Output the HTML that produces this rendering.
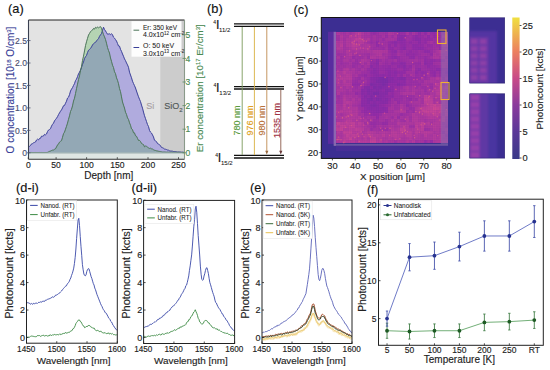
<!DOCTYPE html>
<html><head><meta charset="utf-8"><style>html,body{margin:0;padding:0;background:#fff;overflow:hidden}svg{display:block}text{font-family:"Liberation Sans",sans-serif}</style></head>
<body><svg width="550" height="370" viewBox="0 0 550 370" font-family="Liberation Sans, sans-serif"><rect x="28.50" y="20.00" width="156.00" height="139.20" fill="#e3e3e3" stroke="none" stroke-width="1" />
<rect x="160.30" y="20.00" width="24.20" height="139.20" fill="#cccccc" stroke="none" stroke-width="1" />
<rect x="28.50" y="152.80" width="156.00" height="6.40" fill="#dfe6e3" stroke="none" stroke-width="1" />
<path d="M28.50,152.80 L28.50,145.98 L29.50,146.33 L30.50,145.52 L31.50,143.90 L32.50,143.61 L33.50,142.81 L34.50,142.46 L35.50,141.98 L36.50,140.01 L37.50,139.17 L38.50,139.91 L39.50,138.45 L40.50,138.29 L41.50,136.17 L42.50,136.22 L43.50,135.96 L44.50,134.32 L45.50,134.86 L46.50,134.03 L47.50,131.55 L48.50,130.04 L49.50,129.46 L50.50,128.66 L51.50,126.15 L52.50,124.35 L53.50,123.19 L54.50,120.83 L55.50,119.52 L56.50,118.26 L57.50,116.70 L58.50,114.58 L59.50,112.92 L60.50,111.19 L61.50,109.92 L62.50,107.91 L63.50,105.72 L64.50,105.48 L65.50,103.27 L66.50,101.19 L67.50,98.07 L68.50,97.23 L69.50,94.70 L70.50,91.07 L71.50,89.16 L72.50,87.66 L73.50,85.46 L74.50,83.68 L75.50,80.58 L76.50,79.13 L77.50,76.67 L78.50,73.83 L79.50,72.16 L80.50,70.13 L81.50,67.51 L82.50,64.34 L83.50,61.93 L84.50,58.60 L85.50,56.74 L86.50,55.51 L87.50,52.59 L88.50,50.25 L89.50,49.52 L90.50,48.39 L91.50,46.93 L92.50,44.98 L93.50,43.69 L94.50,42.84 L95.50,42.35 L96.50,40.91 L97.50,39.70 L98.50,38.61 L99.50,36.33 L100.50,34.90 L101.50,33.52 L102.50,30.33 L103.50,27.20 L104.50,29.48 L105.50,30.93 L106.50,32.57 L107.50,34.23 L108.50,34.05 L109.50,33.83 L110.50,34.61 L111.50,33.68 L112.50,34.81 L113.50,37.21 L114.50,38.15 L115.50,39.59 L116.50,41.09 L117.50,43.43 L118.50,46.00 L119.50,46.12 L120.50,49.36 L121.50,51.33 L122.50,53.98 L123.50,56.25 L124.50,58.90 L125.50,60.63 L126.50,62.93 L127.50,64.90 L128.50,67.28 L129.50,72.15 L130.50,75.02 L131.50,77.76 L132.50,81.19 L133.50,83.53 L134.50,85.66 L135.50,88.01 L136.50,91.03 L137.50,93.98 L138.50,96.76 L139.50,99.28 L140.50,101.57 L141.50,105.10 L142.50,108.17 L143.50,112.07 L144.50,115.73 L145.50,118.60 L146.50,121.56 L147.50,124.55 L148.50,126.50 L149.50,130.42 L150.50,132.11 L151.50,133.05 L152.50,134.93 L153.50,136.93 L154.50,140.26 L155.50,140.86 L156.50,141.62 L157.50,143.56 L158.50,144.07 L159.50,144.64 L160.50,145.89 L161.50,147.43 L162.50,147.74 L163.50,148.26 L164.50,149.06 L165.50,149.22 L166.50,149.52 L167.50,150.01 L168.50,150.16 L169.50,150.76 L170.50,151.03 L171.50,151.07 L172.50,151.18 L173.50,151.56 L174.50,151.57 L175.50,151.61 L176.50,151.84 L177.50,152.00 L178.50,151.94 L179.50,151.99 L180.50,152.06 L181.50,152.19 L182.50,152.16 L183.50,152.28 L184.50,152.32 L184.50,152.80" stroke="none" fill="#b0abde" stroke-width="1" />
<path d="M28.50,152.80 L28.50,152.53 L29.50,152.53 L30.50,152.47 L31.50,152.47 L32.50,152.52 L33.50,152.52 L34.50,152.51 L35.50,152.49 L36.50,152.51 L37.50,152.51 L38.50,152.51 L39.50,152.48 L40.50,152.50 L41.50,152.49 L42.50,152.52 L43.50,152.53 L44.50,152.53 L45.50,152.50 L46.50,152.50 L47.50,152.39 L48.50,151.88 L49.50,151.39 L50.50,151.06 L51.50,150.54 L52.50,150.12 L53.50,150.01 L54.50,149.32 L55.50,148.81 L56.50,146.93 L57.50,145.01 L58.50,143.96 L59.50,142.13 L60.50,141.31 L61.50,140.70 L62.50,137.33 L63.50,133.66 L64.50,132.16 L65.50,129.20 L66.50,126.30 L67.50,123.14 L68.50,119.33 L69.50,115.83 L70.50,111.49 L71.50,109.25 L72.50,105.86 L73.50,101.07 L74.50,98.19 L75.50,93.58 L76.50,88.58 L77.50,84.17 L78.50,79.55 L79.50,75.80 L80.50,70.49 L81.50,66.55 L82.50,60.49 L83.50,56.17 L84.50,50.93 L85.50,45.61 L86.50,41.77 L87.50,38.38 L88.50,35.10 L89.50,33.43 L90.50,31.70 L91.50,30.63 L92.50,30.06 L93.50,28.44 L94.50,29.12 L95.50,27.31 L96.50,28.17 L97.50,26.88 L98.50,27.84 L99.50,27.18 L100.50,26.61 L101.50,28.16 L102.50,31.65 L103.50,34.56 L104.50,36.86 L105.50,39.47 L106.50,43.20 L107.50,47.51 L108.50,50.50 L109.50,53.06 L110.50,57.95 L111.50,61.33 L112.50,65.21 L113.50,67.47 L114.50,71.79 L115.50,73.64 L116.50,77.80 L117.50,80.29 L118.50,83.71 L119.50,88.57 L120.50,91.65 L121.50,96.86 L122.50,101.92 L123.50,105.14 L124.50,108.05 L125.50,112.23 L126.50,114.39 L127.50,117.89 L128.50,119.43 L129.50,122.80 L130.50,125.23 L131.50,128.91 L132.50,129.55 L133.50,132.82 L134.50,132.85 L135.50,135.81 L136.50,136.24 L137.50,138.36 L138.50,140.46 L139.50,140.37 L140.50,141.51 L141.50,143.51 L142.50,144.06 L143.50,144.59 L144.50,146.84 L145.50,146.02 L146.50,146.31 L147.50,147.14 L148.50,147.87 L149.50,148.40 L150.50,148.18 L151.50,148.82 L152.50,149.01 L153.50,149.74 L154.50,150.24 L155.50,150.47 L156.50,150.79 L157.50,150.96 L158.50,151.24 L159.50,151.43 L160.50,151.61 L161.50,151.81 L162.50,152.04 L163.50,152.00 L164.50,151.99 L165.50,152.07 L166.50,152.16 L167.50,152.07 L168.50,152.16 L169.50,152.15 L170.50,152.19 L171.50,152.16 L172.50,152.29 L173.50,152.23 L174.50,152.29 L175.50,152.29 L176.50,152.27 L177.50,152.35 L178.50,152.33 L179.50,152.35 L180.50,152.37 L181.50,152.41 L182.50,152.42 L183.50,152.49 L184.50,152.50 L184.50,152.80" stroke="none" fill="#b5d4b3" stroke-width="1" />
<path d="M28.50,152.80 L28.50,152.53 L29.50,152.53 L30.50,152.47 L31.50,152.47 L32.50,152.52 L33.50,152.52 L34.50,152.51 L35.50,152.49 L36.50,152.51 L37.50,152.51 L38.50,152.51 L39.50,152.48 L40.50,152.50 L41.50,152.49 L42.50,152.52 L43.50,152.53 L44.50,152.53 L45.50,152.50 L46.50,152.50 L47.50,152.39 L48.50,151.88 L49.50,151.39 L50.50,151.06 L51.50,150.54 L52.50,150.12 L53.50,150.01 L54.50,149.32 L55.50,148.81 L56.50,146.93 L57.50,145.01 L58.50,143.96 L59.50,142.13 L60.50,141.31 L61.50,140.70 L62.50,137.33 L63.50,133.66 L64.50,132.16 L65.50,129.20 L66.50,126.30 L67.50,123.14 L68.50,119.33 L69.50,115.83 L70.50,111.49 L71.50,109.25 L72.50,105.86 L73.50,101.07 L74.50,98.19 L75.50,93.58 L76.50,88.58 L77.50,84.17 L78.50,79.55 L79.50,75.80 L80.50,70.49 L81.50,67.51 L82.50,64.34 L83.50,61.93 L84.50,58.60 L85.50,56.74 L86.50,55.51 L87.50,52.59 L88.50,50.25 L89.50,49.52 L90.50,48.39 L91.50,46.93 L92.50,44.98 L93.50,43.69 L94.50,42.84 L95.50,42.35 L96.50,40.91 L97.50,39.70 L98.50,38.61 L99.50,36.33 L100.50,34.90 L101.50,33.52 L102.50,31.65 L103.50,34.56 L104.50,36.86 L105.50,39.47 L106.50,43.20 L107.50,47.51 L108.50,50.50 L109.50,53.06 L110.50,57.95 L111.50,61.33 L112.50,65.21 L113.50,67.47 L114.50,71.79 L115.50,73.64 L116.50,77.80 L117.50,80.29 L118.50,83.71 L119.50,88.57 L120.50,91.65 L121.50,96.86 L122.50,101.92 L123.50,105.14 L124.50,108.05 L125.50,112.23 L126.50,114.39 L127.50,117.89 L128.50,119.43 L129.50,122.80 L130.50,125.23 L131.50,128.91 L132.50,129.55 L133.50,132.82 L134.50,132.85 L135.50,135.81 L136.50,136.24 L137.50,138.36 L138.50,140.46 L139.50,140.37 L140.50,141.51 L141.50,143.51 L142.50,144.06 L143.50,144.59 L144.50,146.84 L145.50,146.02 L146.50,146.31 L147.50,147.14 L148.50,147.87 L149.50,148.40 L150.50,148.18 L151.50,148.82 L152.50,149.01 L153.50,149.74 L154.50,150.24 L155.50,150.47 L156.50,150.79 L157.50,150.96 L158.50,151.24 L159.50,151.43 L160.50,151.61 L161.50,151.81 L162.50,152.04 L163.50,152.00 L164.50,151.99 L165.50,152.07 L166.50,152.16 L167.50,152.07 L168.50,152.16 L169.50,152.15 L170.50,152.19 L171.50,152.16 L172.50,152.29 L173.50,152.23 L174.50,152.29 L175.50,152.29 L176.50,152.27 L177.50,152.35 L178.50,152.33 L179.50,152.35 L180.50,152.37 L181.50,152.41 L182.50,152.42 L183.50,152.49 L184.50,152.50 L184.50,152.80" stroke="none" fill="#93a8b5" stroke-width="1" />
<path d="M28.50,145.98 L29.50,146.33 L30.50,145.52 L31.50,143.90 L32.50,143.61 L33.50,142.81 L34.50,142.46 L35.50,141.98 L36.50,140.01 L37.50,139.17 L38.50,139.91 L39.50,138.45 L40.50,138.29 L41.50,136.17 L42.50,136.22 L43.50,135.96 L44.50,134.32 L45.50,134.86 L46.50,134.03 L47.50,131.55 L48.50,130.04 L49.50,129.46 L50.50,128.66 L51.50,126.15 L52.50,124.35 L53.50,123.19 L54.50,120.83 L55.50,119.52 L56.50,118.26 L57.50,116.70 L58.50,114.58 L59.50,112.92 L60.50,111.19 L61.50,109.92 L62.50,107.91 L63.50,105.72 L64.50,105.48 L65.50,103.27 L66.50,101.19 L67.50,98.07 L68.50,97.23 L69.50,94.70 L70.50,91.07 L71.50,89.16 L72.50,87.66 L73.50,85.46 L74.50,83.68 L75.50,80.58 L76.50,79.13 L77.50,76.67 L78.50,73.83 L79.50,72.16 L80.50,70.13 L81.50,67.51 L82.50,64.34 L83.50,61.93 L84.50,58.60 L85.50,56.74 L86.50,55.51 L87.50,52.59 L88.50,50.25 L89.50,49.52 L90.50,48.39 L91.50,46.93 L92.50,44.98 L93.50,43.69 L94.50,42.84 L95.50,42.35 L96.50,40.91 L97.50,39.70 L98.50,38.61 L99.50,36.33 L100.50,34.90 L101.50,33.52 L102.50,30.33 L103.50,27.20 L104.50,29.48 L105.50,30.93 L106.50,32.57 L107.50,34.23 L108.50,34.05 L109.50,33.83 L110.50,34.61 L111.50,33.68 L112.50,34.81 L113.50,37.21 L114.50,38.15 L115.50,39.59 L116.50,41.09 L117.50,43.43 L118.50,46.00 L119.50,46.12 L120.50,49.36 L121.50,51.33 L122.50,53.98 L123.50,56.25 L124.50,58.90 L125.50,60.63 L126.50,62.93 L127.50,64.90 L128.50,67.28 L129.50,72.15 L130.50,75.02 L131.50,77.76 L132.50,81.19 L133.50,83.53 L134.50,85.66 L135.50,88.01 L136.50,91.03 L137.50,93.98 L138.50,96.76 L139.50,99.28 L140.50,101.57 L141.50,105.10 L142.50,108.17 L143.50,112.07 L144.50,115.73 L145.50,118.60 L146.50,121.56 L147.50,124.55 L148.50,126.50 L149.50,130.42 L150.50,132.11 L151.50,133.05 L152.50,134.93 L153.50,136.93 L154.50,140.26 L155.50,140.86 L156.50,141.62 L157.50,143.56 L158.50,144.07 L159.50,144.64 L160.50,145.89 L161.50,147.43 L162.50,147.74 L163.50,148.26 L164.50,149.06 L165.50,149.22 L166.50,149.52 L167.50,150.01 L168.50,150.16 L169.50,150.76 L170.50,151.03 L171.50,151.07 L172.50,151.18 L173.50,151.56 L174.50,151.57 L175.50,151.61 L176.50,151.84 L177.50,152.00 L178.50,151.94 L179.50,151.99 L180.50,152.06 L181.50,152.19 L182.50,152.16 L183.50,152.28 L184.50,152.32" stroke="#3a3f98" fill="none" stroke-width="1" stroke-linejoin="round"/>
<path d="M28.50,152.53 L29.50,152.53 L30.50,152.47 L31.50,152.47 L32.50,152.52 L33.50,152.52 L34.50,152.51 L35.50,152.49 L36.50,152.51 L37.50,152.51 L38.50,152.51 L39.50,152.48 L40.50,152.50 L41.50,152.49 L42.50,152.52 L43.50,152.53 L44.50,152.53 L45.50,152.50 L46.50,152.50 L47.50,152.39 L48.50,151.88 L49.50,151.39 L50.50,151.06 L51.50,150.54 L52.50,150.12 L53.50,150.01 L54.50,149.32 L55.50,148.81 L56.50,146.93 L57.50,145.01 L58.50,143.96 L59.50,142.13 L60.50,141.31 L61.50,140.70 L62.50,137.33 L63.50,133.66 L64.50,132.16 L65.50,129.20 L66.50,126.30 L67.50,123.14 L68.50,119.33 L69.50,115.83 L70.50,111.49 L71.50,109.25 L72.50,105.86 L73.50,101.07 L74.50,98.19 L75.50,93.58 L76.50,88.58 L77.50,84.17 L78.50,79.55 L79.50,75.80 L80.50,70.49 L81.50,66.55 L82.50,60.49 L83.50,56.17 L84.50,50.93 L85.50,45.61 L86.50,41.77 L87.50,38.38 L88.50,35.10 L89.50,33.43 L90.50,31.70 L91.50,30.63 L92.50,30.06 L93.50,28.44 L94.50,29.12 L95.50,27.31 L96.50,28.17 L97.50,26.88 L98.50,27.84 L99.50,27.18 L100.50,26.61 L101.50,28.16 L102.50,31.65 L103.50,34.56 L104.50,36.86 L105.50,39.47 L106.50,43.20 L107.50,47.51 L108.50,50.50 L109.50,53.06 L110.50,57.95 L111.50,61.33 L112.50,65.21 L113.50,67.47 L114.50,71.79 L115.50,73.64 L116.50,77.80 L117.50,80.29 L118.50,83.71 L119.50,88.57 L120.50,91.65 L121.50,96.86 L122.50,101.92 L123.50,105.14 L124.50,108.05 L125.50,112.23 L126.50,114.39 L127.50,117.89 L128.50,119.43 L129.50,122.80 L130.50,125.23 L131.50,128.91 L132.50,129.55 L133.50,132.82 L134.50,132.85 L135.50,135.81 L136.50,136.24 L137.50,138.36 L138.50,140.46 L139.50,140.37 L140.50,141.51 L141.50,143.51 L142.50,144.06 L143.50,144.59 L144.50,146.84 L145.50,146.02 L146.50,146.31 L147.50,147.14 L148.50,147.87 L149.50,148.40 L150.50,148.18 L151.50,148.82 L152.50,149.01 L153.50,149.74 L154.50,150.24 L155.50,150.47 L156.50,150.79 L157.50,150.96 L158.50,151.24 L159.50,151.43 L160.50,151.61 L161.50,151.81 L162.50,152.04 L163.50,152.00 L164.50,151.99 L165.50,152.07 L166.50,152.16 L167.50,152.07 L168.50,152.16 L169.50,152.15 L170.50,152.19 L171.50,152.16 L172.50,152.29 L173.50,152.23 L174.50,152.29 L175.50,152.29 L176.50,152.27 L177.50,152.35 L178.50,152.33 L179.50,152.35 L180.50,152.37 L181.50,152.41 L182.50,152.42 L183.50,152.49 L184.50,152.50" stroke="#4a7358" fill="none" stroke-width="1" stroke-linejoin="round"/>
<line x1="28.50" y1="153.10" x2="184.50" y2="153.10" stroke="#a8b8b8" stroke-width="1" />
<line x1="28.50" y1="20.00" x2="184.50" y2="20.00" stroke="#222" stroke-width="1.1" />
<line x1="28.50" y1="159.20" x2="184.50" y2="159.20" stroke="#333" stroke-width="1.1" />
<line x1="28.50" y1="20.00" x2="28.50" y2="159.20" stroke="#3a4050" stroke-width="1.1" />
<line x1="184.50" y1="20.00" x2="184.50" y2="159.20" stroke="#8a9a8a" stroke-width="1.1" />
<rect x="131.50" y="21.20" width="50.00" height="35.50" fill="#fff" stroke="none" stroke-width="1" fill-opacity="0.93"/>
<line x1="133.50" y1="30.20" x2="139.20" y2="30.20" stroke="#4a7358" stroke-width="1" />
<line x1="133.50" y1="47.50" x2="139.20" y2="47.50" stroke="#3a3f98" stroke-width="1" />
<text x="143.0" y="29.8" font-size="7" fill="#222" stroke="#222" stroke-width="0.06" text-anchor="start" textLength="34" lengthAdjust="spacingAndGlyphs">Er: 350 keV</text>
<text x="143.0" y="37.2" font-size="7" fill="#222" stroke="#222" stroke-width="0.06" text-anchor="start" >4.0x10<tspan font-size="4.5" dy="-2.5">12</tspan><tspan dy="2.5"> cm</tspan><tspan font-size="4.5" dy="-2.5">-2</tspan></text>
<text x="143.0" y="48.3" font-size="7" fill="#222" stroke="#222" stroke-width="0.06" text-anchor="start" >O: 50 keV</text>
<text x="143.0" y="55.6" font-size="7" fill="#222" stroke="#222" stroke-width="0.06" text-anchor="start" >3.0x10<tspan font-size="4.5" dy="-2.5">13</tspan><tspan dy="2.5"> cm</tspan><tspan font-size="4.5" dy="-2.5">-2</tspan></text>
<text x="146.3" y="109.3" font-size="9" fill="#a8a0a4" stroke="#a8a0a4" stroke-width="0.14" text-anchor="start" >Si</text>
<text x="164.3" y="109.3" font-size="9" fill="#505858" stroke="#505858" stroke-width="0.14" text-anchor="start" >SiO<tspan font-size="6" dy="2.5">2</tspan></text>
<line x1="27.00" y1="152.80" x2="30.50" y2="152.80" stroke="#4a5070" stroke-width="0.8" />
<text x="27.0" y="155.9" font-size="8.6" fill="#4a5070" stroke="#4a5070" stroke-width="0.14" text-anchor="end" >0</text>
<line x1="27.00" y1="130.35" x2="30.50" y2="130.35" stroke="#4a5070" stroke-width="0.8" />
<text x="27.0" y="133.5" font-size="8.6" fill="#4a5070" stroke="#4a5070" stroke-width="0.14" text-anchor="end" >0.5</text>
<line x1="27.00" y1="107.90" x2="30.50" y2="107.90" stroke="#4a5070" stroke-width="0.8" />
<text x="27.0" y="111.0" font-size="8.6" fill="#4a5070" stroke="#4a5070" stroke-width="0.14" text-anchor="end" >1.0</text>
<line x1="27.00" y1="85.45" x2="30.50" y2="85.45" stroke="#4a5070" stroke-width="0.8" />
<text x="27.0" y="88.6" font-size="8.6" fill="#4a5070" stroke="#4a5070" stroke-width="0.14" text-anchor="end" >1.5</text>
<line x1="27.00" y1="63.00" x2="30.50" y2="63.00" stroke="#4a5070" stroke-width="0.8" />
<text x="27.0" y="66.1" font-size="8.6" fill="#4a5070" stroke="#4a5070" stroke-width="0.14" text-anchor="end" >2.0</text>
<line x1="27.00" y1="40.55" x2="30.50" y2="40.55" stroke="#4a5070" stroke-width="0.8" />
<text x="27.0" y="43.7" font-size="8.6" fill="#4a5070" stroke="#4a5070" stroke-width="0.14" text-anchor="end" >2.5</text>
<line x1="182.50" y1="152.80" x2="186.00" y2="152.80" stroke="#5a8a60" stroke-width="0.8" />
<text x="185.6" y="155.9" font-size="8.6" fill="#4a8a55" stroke="#4a8a55" stroke-width="0.14" text-anchor="start" >0</text>
<line x1="182.50" y1="129.20" x2="186.00" y2="129.20" stroke="#5a8a60" stroke-width="0.8" />
<text x="185.6" y="132.3" font-size="8.6" fill="#4a8a55" stroke="#4a8a55" stroke-width="0.14" text-anchor="start" >1</text>
<line x1="182.50" y1="105.60" x2="186.00" y2="105.60" stroke="#5a8a60" stroke-width="0.8" />
<text x="185.6" y="108.7" font-size="8.6" fill="#4a8a55" stroke="#4a8a55" stroke-width="0.14" text-anchor="start" >2</text>
<line x1="182.50" y1="82.00" x2="186.00" y2="82.00" stroke="#5a8a60" stroke-width="0.8" />
<text x="185.6" y="85.1" font-size="8.6" fill="#4a8a55" stroke="#4a8a55" stroke-width="0.14" text-anchor="start" >3</text>
<line x1="182.50" y1="58.40" x2="186.00" y2="58.40" stroke="#5a8a60" stroke-width="0.8" />
<text x="185.6" y="61.5" font-size="8.6" fill="#4a8a55" stroke="#4a8a55" stroke-width="0.14" text-anchor="start" >4</text>
<line x1="182.50" y1="34.80" x2="186.00" y2="34.80" stroke="#5a8a60" stroke-width="0.8" />
<text x="185.6" y="37.9" font-size="8.6" fill="#4a8a55" stroke="#4a8a55" stroke-width="0.14" text-anchor="start" >5</text>
<line x1="28.30" y1="159.20" x2="28.30" y2="157.20" stroke="#333" stroke-width="0.8" />
<text x="28.3" y="167.5" font-size="8.6" fill="#222" stroke="#222" stroke-width="0.14" text-anchor="middle" >0</text>
<line x1="56.10" y1="159.20" x2="56.10" y2="157.20" stroke="#333" stroke-width="0.8" />
<text x="56.1" y="167.5" font-size="8.6" fill="#222" stroke="#222" stroke-width="0.14" text-anchor="middle" >50</text>
<line x1="86.60" y1="159.20" x2="86.60" y2="157.20" stroke="#333" stroke-width="0.8" />
<text x="86.6" y="167.5" font-size="8.6" fill="#222" stroke="#222" stroke-width="0.14" text-anchor="middle" >100</text>
<line x1="117.30" y1="159.20" x2="117.30" y2="157.20" stroke="#333" stroke-width="0.8" />
<text x="117.3" y="167.5" font-size="8.6" fill="#222" stroke="#222" stroke-width="0.14" text-anchor="middle" >150</text>
<line x1="148.00" y1="159.20" x2="148.00" y2="157.20" stroke="#333" stroke-width="0.8" />
<text x="148.0" y="167.5" font-size="8.6" fill="#222" stroke="#222" stroke-width="0.14" text-anchor="middle" >200</text>
<line x1="178.50" y1="159.20" x2="178.50" y2="157.20" stroke="#333" stroke-width="0.8" />
<text x="178.5" y="167.5" font-size="8.6" fill="#222" stroke="#222" stroke-width="0.14" text-anchor="middle" >250</text>
<text x="108.8" y="178.5" font-size="10" fill="#222" stroke="#222" stroke-width="0.14" text-anchor="middle" >Depth [nm]</text>
<text x="13.5" y="90.0" font-size="10" fill="#3a3f98" stroke="#3a3f98" stroke-width="0.14" text-anchor="middle" transform="rotate(-90 13.5 90)" >O concentration [10<tspan font-size="6" dy="-3">18</tspan><tspan dy="3"> O/cm</tspan><tspan font-size="6" dy="-3">3</tspan><tspan dy="3">]</tspan></text>
<text x="203.0" y="88.3" font-size="9.75" fill="#4a8a52" stroke="#4a8a52" stroke-width="0.14" text-anchor="middle" transform="rotate(-90 203 88.3)" >Er concentration [10<tspan font-size="5.9" dy="-3">17</tspan><tspan dy="3"> Er/cm</tspan><tspan font-size="5.9" dy="-3">3</tspan><tspan dy="3">]</tspan></text>
<text x="8.0" y="13.3" font-size="12.8" fill="#111" stroke="#111" stroke-width="0.14" text-anchor="start" >(a)</text>
<text x="207.0" y="13.3" font-size="12.8" fill="#111" stroke="#111" stroke-width="0.14" text-anchor="start" >(b)</text>
<line x1="234.00" y1="23.80" x2="284.00" y2="23.80" stroke="#111" stroke-width="1.3" />
<line x1="234.00" y1="26.30" x2="284.00" y2="26.30" stroke="#111" stroke-width="1.3" />
<line x1="234.00" y1="86.60" x2="284.00" y2="86.60" stroke="#111" stroke-width="1.3" />
<line x1="234.00" y1="89.00" x2="284.00" y2="89.00" stroke="#111" stroke-width="1.3" />
<line x1="234.00" y1="155.30" x2="284.00" y2="155.30" stroke="#111" stroke-width="1.3" />
<line x1="234.00" y1="158.00" x2="284.00" y2="158.00" stroke="#111" stroke-width="1.3" />
<line x1="242.20" y1="27.00" x2="242.20" y2="155.00" stroke="#7a9a5a" stroke-width="0.9" />
<line x1="254.40" y1="27.00" x2="254.40" y2="155.00" stroke="#d8b040" stroke-width="0.9" />
<line x1="266.80" y1="27.00" x2="266.80" y2="151.00" stroke="#c08a50" stroke-width="0.9" />
<path d="M265.2,150.8 L268.4,150.8 L266.8,154.6 Z" fill="#9a6a40"/>
<line x1="280.80" y1="89.50" x2="280.80" y2="151.00" stroke="#8a5a4a" stroke-width="0.9" />
<path d="M279.2,150.8 L282.4,150.8 L280.8,154.6 Z" fill="#6a3a3a"/>
<text x="213.3" y="23.5" font-size="5" fill="#111" stroke="#111" stroke-width="0.06" text-anchor="start" >4</text>
<text x="215.9" y="28.8" font-size="12.5" fill="#111" stroke="#111" stroke-width="0.14" text-anchor="start" >I</text>
<text x="219.1" y="31.5" font-size="6" fill="#111" stroke="#111" stroke-width="0.06" text-anchor="start" >11/2</text>
<text x="213.5" y="86.5" font-size="5" fill="#111" stroke="#111" stroke-width="0.06" text-anchor="start" >4</text>
<text x="216.1" y="91.8" font-size="12.5" fill="#111" stroke="#111" stroke-width="0.14" text-anchor="start" >I</text>
<text x="219.3" y="94.5" font-size="6" fill="#111" stroke="#111" stroke-width="0.06" text-anchor="start" >13/2</text>
<text x="215.2" y="156.7" font-size="5" fill="#111" stroke="#111" stroke-width="0.06" text-anchor="start" >4</text>
<text x="217.8" y="162.0" font-size="12.5" fill="#111" stroke="#111" stroke-width="0.14" text-anchor="start" >I</text>
<text x="221.0" y="164.7" font-size="6" fill="#111" stroke="#111" stroke-width="0.06" text-anchor="start" >15/2</text>
<text x="240.3" y="120.5" font-size="9" fill="#5a9a40" stroke="#5a9a40" stroke-width="0.14" text-anchor="middle" transform="rotate(-90 240.3 120.5)" >780 nm</text>
<text x="252.5" y="120.5" font-size="9" fill="#e0a020" stroke="#e0a020" stroke-width="0.14" text-anchor="middle" transform="rotate(-90 252.5 120.5)" >976 nm</text>
<text x="264.7" y="120.5" font-size="9" fill="#b87038" stroke="#b87038" stroke-width="0.14" text-anchor="middle" transform="rotate(-90 264.7 120.5)" >980 nm</text>
<text x="279.5" y="120.5" font-size="9" fill="#a03040" stroke="#a03040" stroke-width="0.14" text-anchor="middle" transform="rotate(-90 279.5 120.5)" >1535 nm</text>
<text x="293.5" y="13.5" font-size="12.8" fill="#111" stroke="#111" stroke-width="0.14" text-anchor="start" >(c)</text>
<rect x="321.30" y="17.50" width="138.30" height="140.90" fill="#3c2e92" stroke="none" stroke-width="1" />
<g shape-rendering="crispEdges">
<rect x="334.0" y="31.8" width="3" height="3" fill="#a935a2"/>
<rect x="337.0" y="31.8" width="3" height="3" fill="#b2399f"/>
<rect x="340.0" y="31.8" width="3" height="3" fill="#ab36a1"/>
<rect x="343.0" y="31.8" width="3" height="3" fill="#a633a3"/>
<rect x="346.0" y="31.8" width="3" height="3" fill="#af37a0"/>
<rect x="349.0" y="31.8" width="3" height="3" fill="#a633a2"/>
<rect x="352.0" y="31.8" width="3" height="3" fill="#ae37a0"/>
<rect x="355.0" y="31.8" width="3" height="3" fill="#b83c9d"/>
<rect x="358.0" y="31.8" width="3" height="3" fill="#bd3e9c"/>
<rect x="361.0" y="31.8" width="3" height="3" fill="#b1389f"/>
<rect x="364.0" y="31.8" width="3" height="3" fill="#a734a2"/>
<rect x="367.0" y="31.8" width="3" height="3" fill="#ac36a1"/>
<rect x="370.0" y="31.8" width="3" height="3" fill="#9d2fa5"/>
<rect x="373.0" y="31.8" width="3" height="3" fill="#992da6"/>
<rect x="376.0" y="31.8" width="3" height="3" fill="#9f30a5"/>
<rect x="379.0" y="31.8" width="3" height="3" fill="#a734a2"/>
<rect x="382.0" y="31.8" width="3" height="3" fill="#a533a3"/>
<rect x="385.0" y="31.8" width="3" height="3" fill="#a231a4"/>
<rect x="388.0" y="31.8" width="3" height="3" fill="#b2399f"/>
<rect x="391.0" y="31.8" width="3" height="3" fill="#af37a0"/>
<rect x="394.0" y="31.8" width="3" height="3" fill="#a633a3"/>
<rect x="397.0" y="31.8" width="3" height="3" fill="#932ca8"/>
<rect x="400.0" y="31.8" width="3" height="3" fill="#9b2ea6"/>
<rect x="403.0" y="31.8" width="3" height="3" fill="#9c2fa5"/>
<rect x="406.0" y="31.8" width="3" height="3" fill="#af37a0"/>
<rect x="409.0" y="31.8" width="3" height="3" fill="#9c2fa6"/>
<rect x="412.0" y="31.8" width="3" height="3" fill="#ab36a1"/>
<rect x="415.0" y="31.8" width="3" height="3" fill="#a231a4"/>
<rect x="418.0" y="31.8" width="3" height="3" fill="#932ca8"/>
<rect x="421.0" y="31.8" width="3" height="3" fill="#a131a4"/>
<rect x="424.0" y="31.8" width="3" height="3" fill="#952ca8"/>
<rect x="427.0" y="31.8" width="3" height="3" fill="#a734a2"/>
<rect x="430.0" y="31.8" width="3" height="3" fill="#9a2ea6"/>
<rect x="433.0" y="31.8" width="3" height="3" fill="#952ca8"/>
<rect x="436.0" y="31.8" width="3" height="3" fill="#a332a4"/>
<rect x="439.0" y="31.8" width="3" height="3" fill="#9f30a5"/>
<rect x="442.0" y="31.8" width="3" height="3" fill="#a834a2"/>
<rect x="445.0" y="31.8" width="3" height="3" fill="#a734a2"/>
<rect x="334.0" y="34.8" width="3" height="3" fill="#a332a3"/>
<rect x="337.0" y="34.8" width="3" height="3" fill="#a633a3"/>
<rect x="340.0" y="34.8" width="3" height="3" fill="#b53a9e"/>
<rect x="343.0" y="34.8" width="3" height="3" fill="#a935a2"/>
<rect x="346.0" y="34.8" width="3" height="3" fill="#aa35a1"/>
<rect x="349.0" y="34.8" width="3" height="3" fill="#b73b9d"/>
<rect x="352.0" y="34.8" width="3" height="3" fill="#b2399f"/>
<rect x="355.0" y="34.8" width="3" height="3" fill="#b3399f"/>
<rect x="358.0" y="34.8" width="3" height="3" fill="#bc3d9c"/>
<rect x="361.0" y="34.8" width="3" height="3" fill="#ad36a0"/>
<rect x="364.0" y="34.8" width="3" height="3" fill="#a734a2"/>
<rect x="367.0" y="34.8" width="3" height="3" fill="#a834a2"/>
<rect x="370.0" y="34.8" width="3" height="3" fill="#a131a4"/>
<rect x="373.0" y="34.8" width="3" height="3" fill="#aa35a1"/>
<rect x="376.0" y="34.8" width="3" height="3" fill="#a131a4"/>
<rect x="379.0" y="34.8" width="3" height="3" fill="#a131a4"/>
<rect x="382.0" y="34.8" width="3" height="3" fill="#ab36a1"/>
<rect x="385.0" y="34.8" width="3" height="3" fill="#9d2fa5"/>
<rect x="388.0" y="34.8" width="3" height="3" fill="#ac36a1"/>
<rect x="391.0" y="34.8" width="3" height="3" fill="#a131a4"/>
<rect x="394.0" y="34.8" width="3" height="3" fill="#ae37a0"/>
<rect x="397.0" y="34.8" width="3" height="3" fill="#932ca8"/>
<rect x="400.0" y="34.8" width="3" height="3" fill="#8e2ca8"/>
<rect x="403.0" y="34.8" width="3" height="3" fill="#902ca8"/>
<rect x="406.0" y="34.8" width="3" height="3" fill="#9e30a5"/>
<rect x="409.0" y="34.8" width="3" height="3" fill="#a232a4"/>
<rect x="412.0" y="34.8" width="3" height="3" fill="#992da6"/>
<rect x="415.0" y="34.8" width="3" height="3" fill="#8f2ca8"/>
<rect x="418.0" y="34.8" width="3" height="3" fill="#972ca7"/>
<rect x="421.0" y="34.8" width="3" height="3" fill="#9a2ea6"/>
<rect x="424.0" y="34.8" width="3" height="3" fill="#a131a4"/>
<rect x="427.0" y="34.8" width="3" height="3" fill="#942ca8"/>
<rect x="430.0" y="34.8" width="3" height="3" fill="#9f30a5"/>
<rect x="433.0" y="34.8" width="3" height="3" fill="#962ca7"/>
<rect x="436.0" y="34.8" width="3" height="3" fill="#9e30a5"/>
<rect x="439.0" y="34.8" width="3" height="3" fill="#9b2ea6"/>
<rect x="442.0" y="34.8" width="3" height="3" fill="#b63b9e"/>
<rect x="445.0" y="34.8" width="3" height="3" fill="#b1389f"/>
<rect x="334.0" y="37.8" width="3" height="3" fill="#a432a3"/>
<rect x="337.0" y="37.8" width="3" height="3" fill="#a332a4"/>
<rect x="340.0" y="37.8" width="3" height="3" fill="#b1389f"/>
<rect x="343.0" y="37.8" width="3" height="3" fill="#a633a2"/>
<rect x="346.0" y="37.8" width="3" height="3" fill="#b2399f"/>
<rect x="349.0" y="37.8" width="3" height="3" fill="#b1389f"/>
<rect x="352.0" y="37.8" width="3" height="3" fill="#b53a9e"/>
<rect x="355.0" y="37.8" width="3" height="3" fill="#c1409b"/>
<rect x="358.0" y="37.8" width="3" height="3" fill="#bf3f9b"/>
<rect x="361.0" y="37.8" width="3" height="3" fill="#b83c9d"/>
<rect x="364.0" y="37.8" width="3" height="3" fill="#ad37a0"/>
<rect x="367.0" y="37.8" width="3" height="3" fill="#b53a9e"/>
<rect x="370.0" y="37.8" width="3" height="3" fill="#a231a4"/>
<rect x="373.0" y="37.8" width="3" height="3" fill="#a834a2"/>
<rect x="376.0" y="37.8" width="3" height="3" fill="#a231a4"/>
<rect x="379.0" y="37.8" width="3" height="3" fill="#a834a2"/>
<rect x="382.0" y="37.8" width="3" height="3" fill="#9c2fa6"/>
<rect x="385.0" y="37.8" width="3" height="3" fill="#aa35a1"/>
<rect x="388.0" y="37.8" width="3" height="3" fill="#ab36a1"/>
<rect x="391.0" y="37.8" width="3" height="3" fill="#ab36a1"/>
<rect x="394.0" y="37.8" width="3" height="3" fill="#a633a3"/>
<rect x="397.0" y="37.8" width="3" height="3" fill="#8e2ca8"/>
<rect x="400.0" y="37.8" width="3" height="3" fill="#8d2ca8"/>
<rect x="403.0" y="37.8" width="3" height="3" fill="#922ca8"/>
<rect x="406.0" y="37.8" width="3" height="3" fill="#a332a3"/>
<rect x="409.0" y="37.8" width="3" height="3" fill="#9f30a5"/>
<rect x="412.0" y="37.8" width="3" height="3" fill="#962ca7"/>
<rect x="415.0" y="37.8" width="3" height="3" fill="#8e2ca8"/>
<rect x="418.0" y="37.8" width="3" height="3" fill="#8e2ca8"/>
<rect x="421.0" y="37.8" width="3" height="3" fill="#9b2ea6"/>
<rect x="424.0" y="37.8" width="3" height="3" fill="#962ca7"/>
<rect x="427.0" y="37.8" width="3" height="3" fill="#982ca7"/>
<rect x="430.0" y="37.8" width="3" height="3" fill="#992da7"/>
<rect x="433.0" y="37.8" width="3" height="3" fill="#a030a4"/>
<rect x="436.0" y="37.8" width="3" height="3" fill="#a332a3"/>
<rect x="439.0" y="37.8" width="3" height="3" fill="#9f30a5"/>
<rect x="442.0" y="37.8" width="3" height="3" fill="#a733a2"/>
<rect x="445.0" y="37.8" width="3" height="3" fill="#b3399f"/>
<rect x="334.0" y="40.8" width="3" height="3" fill="#b73b9d"/>
<rect x="337.0" y="40.8" width="3" height="3" fill="#b1389f"/>
<rect x="340.0" y="40.8" width="3" height="3" fill="#b63b9e"/>
<rect x="343.0" y="40.8" width="3" height="3" fill="#a935a2"/>
<rect x="346.0" y="40.8" width="3" height="3" fill="#b43a9e"/>
<rect x="349.0" y="40.8" width="3" height="3" fill="#b2399f"/>
<rect x="352.0" y="40.8" width="3" height="3" fill="#c1409b"/>
<rect x="355.0" y="40.8" width="3" height="3" fill="#b038a0"/>
<rect x="358.0" y="40.8" width="3" height="3" fill="#bc3d9c"/>
<rect x="361.0" y="40.8" width="3" height="3" fill="#b83c9d"/>
<rect x="364.0" y="40.8" width="3" height="3" fill="#ad36a0"/>
<rect x="367.0" y="40.8" width="3" height="3" fill="#a533a3"/>
<rect x="370.0" y="40.8" width="3" height="3" fill="#9e2fa5"/>
<rect x="373.0" y="40.8" width="3" height="3" fill="#a332a3"/>
<rect x="376.0" y="40.8" width="3" height="3" fill="#952ca8"/>
<rect x="379.0" y="40.8" width="3" height="3" fill="#a533a3"/>
<rect x="382.0" y="40.8" width="3" height="3" fill="#a332a4"/>
<rect x="385.0" y="40.8" width="3" height="3" fill="#a432a3"/>
<rect x="388.0" y="40.8" width="3" height="3" fill="#9a2ea6"/>
<rect x="391.0" y="40.8" width="3" height="3" fill="#962ca7"/>
<rect x="394.0" y="40.8" width="3" height="3" fill="#8f2ca8"/>
<rect x="397.0" y="40.8" width="3" height="3" fill="#992da6"/>
<rect x="400.0" y="40.8" width="3" height="3" fill="#922ca8"/>
<rect x="403.0" y="40.8" width="3" height="3" fill="#952ca8"/>
<rect x="406.0" y="40.8" width="3" height="3" fill="#9d2fa5"/>
<rect x="409.0" y="40.8" width="3" height="3" fill="#962ca7"/>
<rect x="412.0" y="40.8" width="3" height="3" fill="#9c2fa6"/>
<rect x="415.0" y="40.8" width="3" height="3" fill="#9b2ea6"/>
<rect x="418.0" y="40.8" width="3" height="3" fill="#902ca8"/>
<rect x="421.0" y="40.8" width="3" height="3" fill="#9b2ea6"/>
<rect x="424.0" y="40.8" width="3" height="3" fill="#972ca7"/>
<rect x="427.0" y="40.8" width="3" height="3" fill="#a533a3"/>
<rect x="430.0" y="40.8" width="3" height="3" fill="#ab35a1"/>
<rect x="433.0" y="40.8" width="3" height="3" fill="#a030a4"/>
<rect x="436.0" y="40.8" width="3" height="3" fill="#a332a3"/>
<rect x="439.0" y="40.8" width="3" height="3" fill="#a332a3"/>
<rect x="442.0" y="40.8" width="3" height="3" fill="#ac36a1"/>
<rect x="445.0" y="40.8" width="3" height="3" fill="#ba3c9d"/>
<rect x="334.0" y="43.8" width="3" height="3" fill="#b43a9e"/>
<rect x="337.0" y="43.8" width="3" height="3" fill="#b2399f"/>
<rect x="340.0" y="43.8" width="3" height="3" fill="#be3e9b"/>
<rect x="343.0" y="43.8" width="3" height="3" fill="#a734a2"/>
<rect x="346.0" y="43.8" width="3" height="3" fill="#b43a9e"/>
<rect x="349.0" y="43.8" width="3" height="3" fill="#b63b9e"/>
<rect x="352.0" y="43.8" width="3" height="3" fill="#bf3f9b"/>
<rect x="355.0" y="43.8" width="3" height="3" fill="#be3e9b"/>
<rect x="358.0" y="43.8" width="3" height="3" fill="#b3399f"/>
<rect x="361.0" y="43.8" width="3" height="3" fill="#ae37a0"/>
<rect x="364.0" y="43.8" width="3" height="3" fill="#b1389f"/>
<rect x="367.0" y="43.8" width="3" height="3" fill="#b43a9e"/>
<rect x="370.0" y="43.8" width="3" height="3" fill="#a734a2"/>
<rect x="373.0" y="43.8" width="3" height="3" fill="#a533a3"/>
<rect x="376.0" y="43.8" width="3" height="3" fill="#972ca7"/>
<rect x="379.0" y="43.8" width="3" height="3" fill="#a030a4"/>
<rect x="382.0" y="43.8" width="3" height="3" fill="#a432a3"/>
<rect x="385.0" y="43.8" width="3" height="3" fill="#a633a2"/>
<rect x="388.0" y="43.8" width="3" height="3" fill="#962ca7"/>
<rect x="391.0" y="43.8" width="3" height="3" fill="#9f30a5"/>
<rect x="394.0" y="43.8" width="3" height="3" fill="#932ca8"/>
<rect x="397.0" y="43.8" width="3" height="3" fill="#9f30a5"/>
<rect x="400.0" y="43.8" width="3" height="3" fill="#962ca7"/>
<rect x="403.0" y="43.8" width="3" height="3" fill="#932ca8"/>
<rect x="406.0" y="43.8" width="3" height="3" fill="#9d2fa5"/>
<rect x="409.0" y="43.8" width="3" height="3" fill="#9f30a5"/>
<rect x="412.0" y="43.8" width="3" height="3" fill="#932ca8"/>
<rect x="415.0" y="43.8" width="3" height="3" fill="#942ca8"/>
<rect x="418.0" y="43.8" width="3" height="3" fill="#972ca7"/>
<rect x="421.0" y="43.8" width="3" height="3" fill="#982da7"/>
<rect x="424.0" y="43.8" width="3" height="3" fill="#a131a4"/>
<rect x="427.0" y="43.8" width="3" height="3" fill="#9a2da6"/>
<rect x="430.0" y="43.8" width="3" height="3" fill="#9b2ea6"/>
<rect x="433.0" y="43.8" width="3" height="3" fill="#a332a4"/>
<rect x="436.0" y="43.8" width="3" height="3" fill="#9f30a5"/>
<rect x="439.0" y="43.8" width="3" height="3" fill="#9b2ea6"/>
<rect x="442.0" y="43.8" width="3" height="3" fill="#b83c9d"/>
<rect x="445.0" y="43.8" width="3" height="3" fill="#b63b9e"/>
<rect x="334.0" y="46.8" width="3" height="3" fill="#ae37a0"/>
<rect x="337.0" y="46.8" width="3" height="3" fill="#b83c9d"/>
<rect x="340.0" y="46.8" width="3" height="3" fill="#b43a9e"/>
<rect x="343.0" y="46.8" width="3" height="3" fill="#a734a2"/>
<rect x="346.0" y="46.8" width="3" height="3" fill="#ab35a1"/>
<rect x="349.0" y="46.8" width="3" height="3" fill="#b0389f"/>
<rect x="352.0" y="46.8" width="3" height="3" fill="#b83c9d"/>
<rect x="355.0" y="46.8" width="3" height="3" fill="#b53a9e"/>
<rect x="358.0" y="46.8" width="3" height="3" fill="#b53a9e"/>
<rect x="361.0" y="46.8" width="3" height="3" fill="#ae37a0"/>
<rect x="364.0" y="46.8" width="3" height="3" fill="#b3399f"/>
<rect x="367.0" y="46.8" width="3" height="3" fill="#b3399f"/>
<rect x="370.0" y="46.8" width="3" height="3" fill="#a533a3"/>
<rect x="373.0" y="46.8" width="3" height="3" fill="#a131a4"/>
<rect x="376.0" y="46.8" width="3" height="3" fill="#a332a3"/>
<rect x="379.0" y="46.8" width="3" height="3" fill="#a131a4"/>
<rect x="382.0" y="46.8" width="3" height="3" fill="#9e2fa5"/>
<rect x="385.0" y="46.8" width="3" height="3" fill="#a935a2"/>
<rect x="388.0" y="46.8" width="3" height="3" fill="#972ca7"/>
<rect x="391.0" y="46.8" width="3" height="3" fill="#962ca7"/>
<rect x="394.0" y="46.8" width="3" height="3" fill="#a030a4"/>
<rect x="397.0" y="46.8" width="3" height="3" fill="#9d2fa5"/>
<rect x="400.0" y="46.8" width="3" height="3" fill="#942ca8"/>
<rect x="403.0" y="46.8" width="3" height="3" fill="#8d2ca8"/>
<rect x="406.0" y="46.8" width="3" height="3" fill="#9f30a5"/>
<rect x="409.0" y="46.8" width="3" height="3" fill="#a030a4"/>
<rect x="412.0" y="46.8" width="3" height="3" fill="#952ca8"/>
<rect x="415.0" y="46.8" width="3" height="3" fill="#942ca8"/>
<rect x="418.0" y="46.8" width="3" height="3" fill="#912ca8"/>
<rect x="421.0" y="46.8" width="3" height="3" fill="#932ca8"/>
<rect x="424.0" y="46.8" width="3" height="3" fill="#9b2ea6"/>
<rect x="427.0" y="46.8" width="3" height="3" fill="#a030a4"/>
<rect x="430.0" y="46.8" width="3" height="3" fill="#9d2fa5"/>
<rect x="433.0" y="46.8" width="3" height="3" fill="#a332a3"/>
<rect x="436.0" y="46.8" width="3" height="3" fill="#a734a2"/>
<rect x="439.0" y="46.8" width="3" height="3" fill="#992da7"/>
<rect x="442.0" y="46.8" width="3" height="3" fill="#b038a0"/>
<rect x="445.0" y="46.8" width="3" height="3" fill="#ae37a0"/>
<rect x="334.0" y="49.8" width="3" height="3" fill="#a834a2"/>
<rect x="337.0" y="49.8" width="3" height="3" fill="#aa35a1"/>
<rect x="340.0" y="49.8" width="3" height="3" fill="#ae37a0"/>
<rect x="343.0" y="49.8" width="3" height="3" fill="#a834a2"/>
<rect x="346.0" y="49.8" width="3" height="3" fill="#b53a9e"/>
<rect x="349.0" y="49.8" width="3" height="3" fill="#ad37a0"/>
<rect x="352.0" y="49.8" width="3" height="3" fill="#ab35a1"/>
<rect x="355.0" y="49.8" width="3" height="3" fill="#b1389f"/>
<rect x="358.0" y="49.8" width="3" height="3" fill="#ac36a1"/>
<rect x="361.0" y="49.8" width="3" height="3" fill="#b038a0"/>
<rect x="364.0" y="49.8" width="3" height="3" fill="#ad36a1"/>
<rect x="367.0" y="49.8" width="3" height="3" fill="#b1389f"/>
<rect x="370.0" y="49.8" width="3" height="3" fill="#ad37a0"/>
<rect x="373.0" y="49.8" width="3" height="3" fill="#b53a9e"/>
<rect x="376.0" y="49.8" width="3" height="3" fill="#b53a9e"/>
<rect x="379.0" y="49.8" width="3" height="3" fill="#b53a9e"/>
<rect x="382.0" y="49.8" width="3" height="3" fill="#b1389f"/>
<rect x="385.0" y="49.8" width="3" height="3" fill="#b1389f"/>
<rect x="388.0" y="49.8" width="3" height="3" fill="#9e2fa5"/>
<rect x="391.0" y="49.8" width="3" height="3" fill="#962ca7"/>
<rect x="394.0" y="49.8" width="3" height="3" fill="#912ca8"/>
<rect x="397.0" y="49.8" width="3" height="3" fill="#a533a3"/>
<rect x="400.0" y="49.8" width="3" height="3" fill="#9c2ea6"/>
<rect x="403.0" y="49.8" width="3" height="3" fill="#a131a4"/>
<rect x="406.0" y="49.8" width="3" height="3" fill="#9c2fa6"/>
<rect x="409.0" y="49.8" width="3" height="3" fill="#972ca7"/>
<rect x="412.0" y="49.8" width="3" height="3" fill="#9d2fa5"/>
<rect x="415.0" y="49.8" width="3" height="3" fill="#9b2ea6"/>
<rect x="418.0" y="49.8" width="3" height="3" fill="#a231a4"/>
<rect x="421.0" y="49.8" width="3" height="3" fill="#9e30a5"/>
<rect x="424.0" y="49.8" width="3" height="3" fill="#942ca8"/>
<rect x="427.0" y="49.8" width="3" height="3" fill="#942ca8"/>
<rect x="430.0" y="49.8" width="3" height="3" fill="#9d2fa5"/>
<rect x="433.0" y="49.8" width="3" height="3" fill="#a834a2"/>
<rect x="436.0" y="49.8" width="3" height="3" fill="#b038a0"/>
<rect x="439.0" y="49.8" width="3" height="3" fill="#b93c9d"/>
<rect x="442.0" y="49.8" width="3" height="3" fill="#b43a9e"/>
<rect x="445.0" y="49.8" width="3" height="3" fill="#b1389f"/>
<rect x="334.0" y="52.8" width="3" height="3" fill="#a935a2"/>
<rect x="337.0" y="52.8" width="3" height="3" fill="#a030a4"/>
<rect x="340.0" y="52.8" width="3" height="3" fill="#a332a3"/>
<rect x="343.0" y="52.8" width="3" height="3" fill="#a533a3"/>
<rect x="346.0" y="52.8" width="3" height="3" fill="#af38a0"/>
<rect x="349.0" y="52.8" width="3" height="3" fill="#b73b9d"/>
<rect x="352.0" y="52.8" width="3" height="3" fill="#a734a2"/>
<rect x="355.0" y="52.8" width="3" height="3" fill="#a332a3"/>
<rect x="358.0" y="52.8" width="3" height="3" fill="#a734a2"/>
<rect x="361.0" y="52.8" width="3" height="3" fill="#a734a2"/>
<rect x="364.0" y="52.8" width="3" height="3" fill="#a533a3"/>
<rect x="367.0" y="52.8" width="3" height="3" fill="#a231a4"/>
<rect x="370.0" y="52.8" width="3" height="3" fill="#ab35a1"/>
<rect x="373.0" y="52.8" width="3" height="3" fill="#ae37a0"/>
<rect x="376.0" y="52.8" width="3" height="3" fill="#b3399f"/>
<rect x="379.0" y="52.8" width="3" height="3" fill="#b63b9e"/>
<rect x="382.0" y="52.8" width="3" height="3" fill="#a533a3"/>
<rect x="385.0" y="52.8" width="3" height="3" fill="#ab35a1"/>
<rect x="388.0" y="52.8" width="3" height="3" fill="#a231a4"/>
<rect x="391.0" y="52.8" width="3" height="3" fill="#992da7"/>
<rect x="394.0" y="52.8" width="3" height="3" fill="#9b2ea6"/>
<rect x="397.0" y="52.8" width="3" height="3" fill="#ab35a1"/>
<rect x="400.0" y="52.8" width="3" height="3" fill="#a231a4"/>
<rect x="403.0" y="52.8" width="3" height="3" fill="#a031a4"/>
<rect x="406.0" y="52.8" width="3" height="3" fill="#952ca8"/>
<rect x="409.0" y="52.8" width="3" height="3" fill="#992da6"/>
<rect x="412.0" y="52.8" width="3" height="3" fill="#972ca7"/>
<rect x="415.0" y="52.8" width="3" height="3" fill="#9b2ea6"/>
<rect x="418.0" y="52.8" width="3" height="3" fill="#9f30a5"/>
<rect x="421.0" y="52.8" width="3" height="3" fill="#a432a3"/>
<rect x="424.0" y="52.8" width="3" height="3" fill="#a332a4"/>
<rect x="427.0" y="52.8" width="3" height="3" fill="#a031a4"/>
<rect x="430.0" y="52.8" width="3" height="3" fill="#982ca7"/>
<rect x="433.0" y="52.8" width="3" height="3" fill="#b1399f"/>
<rect x="436.0" y="52.8" width="3" height="3" fill="#ac36a1"/>
<rect x="439.0" y="52.8" width="3" height="3" fill="#b3399f"/>
<rect x="442.0" y="52.8" width="3" height="3" fill="#ac36a1"/>
<rect x="445.0" y="52.8" width="3" height="3" fill="#b038a0"/>
<rect x="334.0" y="55.8" width="3" height="3" fill="#a332a4"/>
<rect x="337.0" y="55.8" width="3" height="3" fill="#af37a0"/>
<rect x="340.0" y="55.8" width="3" height="3" fill="#a030a4"/>
<rect x="343.0" y="55.8" width="3" height="3" fill="#a633a3"/>
<rect x="346.0" y="55.8" width="3" height="3" fill="#ad37a0"/>
<rect x="349.0" y="55.8" width="3" height="3" fill="#ad36a1"/>
<rect x="352.0" y="55.8" width="3" height="3" fill="#9b2ea6"/>
<rect x="355.0" y="55.8" width="3" height="3" fill="#a332a3"/>
<rect x="358.0" y="55.8" width="3" height="3" fill="#9f30a5"/>
<rect x="361.0" y="55.8" width="3" height="3" fill="#a332a3"/>
<rect x="364.0" y="55.8" width="3" height="3" fill="#ab36a1"/>
<rect x="367.0" y="55.8" width="3" height="3" fill="#9e2fa5"/>
<rect x="370.0" y="55.8" width="3" height="3" fill="#b53a9e"/>
<rect x="373.0" y="55.8" width="3" height="3" fill="#b3399f"/>
<rect x="376.0" y="55.8" width="3" height="3" fill="#ac36a1"/>
<rect x="379.0" y="55.8" width="3" height="3" fill="#b1399f"/>
<rect x="382.0" y="55.8" width="3" height="3" fill="#ae37a0"/>
<rect x="385.0" y="55.8" width="3" height="3" fill="#a734a2"/>
<rect x="388.0" y="55.8" width="3" height="3" fill="#9c2ea6"/>
<rect x="391.0" y="55.8" width="3" height="3" fill="#952ca8"/>
<rect x="394.0" y="55.8" width="3" height="3" fill="#902ca8"/>
<rect x="397.0" y="55.8" width="3" height="3" fill="#982da7"/>
<rect x="400.0" y="55.8" width="3" height="3" fill="#9f30a5"/>
<rect x="403.0" y="55.8" width="3" height="3" fill="#a131a4"/>
<rect x="406.0" y="55.8" width="3" height="3" fill="#a031a4"/>
<rect x="409.0" y="55.8" width="3" height="3" fill="#962ca7"/>
<rect x="412.0" y="55.8" width="3" height="3" fill="#942ca8"/>
<rect x="415.0" y="55.8" width="3" height="3" fill="#a432a3"/>
<rect x="418.0" y="55.8" width="3" height="3" fill="#9d2fa5"/>
<rect x="421.0" y="55.8" width="3" height="3" fill="#9f30a5"/>
<rect x="424.0" y="55.8" width="3" height="3" fill="#982da7"/>
<rect x="427.0" y="55.8" width="3" height="3" fill="#9f30a5"/>
<rect x="430.0" y="55.8" width="3" height="3" fill="#a533a3"/>
<rect x="433.0" y="55.8" width="3" height="3" fill="#b2399f"/>
<rect x="436.0" y="55.8" width="3" height="3" fill="#b3399f"/>
<rect x="439.0" y="55.8" width="3" height="3" fill="#ac36a1"/>
<rect x="442.0" y="55.8" width="3" height="3" fill="#b2399f"/>
<rect x="445.0" y="55.8" width="3" height="3" fill="#a633a2"/>
<rect x="334.0" y="58.8" width="3" height="3" fill="#a332a3"/>
<rect x="337.0" y="58.8" width="3" height="3" fill="#a432a3"/>
<rect x="340.0" y="58.8" width="3" height="3" fill="#a131a4"/>
<rect x="343.0" y="58.8" width="3" height="3" fill="#b038a0"/>
<rect x="346.0" y="58.8" width="3" height="3" fill="#b1389f"/>
<rect x="349.0" y="58.8" width="3" height="3" fill="#a633a3"/>
<rect x="352.0" y="58.8" width="3" height="3" fill="#ad36a1"/>
<rect x="355.0" y="58.8" width="3" height="3" fill="#9d2fa5"/>
<rect x="358.0" y="58.8" width="3" height="3" fill="#a533a3"/>
<rect x="361.0" y="58.8" width="3" height="3" fill="#b43a9e"/>
<rect x="364.0" y="58.8" width="3" height="3" fill="#b038a0"/>
<rect x="367.0" y="58.8" width="3" height="3" fill="#aa35a1"/>
<rect x="370.0" y="58.8" width="3" height="3" fill="#942ca8"/>
<rect x="373.0" y="58.8" width="3" height="3" fill="#9e2fa5"/>
<rect x="376.0" y="58.8" width="3" height="3" fill="#922ca8"/>
<rect x="379.0" y="58.8" width="3" height="3" fill="#a030a4"/>
<rect x="382.0" y="58.8" width="3" height="3" fill="#a834a2"/>
<rect x="385.0" y="58.8" width="3" height="3" fill="#9f30a5"/>
<rect x="388.0" y="58.8" width="3" height="3" fill="#a432a3"/>
<rect x="391.0" y="58.8" width="3" height="3" fill="#a031a4"/>
<rect x="394.0" y="58.8" width="3" height="3" fill="#a935a2"/>
<rect x="397.0" y="58.8" width="3" height="3" fill="#9a2da6"/>
<rect x="400.0" y="58.8" width="3" height="3" fill="#9d2fa5"/>
<rect x="403.0" y="58.8" width="3" height="3" fill="#a030a4"/>
<rect x="406.0" y="58.8" width="3" height="3" fill="#a332a4"/>
<rect x="409.0" y="58.8" width="3" height="3" fill="#a533a3"/>
<rect x="412.0" y="58.8" width="3" height="3" fill="#a633a3"/>
<rect x="415.0" y="58.8" width="3" height="3" fill="#a935a2"/>
<rect x="418.0" y="58.8" width="3" height="3" fill="#a231a4"/>
<rect x="421.0" y="58.8" width="3" height="3" fill="#a733a2"/>
<rect x="424.0" y="58.8" width="3" height="3" fill="#942ca8"/>
<rect x="427.0" y="58.8" width="3" height="3" fill="#992da6"/>
<rect x="430.0" y="58.8" width="3" height="3" fill="#942ca8"/>
<rect x="433.0" y="58.8" width="3" height="3" fill="#982da7"/>
<rect x="436.0" y="58.8" width="3" height="3" fill="#9d2fa5"/>
<rect x="439.0" y="58.8" width="3" height="3" fill="#9b2ea6"/>
<rect x="442.0" y="58.8" width="3" height="3" fill="#a332a3"/>
<rect x="445.0" y="58.8" width="3" height="3" fill="#b038a0"/>
<rect x="334.0" y="61.8" width="3" height="3" fill="#9f30a5"/>
<rect x="337.0" y="61.8" width="3" height="3" fill="#a834a2"/>
<rect x="340.0" y="61.8" width="3" height="3" fill="#9f30a5"/>
<rect x="343.0" y="61.8" width="3" height="3" fill="#a533a3"/>
<rect x="346.0" y="61.8" width="3" height="3" fill="#a633a3"/>
<rect x="349.0" y="61.8" width="3" height="3" fill="#ac36a1"/>
<rect x="352.0" y="61.8" width="3" height="3" fill="#9e30a5"/>
<rect x="355.0" y="61.8" width="3" height="3" fill="#9e2fa5"/>
<rect x="358.0" y="61.8" width="3" height="3" fill="#9f30a5"/>
<rect x="361.0" y="61.8" width="3" height="3" fill="#b038a0"/>
<rect x="364.0" y="61.8" width="3" height="3" fill="#a432a3"/>
<rect x="367.0" y="61.8" width="3" height="3" fill="#af37a0"/>
<rect x="370.0" y="61.8" width="3" height="3" fill="#992da6"/>
<rect x="373.0" y="61.8" width="3" height="3" fill="#972ca7"/>
<rect x="376.0" y="61.8" width="3" height="3" fill="#8f2ca8"/>
<rect x="379.0" y="61.8" width="3" height="3" fill="#a834a2"/>
<rect x="382.0" y="61.8" width="3" height="3" fill="#a231a4"/>
<rect x="385.0" y="61.8" width="3" height="3" fill="#9c2fa5"/>
<rect x="388.0" y="61.8" width="3" height="3" fill="#a231a4"/>
<rect x="391.0" y="61.8" width="3" height="3" fill="#952ca8"/>
<rect x="394.0" y="61.8" width="3" height="3" fill="#992da6"/>
<rect x="397.0" y="61.8" width="3" height="3" fill="#992da7"/>
<rect x="400.0" y="61.8" width="3" height="3" fill="#902ca8"/>
<rect x="403.0" y="61.8" width="3" height="3" fill="#932ca8"/>
<rect x="406.0" y="61.8" width="3" height="3" fill="#a131a4"/>
<rect x="409.0" y="61.8" width="3" height="3" fill="#a031a4"/>
<rect x="412.0" y="61.8" width="3" height="3" fill="#9d2fa5"/>
<rect x="415.0" y="61.8" width="3" height="3" fill="#9c2fa5"/>
<rect x="418.0" y="61.8" width="3" height="3" fill="#9a2ea6"/>
<rect x="421.0" y="61.8" width="3" height="3" fill="#a934a2"/>
<rect x="424.0" y="61.8" width="3" height="3" fill="#902ca8"/>
<rect x="427.0" y="61.8" width="3" height="3" fill="#972ca7"/>
<rect x="430.0" y="61.8" width="3" height="3" fill="#942ca8"/>
<rect x="433.0" y="61.8" width="3" height="3" fill="#a432a3"/>
<rect x="436.0" y="61.8" width="3" height="3" fill="#a633a3"/>
<rect x="439.0" y="61.8" width="3" height="3" fill="#a834a2"/>
<rect x="442.0" y="61.8" width="3" height="3" fill="#b1389f"/>
<rect x="445.0" y="61.8" width="3" height="3" fill="#b1389f"/>
<rect x="334.0" y="64.8" width="3" height="3" fill="#a934a2"/>
<rect x="337.0" y="64.8" width="3" height="3" fill="#a232a4"/>
<rect x="340.0" y="64.8" width="3" height="3" fill="#a533a3"/>
<rect x="343.0" y="64.8" width="3" height="3" fill="#a432a3"/>
<rect x="346.0" y="64.8" width="3" height="3" fill="#aa35a1"/>
<rect x="349.0" y="64.8" width="3" height="3" fill="#a734a2"/>
<rect x="352.0" y="64.8" width="3" height="3" fill="#9c2fa5"/>
<rect x="355.0" y="64.8" width="3" height="3" fill="#a231a4"/>
<rect x="358.0" y="64.8" width="3" height="3" fill="#a834a2"/>
<rect x="361.0" y="64.8" width="3" height="3" fill="#a030a4"/>
<rect x="364.0" y="64.8" width="3" height="3" fill="#ab35a1"/>
<rect x="367.0" y="64.8" width="3" height="3" fill="#a633a2"/>
<rect x="370.0" y="64.8" width="3" height="3" fill="#8f2ca8"/>
<rect x="373.0" y="64.8" width="3" height="3" fill="#992da6"/>
<rect x="376.0" y="64.8" width="3" height="3" fill="#942ca8"/>
<rect x="379.0" y="64.8" width="3" height="3" fill="#9d2fa5"/>
<rect x="382.0" y="64.8" width="3" height="3" fill="#9a2da6"/>
<rect x="385.0" y="64.8" width="3" height="3" fill="#9a2ea6"/>
<rect x="388.0" y="64.8" width="3" height="3" fill="#962ca7"/>
<rect x="391.0" y="64.8" width="3" height="3" fill="#9d2fa5"/>
<rect x="394.0" y="64.8" width="3" height="3" fill="#9f30a5"/>
<rect x="397.0" y="64.8" width="3" height="3" fill="#942ca8"/>
<rect x="400.0" y="64.8" width="3" height="3" fill="#962ca7"/>
<rect x="403.0" y="64.8" width="3" height="3" fill="#8e2ca8"/>
<rect x="406.0" y="64.8" width="3" height="3" fill="#9c2fa6"/>
<rect x="409.0" y="64.8" width="3" height="3" fill="#982ca7"/>
<rect x="412.0" y="64.8" width="3" height="3" fill="#a834a2"/>
<rect x="415.0" y="64.8" width="3" height="3" fill="#9c2fa5"/>
<rect x="418.0" y="64.8" width="3" height="3" fill="#9e30a5"/>
<rect x="421.0" y="64.8" width="3" height="3" fill="#a231a4"/>
<rect x="424.0" y="64.8" width="3" height="3" fill="#9e2fa5"/>
<rect x="427.0" y="64.8" width="3" height="3" fill="#952ca8"/>
<rect x="430.0" y="64.8" width="3" height="3" fill="#992da7"/>
<rect x="433.0" y="64.8" width="3" height="3" fill="#9a2ea6"/>
<rect x="436.0" y="64.8" width="3" height="3" fill="#9e2fa5"/>
<rect x="439.0" y="64.8" width="3" height="3" fill="#a131a4"/>
<rect x="442.0" y="64.8" width="3" height="3" fill="#b3399f"/>
<rect x="445.0" y="64.8" width="3" height="3" fill="#ae37a0"/>
<rect x="334.0" y="67.8" width="3" height="3" fill="#a131a4"/>
<rect x="337.0" y="67.8" width="3" height="3" fill="#a834a2"/>
<rect x="340.0" y="67.8" width="3" height="3" fill="#a432a3"/>
<rect x="343.0" y="67.8" width="3" height="3" fill="#b43a9e"/>
<rect x="346.0" y="67.8" width="3" height="3" fill="#b83b9d"/>
<rect x="349.0" y="67.8" width="3" height="3" fill="#aa35a1"/>
<rect x="352.0" y="67.8" width="3" height="3" fill="#b0389f"/>
<rect x="355.0" y="67.8" width="3" height="3" fill="#a533a3"/>
<rect x="358.0" y="67.8" width="3" height="3" fill="#a031a4"/>
<rect x="361.0" y="67.8" width="3" height="3" fill="#ad37a0"/>
<rect x="364.0" y="67.8" width="3" height="3" fill="#a633a2"/>
<rect x="367.0" y="67.8" width="3" height="3" fill="#9a2ea6"/>
<rect x="370.0" y="67.8" width="3" height="3" fill="#982da7"/>
<rect x="373.0" y="67.8" width="3" height="3" fill="#8e2ca8"/>
<rect x="376.0" y="67.8" width="3" height="3" fill="#932ca8"/>
<rect x="379.0" y="67.8" width="3" height="3" fill="#9b2ea6"/>
<rect x="382.0" y="67.8" width="3" height="3" fill="#9a2ea6"/>
<rect x="385.0" y="67.8" width="3" height="3" fill="#952ca8"/>
<rect x="388.0" y="67.8" width="3" height="3" fill="#932ca8"/>
<rect x="391.0" y="67.8" width="3" height="3" fill="#982da7"/>
<rect x="394.0" y="67.8" width="3" height="3" fill="#972ca7"/>
<rect x="397.0" y="67.8" width="3" height="3" fill="#9f30a5"/>
<rect x="400.0" y="67.8" width="3" height="3" fill="#9e2fa5"/>
<rect x="403.0" y="67.8" width="3" height="3" fill="#942ca8"/>
<rect x="406.0" y="67.8" width="3" height="3" fill="#992da6"/>
<rect x="409.0" y="67.8" width="3" height="3" fill="#9e2fa5"/>
<rect x="412.0" y="67.8" width="3" height="3" fill="#ad37a0"/>
<rect x="415.0" y="67.8" width="3" height="3" fill="#992da6"/>
<rect x="418.0" y="67.8" width="3" height="3" fill="#922ca8"/>
<rect x="421.0" y="67.8" width="3" height="3" fill="#a131a4"/>
<rect x="424.0" y="67.8" width="3" height="3" fill="#9f30a5"/>
<rect x="427.0" y="67.8" width="3" height="3" fill="#9d2fa5"/>
<rect x="430.0" y="67.8" width="3" height="3" fill="#982da7"/>
<rect x="433.0" y="67.8" width="3" height="3" fill="#9b2ea6"/>
<rect x="436.0" y="67.8" width="3" height="3" fill="#932ca8"/>
<rect x="439.0" y="67.8" width="3" height="3" fill="#942ca8"/>
<rect x="442.0" y="67.8" width="3" height="3" fill="#a131a4"/>
<rect x="445.0" y="67.8" width="3" height="3" fill="#a131a4"/>
<rect x="334.0" y="70.8" width="3" height="3" fill="#ae37a0"/>
<rect x="337.0" y="70.8" width="3" height="3" fill="#b1389f"/>
<rect x="340.0" y="70.8" width="3" height="3" fill="#b1389f"/>
<rect x="343.0" y="70.8" width="3" height="3" fill="#be3f9b"/>
<rect x="346.0" y="70.8" width="3" height="3" fill="#b3399f"/>
<rect x="349.0" y="70.8" width="3" height="3" fill="#b3399f"/>
<rect x="352.0" y="70.8" width="3" height="3" fill="#ae37a0"/>
<rect x="355.0" y="70.8" width="3" height="3" fill="#a734a2"/>
<rect x="358.0" y="70.8" width="3" height="3" fill="#ac36a1"/>
<rect x="361.0" y="70.8" width="3" height="3" fill="#a231a4"/>
<rect x="364.0" y="70.8" width="3" height="3" fill="#a231a4"/>
<rect x="367.0" y="70.8" width="3" height="3" fill="#9e30a5"/>
<rect x="370.0" y="70.8" width="3" height="3" fill="#932ca8"/>
<rect x="373.0" y="70.8" width="3" height="3" fill="#8f2ca8"/>
<rect x="376.0" y="70.8" width="3" height="3" fill="#922ca8"/>
<rect x="379.0" y="70.8" width="3" height="3" fill="#9e30a5"/>
<rect x="382.0" y="70.8" width="3" height="3" fill="#9d2fa5"/>
<rect x="385.0" y="70.8" width="3" height="3" fill="#982da7"/>
<rect x="388.0" y="70.8" width="3" height="3" fill="#902ca8"/>
<rect x="391.0" y="70.8" width="3" height="3" fill="#952ca8"/>
<rect x="394.0" y="70.8" width="3" height="3" fill="#8e2ca8"/>
<rect x="397.0" y="70.8" width="3" height="3" fill="#972ca7"/>
<rect x="400.0" y="70.8" width="3" height="3" fill="#952ca8"/>
<rect x="403.0" y="70.8" width="3" height="3" fill="#972ca7"/>
<rect x="406.0" y="70.8" width="3" height="3" fill="#a633a3"/>
<rect x="409.0" y="70.8" width="3" height="3" fill="#a633a2"/>
<rect x="412.0" y="70.8" width="3" height="3" fill="#a734a2"/>
<rect x="415.0" y="70.8" width="3" height="3" fill="#942ca8"/>
<rect x="418.0" y="70.8" width="3" height="3" fill="#9c2ea6"/>
<rect x="421.0" y="70.8" width="3" height="3" fill="#942ca8"/>
<rect x="424.0" y="70.8" width="3" height="3" fill="#982da7"/>
<rect x="427.0" y="70.8" width="3" height="3" fill="#a633a3"/>
<rect x="430.0" y="70.8" width="3" height="3" fill="#992da6"/>
<rect x="433.0" y="70.8" width="3" height="3" fill="#952ca8"/>
<rect x="436.0" y="70.8" width="3" height="3" fill="#a131a4"/>
<rect x="439.0" y="70.8" width="3" height="3" fill="#9a2ea6"/>
<rect x="442.0" y="70.8" width="3" height="3" fill="#a231a4"/>
<rect x="445.0" y="70.8" width="3" height="3" fill="#992da7"/>
<rect x="334.0" y="73.8" width="3" height="3" fill="#ab35a1"/>
<rect x="337.0" y="73.8" width="3" height="3" fill="#b83c9d"/>
<rect x="340.0" y="73.8" width="3" height="3" fill="#af38a0"/>
<rect x="343.0" y="73.8" width="3" height="3" fill="#b43a9e"/>
<rect x="346.0" y="73.8" width="3" height="3" fill="#bb3d9c"/>
<rect x="349.0" y="73.8" width="3" height="3" fill="#b73b9d"/>
<rect x="352.0" y="73.8" width="3" height="3" fill="#a934a2"/>
<rect x="355.0" y="73.8" width="3" height="3" fill="#ae37a0"/>
<rect x="358.0" y="73.8" width="3" height="3" fill="#a030a4"/>
<rect x="361.0" y="73.8" width="3" height="3" fill="#9d2fa5"/>
<rect x="364.0" y="73.8" width="3" height="3" fill="#972ca7"/>
<rect x="367.0" y="73.8" width="3" height="3" fill="#a030a4"/>
<rect x="370.0" y="73.8" width="3" height="3" fill="#982da7"/>
<rect x="373.0" y="73.8" width="3" height="3" fill="#922ca8"/>
<rect x="376.0" y="73.8" width="3" height="3" fill="#8f2ca8"/>
<rect x="379.0" y="73.8" width="3" height="3" fill="#952ca8"/>
<rect x="382.0" y="73.8" width="3" height="3" fill="#912ca8"/>
<rect x="385.0" y="73.8" width="3" height="3" fill="#972ca7"/>
<rect x="388.0" y="73.8" width="3" height="3" fill="#8f2ca8"/>
<rect x="391.0" y="73.8" width="3" height="3" fill="#962ca7"/>
<rect x="394.0" y="73.8" width="3" height="3" fill="#922ca8"/>
<rect x="397.0" y="73.8" width="3" height="3" fill="#9e30a5"/>
<rect x="400.0" y="73.8" width="3" height="3" fill="#952ca8"/>
<rect x="403.0" y="73.8" width="3" height="3" fill="#a633a3"/>
<rect x="406.0" y="73.8" width="3" height="3" fill="#9c2fa5"/>
<rect x="409.0" y="73.8" width="3" height="3" fill="#9e2fa5"/>
<rect x="412.0" y="73.8" width="3" height="3" fill="#a934a2"/>
<rect x="415.0" y="73.8" width="3" height="3" fill="#9b2ea6"/>
<rect x="418.0" y="73.8" width="3" height="3" fill="#9e2fa5"/>
<rect x="421.0" y="73.8" width="3" height="3" fill="#982da7"/>
<rect x="424.0" y="73.8" width="3" height="3" fill="#9a2ea6"/>
<rect x="427.0" y="73.8" width="3" height="3" fill="#a633a3"/>
<rect x="430.0" y="73.8" width="3" height="3" fill="#9d2fa5"/>
<rect x="433.0" y="73.8" width="3" height="3" fill="#962ca7"/>
<rect x="436.0" y="73.8" width="3" height="3" fill="#a633a3"/>
<rect x="439.0" y="73.8" width="3" height="3" fill="#9e2fa5"/>
<rect x="442.0" y="73.8" width="3" height="3" fill="#a031a4"/>
<rect x="445.0" y="73.8" width="3" height="3" fill="#a231a4"/>
<rect x="334.0" y="76.8" width="3" height="3" fill="#b63b9e"/>
<rect x="337.0" y="76.8" width="3" height="3" fill="#b43a9e"/>
<rect x="340.0" y="76.8" width="3" height="3" fill="#bb3d9c"/>
<rect x="343.0" y="76.8" width="3" height="3" fill="#b83c9d"/>
<rect x="346.0" y="76.8" width="3" height="3" fill="#b83c9d"/>
<rect x="349.0" y="76.8" width="3" height="3" fill="#ba3d9d"/>
<rect x="352.0" y="76.8" width="3" height="3" fill="#a533a3"/>
<rect x="355.0" y="76.8" width="3" height="3" fill="#a030a4"/>
<rect x="358.0" y="76.8" width="3" height="3" fill="#9b2ea6"/>
<rect x="361.0" y="76.8" width="3" height="3" fill="#ac36a1"/>
<rect x="364.0" y="76.8" width="3" height="3" fill="#9f30a5"/>
<rect x="367.0" y="76.8" width="3" height="3" fill="#9b2ea6"/>
<rect x="370.0" y="76.8" width="3" height="3" fill="#8d2ca8"/>
<rect x="373.0" y="76.8" width="3" height="3" fill="#8b2ca8"/>
<rect x="376.0" y="76.8" width="3" height="3" fill="#882ca8"/>
<rect x="379.0" y="76.8" width="3" height="3" fill="#822ca8"/>
<rect x="382.0" y="76.8" width="3" height="3" fill="#7f2ca8"/>
<rect x="385.0" y="76.8" width="3" height="3" fill="#842ca8"/>
<rect x="388.0" y="76.8" width="3" height="3" fill="#8d2ca8"/>
<rect x="391.0" y="76.8" width="3" height="3" fill="#8b2ca8"/>
<rect x="394.0" y="76.8" width="3" height="3" fill="#942ca8"/>
<rect x="397.0" y="76.8" width="3" height="3" fill="#8f2ca8"/>
<rect x="400.0" y="76.8" width="3" height="3" fill="#892ca8"/>
<rect x="403.0" y="76.8" width="3" height="3" fill="#8b2ca8"/>
<rect x="406.0" y="76.8" width="3" height="3" fill="#9d2fa5"/>
<rect x="409.0" y="76.8" width="3" height="3" fill="#9b2ea6"/>
<rect x="412.0" y="76.8" width="3" height="3" fill="#9b2ea6"/>
<rect x="415.0" y="76.8" width="3" height="3" fill="#992da6"/>
<rect x="418.0" y="76.8" width="3" height="3" fill="#9b2ea6"/>
<rect x="421.0" y="76.8" width="3" height="3" fill="#a734a2"/>
<rect x="424.0" y="76.8" width="3" height="3" fill="#9d2fa5"/>
<rect x="427.0" y="76.8" width="3" height="3" fill="#a332a3"/>
<rect x="430.0" y="76.8" width="3" height="3" fill="#af37a0"/>
<rect x="433.0" y="76.8" width="3" height="3" fill="#af37a0"/>
<rect x="436.0" y="76.8" width="3" height="3" fill="#ba3c9d"/>
<rect x="439.0" y="76.8" width="3" height="3" fill="#b1389f"/>
<rect x="442.0" y="76.8" width="3" height="3" fill="#9e30a5"/>
<rect x="445.0" y="76.8" width="3" height="3" fill="#ad36a0"/>
<rect x="334.0" y="79.8" width="3" height="3" fill="#b1389f"/>
<rect x="337.0" y="79.8" width="3" height="3" fill="#b3399f"/>
<rect x="340.0" y="79.8" width="3" height="3" fill="#ab36a1"/>
<rect x="343.0" y="79.8" width="3" height="3" fill="#bb3d9c"/>
<rect x="346.0" y="79.8" width="3" height="3" fill="#af37a0"/>
<rect x="349.0" y="79.8" width="3" height="3" fill="#b2399f"/>
<rect x="352.0" y="79.8" width="3" height="3" fill="#9f30a5"/>
<rect x="355.0" y="79.8" width="3" height="3" fill="#9b2ea6"/>
<rect x="358.0" y="79.8" width="3" height="3" fill="#a432a3"/>
<rect x="361.0" y="79.8" width="3" height="3" fill="#9e2fa5"/>
<rect x="364.0" y="79.8" width="3" height="3" fill="#a533a3"/>
<rect x="367.0" y="79.8" width="3" height="3" fill="#9b2ea6"/>
<rect x="370.0" y="79.8" width="3" height="3" fill="#902ca8"/>
<rect x="373.0" y="79.8" width="3" height="3" fill="#8d2ca8"/>
<rect x="376.0" y="79.8" width="3" height="3" fill="#842ca8"/>
<rect x="379.0" y="79.8" width="3" height="3" fill="#832ca8"/>
<rect x="382.0" y="79.8" width="3" height="3" fill="#802ca8"/>
<rect x="385.0" y="79.8" width="3" height="3" fill="#802ca8"/>
<rect x="388.0" y="79.8" width="3" height="3" fill="#8b2ca8"/>
<rect x="391.0" y="79.8" width="3" height="3" fill="#8e2ca8"/>
<rect x="394.0" y="79.8" width="3" height="3" fill="#912ca8"/>
<rect x="397.0" y="79.8" width="3" height="3" fill="#942ca8"/>
<rect x="400.0" y="79.8" width="3" height="3" fill="#952ca8"/>
<rect x="403.0" y="79.8" width="3" height="3" fill="#922ca8"/>
<rect x="406.0" y="79.8" width="3" height="3" fill="#a131a4"/>
<rect x="409.0" y="79.8" width="3" height="3" fill="#9d2fa5"/>
<rect x="412.0" y="79.8" width="3" height="3" fill="#9e30a5"/>
<rect x="415.0" y="79.8" width="3" height="3" fill="#9e30a5"/>
<rect x="418.0" y="79.8" width="3" height="3" fill="#a533a3"/>
<rect x="421.0" y="79.8" width="3" height="3" fill="#a030a4"/>
<rect x="424.0" y="79.8" width="3" height="3" fill="#ae37a0"/>
<rect x="427.0" y="79.8" width="3" height="3" fill="#ac36a1"/>
<rect x="430.0" y="79.8" width="3" height="3" fill="#b038a0"/>
<rect x="433.0" y="79.8" width="3" height="3" fill="#af37a0"/>
<rect x="436.0" y="79.8" width="3" height="3" fill="#ad36a1"/>
<rect x="439.0" y="79.8" width="3" height="3" fill="#b3399f"/>
<rect x="442.0" y="79.8" width="3" height="3" fill="#aa35a1"/>
<rect x="445.0" y="79.8" width="3" height="3" fill="#a734a2"/>
<rect x="334.0" y="82.8" width="3" height="3" fill="#a734a2"/>
<rect x="337.0" y="82.8" width="3" height="3" fill="#b2399f"/>
<rect x="340.0" y="82.8" width="3" height="3" fill="#ad36a0"/>
<rect x="343.0" y="82.8" width="3" height="3" fill="#b43a9e"/>
<rect x="346.0" y="82.8" width="3" height="3" fill="#b63a9e"/>
<rect x="349.0" y="82.8" width="3" height="3" fill="#b43a9e"/>
<rect x="352.0" y="82.8" width="3" height="3" fill="#982da7"/>
<rect x="355.0" y="82.8" width="3" height="3" fill="#992da7"/>
<rect x="358.0" y="82.8" width="3" height="3" fill="#982da7"/>
<rect x="361.0" y="82.8" width="3" height="3" fill="#ab36a1"/>
<rect x="364.0" y="82.8" width="3" height="3" fill="#9d2fa5"/>
<rect x="367.0" y="82.8" width="3" height="3" fill="#972ca7"/>
<rect x="370.0" y="82.8" width="3" height="3" fill="#842ca8"/>
<rect x="373.0" y="82.8" width="3" height="3" fill="#882ca8"/>
<rect x="376.0" y="82.8" width="3" height="3" fill="#8b2ca8"/>
<rect x="379.0" y="82.8" width="3" height="3" fill="#872ca8"/>
<rect x="382.0" y="82.8" width="3" height="3" fill="#802ca8"/>
<rect x="385.0" y="82.8" width="3" height="3" fill="#862ca8"/>
<rect x="388.0" y="82.8" width="3" height="3" fill="#952ca8"/>
<rect x="391.0" y="82.8" width="3" height="3" fill="#942ca8"/>
<rect x="394.0" y="82.8" width="3" height="3" fill="#942ca8"/>
<rect x="397.0" y="82.8" width="3" height="3" fill="#892ca8"/>
<rect x="400.0" y="82.8" width="3" height="3" fill="#902ca8"/>
<rect x="403.0" y="82.8" width="3" height="3" fill="#932ca8"/>
<rect x="406.0" y="82.8" width="3" height="3" fill="#9e2fa5"/>
<rect x="409.0" y="82.8" width="3" height="3" fill="#9d2fa5"/>
<rect x="412.0" y="82.8" width="3" height="3" fill="#a131a4"/>
<rect x="415.0" y="82.8" width="3" height="3" fill="#9e30a5"/>
<rect x="418.0" y="82.8" width="3" height="3" fill="#9c2fa6"/>
<rect x="421.0" y="82.8" width="3" height="3" fill="#a734a2"/>
<rect x="424.0" y="82.8" width="3" height="3" fill="#ab35a1"/>
<rect x="427.0" y="82.8" width="3" height="3" fill="#a633a2"/>
<rect x="430.0" y="82.8" width="3" height="3" fill="#a231a4"/>
<rect x="433.0" y="82.8" width="3" height="3" fill="#ac36a1"/>
<rect x="436.0" y="82.8" width="3" height="3" fill="#b93c9d"/>
<rect x="439.0" y="82.8" width="3" height="3" fill="#b63b9e"/>
<rect x="442.0" y="82.8" width="3" height="3" fill="#a533a3"/>
<rect x="445.0" y="82.8" width="3" height="3" fill="#b3399f"/>
<rect x="334.0" y="85.8" width="3" height="3" fill="#aa35a1"/>
<rect x="337.0" y="85.8" width="3" height="3" fill="#a935a2"/>
<rect x="340.0" y="85.8" width="3" height="3" fill="#b0389f"/>
<rect x="343.0" y="85.8" width="3" height="3" fill="#a935a2"/>
<rect x="346.0" y="85.8" width="3" height="3" fill="#b2399f"/>
<rect x="349.0" y="85.8" width="3" height="3" fill="#ab36a1"/>
<rect x="352.0" y="85.8" width="3" height="3" fill="#a231a4"/>
<rect x="355.0" y="85.8" width="3" height="3" fill="#9d2fa5"/>
<rect x="358.0" y="85.8" width="3" height="3" fill="#a533a3"/>
<rect x="361.0" y="85.8" width="3" height="3" fill="#992da6"/>
<rect x="364.0" y="85.8" width="3" height="3" fill="#8b2ca8"/>
<rect x="367.0" y="85.8" width="3" height="3" fill="#892ca8"/>
<rect x="370.0" y="85.8" width="3" height="3" fill="#912ca8"/>
<rect x="373.0" y="85.8" width="3" height="3" fill="#832ca8"/>
<rect x="376.0" y="85.8" width="3" height="3" fill="#882ca8"/>
<rect x="379.0" y="85.8" width="3" height="3" fill="#842ca8"/>
<rect x="382.0" y="85.8" width="3" height="3" fill="#892ca8"/>
<rect x="385.0" y="85.8" width="3" height="3" fill="#8c2ca8"/>
<rect x="388.0" y="85.8" width="3" height="3" fill="#902ca8"/>
<rect x="391.0" y="85.8" width="3" height="3" fill="#922ca8"/>
<rect x="394.0" y="85.8" width="3" height="3" fill="#9c2fa5"/>
<rect x="397.0" y="85.8" width="3" height="3" fill="#9b2ea6"/>
<rect x="400.0" y="85.8" width="3" height="3" fill="#9f30a5"/>
<rect x="403.0" y="85.8" width="3" height="3" fill="#aa35a1"/>
<rect x="406.0" y="85.8" width="3" height="3" fill="#b1389f"/>
<rect x="409.0" y="85.8" width="3" height="3" fill="#a533a3"/>
<rect x="412.0" y="85.8" width="3" height="3" fill="#ad36a0"/>
<rect x="415.0" y="85.8" width="3" height="3" fill="#a031a4"/>
<rect x="418.0" y="85.8" width="3" height="3" fill="#a834a2"/>
<rect x="421.0" y="85.8" width="3" height="3" fill="#a030a4"/>
<rect x="424.0" y="85.8" width="3" height="3" fill="#a030a4"/>
<rect x="427.0" y="85.8" width="3" height="3" fill="#a533a3"/>
<rect x="430.0" y="85.8" width="3" height="3" fill="#9e30a5"/>
<rect x="433.0" y="85.8" width="3" height="3" fill="#ae37a0"/>
<rect x="436.0" y="85.8" width="3" height="3" fill="#b1389f"/>
<rect x="439.0" y="85.8" width="3" height="3" fill="#bf3f9b"/>
<rect x="442.0" y="85.8" width="3" height="3" fill="#b73b9d"/>
<rect x="445.0" y="85.8" width="3" height="3" fill="#c2409a"/>
<rect x="334.0" y="88.8" width="3" height="3" fill="#a934a2"/>
<rect x="337.0" y="88.8" width="3" height="3" fill="#b2399f"/>
<rect x="340.0" y="88.8" width="3" height="3" fill="#b1389f"/>
<rect x="343.0" y="88.8" width="3" height="3" fill="#ae37a0"/>
<rect x="346.0" y="88.8" width="3" height="3" fill="#a734a2"/>
<rect x="349.0" y="88.8" width="3" height="3" fill="#af37a0"/>
<rect x="352.0" y="88.8" width="3" height="3" fill="#a432a3"/>
<rect x="355.0" y="88.8" width="3" height="3" fill="#a432a3"/>
<rect x="358.0" y="88.8" width="3" height="3" fill="#a332a3"/>
<rect x="361.0" y="88.8" width="3" height="3" fill="#8c2ca8"/>
<rect x="364.0" y="88.8" width="3" height="3" fill="#902ca8"/>
<rect x="367.0" y="88.8" width="3" height="3" fill="#862ca8"/>
<rect x="370.0" y="88.8" width="3" height="3" fill="#8a2ca8"/>
<rect x="373.0" y="88.8" width="3" height="3" fill="#8d2ca8"/>
<rect x="376.0" y="88.8" width="3" height="3" fill="#882ca8"/>
<rect x="379.0" y="88.8" width="3" height="3" fill="#8d2ca8"/>
<rect x="382.0" y="88.8" width="3" height="3" fill="#922ca8"/>
<rect x="385.0" y="88.8" width="3" height="3" fill="#882ca8"/>
<rect x="388.0" y="88.8" width="3" height="3" fill="#8c2ca8"/>
<rect x="391.0" y="88.8" width="3" height="3" fill="#912ca8"/>
<rect x="394.0" y="88.8" width="3" height="3" fill="#a030a4"/>
<rect x="397.0" y="88.8" width="3" height="3" fill="#9e2fa5"/>
<rect x="400.0" y="88.8" width="3" height="3" fill="#a533a3"/>
<rect x="403.0" y="88.8" width="3" height="3" fill="#a633a3"/>
<rect x="406.0" y="88.8" width="3" height="3" fill="#af37a0"/>
<rect x="409.0" y="88.8" width="3" height="3" fill="#a834a2"/>
<rect x="412.0" y="88.8" width="3" height="3" fill="#b0389f"/>
<rect x="415.0" y="88.8" width="3" height="3" fill="#ac36a1"/>
<rect x="418.0" y="88.8" width="3" height="3" fill="#a934a2"/>
<rect x="421.0" y="88.8" width="3" height="3" fill="#ac36a1"/>
<rect x="424.0" y="88.8" width="3" height="3" fill="#9f30a5"/>
<rect x="427.0" y="88.8" width="3" height="3" fill="#ae37a0"/>
<rect x="430.0" y="88.8" width="3" height="3" fill="#a734a2"/>
<rect x="433.0" y="88.8" width="3" height="3" fill="#b3399f"/>
<rect x="436.0" y="88.8" width="3" height="3" fill="#ba3c9d"/>
<rect x="439.0" y="88.8" width="3" height="3" fill="#bc3e9c"/>
<rect x="442.0" y="88.8" width="3" height="3" fill="#b83c9d"/>
<rect x="445.0" y="88.8" width="3" height="3" fill="#b83c9d"/>
<rect x="334.0" y="91.8" width="3" height="3" fill="#a432a3"/>
<rect x="337.0" y="91.8" width="3" height="3" fill="#b43a9e"/>
<rect x="340.0" y="91.8" width="3" height="3" fill="#a533a3"/>
<rect x="343.0" y="91.8" width="3" height="3" fill="#aa35a1"/>
<rect x="346.0" y="91.8" width="3" height="3" fill="#a432a3"/>
<rect x="349.0" y="91.8" width="3" height="3" fill="#a834a2"/>
<rect x="352.0" y="91.8" width="3" height="3" fill="#a834a2"/>
<rect x="355.0" y="91.8" width="3" height="3" fill="#982da7"/>
<rect x="358.0" y="91.8" width="3" height="3" fill="#9f30a5"/>
<rect x="361.0" y="91.8" width="3" height="3" fill="#8d2ca8"/>
<rect x="364.0" y="91.8" width="3" height="3" fill="#912ca8"/>
<rect x="367.0" y="91.8" width="3" height="3" fill="#882ca8"/>
<rect x="370.0" y="91.8" width="3" height="3" fill="#8a2ca8"/>
<rect x="373.0" y="91.8" width="3" height="3" fill="#7f2ca8"/>
<rect x="376.0" y="91.8" width="3" height="3" fill="#802ca8"/>
<rect x="379.0" y="91.8" width="3" height="3" fill="#8b2ca8"/>
<rect x="382.0" y="91.8" width="3" height="3" fill="#8b2ca8"/>
<rect x="385.0" y="91.8" width="3" height="3" fill="#892ca8"/>
<rect x="388.0" y="91.8" width="3" height="3" fill="#9c2ea6"/>
<rect x="391.0" y="91.8" width="3" height="3" fill="#972ca7"/>
<rect x="394.0" y="91.8" width="3" height="3" fill="#a030a4"/>
<rect x="397.0" y="91.8" width="3" height="3" fill="#a231a4"/>
<rect x="400.0" y="91.8" width="3" height="3" fill="#ad36a0"/>
<rect x="403.0" y="91.8" width="3" height="3" fill="#b3399f"/>
<rect x="406.0" y="91.8" width="3" height="3" fill="#b3399f"/>
<rect x="409.0" y="91.8" width="3" height="3" fill="#b1389f"/>
<rect x="412.0" y="91.8" width="3" height="3" fill="#b73b9d"/>
<rect x="415.0" y="91.8" width="3" height="3" fill="#a733a2"/>
<rect x="418.0" y="91.8" width="3" height="3" fill="#a533a3"/>
<rect x="421.0" y="91.8" width="3" height="3" fill="#ab36a1"/>
<rect x="424.0" y="91.8" width="3" height="3" fill="#a533a3"/>
<rect x="427.0" y="91.8" width="3" height="3" fill="#a633a3"/>
<rect x="430.0" y="91.8" width="3" height="3" fill="#b1389f"/>
<rect x="433.0" y="91.8" width="3" height="3" fill="#af38a0"/>
<rect x="436.0" y="91.8" width="3" height="3" fill="#bd3e9c"/>
<rect x="439.0" y="91.8" width="3" height="3" fill="#bd3e9c"/>
<rect x="442.0" y="91.8" width="3" height="3" fill="#bf3f9b"/>
<rect x="445.0" y="91.8" width="3" height="3" fill="#b2399f"/>
<rect x="334.0" y="94.8" width="3" height="3" fill="#a533a3"/>
<rect x="337.0" y="94.8" width="3" height="3" fill="#9f30a5"/>
<rect x="340.0" y="94.8" width="3" height="3" fill="#a633a3"/>
<rect x="343.0" y="94.8" width="3" height="3" fill="#b43a9e"/>
<rect x="346.0" y="94.8" width="3" height="3" fill="#ad36a0"/>
<rect x="349.0" y="94.8" width="3" height="3" fill="#ae37a0"/>
<rect x="352.0" y="94.8" width="3" height="3" fill="#a934a2"/>
<rect x="355.0" y="94.8" width="3" height="3" fill="#ab36a1"/>
<rect x="358.0" y="94.8" width="3" height="3" fill="#a332a4"/>
<rect x="361.0" y="94.8" width="3" height="3" fill="#942ca8"/>
<rect x="364.0" y="94.8" width="3" height="3" fill="#8a2ca8"/>
<rect x="367.0" y="94.8" width="3" height="3" fill="#902ca8"/>
<rect x="370.0" y="94.8" width="3" height="3" fill="#862ca8"/>
<rect x="373.0" y="94.8" width="3" height="3" fill="#8f2ca8"/>
<rect x="376.0" y="94.8" width="3" height="3" fill="#8b2ca8"/>
<rect x="379.0" y="94.8" width="3" height="3" fill="#8a2ca8"/>
<rect x="382.0" y="94.8" width="3" height="3" fill="#8c2ca8"/>
<rect x="385.0" y="94.8" width="3" height="3" fill="#922ca8"/>
<rect x="388.0" y="94.8" width="3" height="3" fill="#962ca7"/>
<rect x="391.0" y="94.8" width="3" height="3" fill="#932ca8"/>
<rect x="394.0" y="94.8" width="3" height="3" fill="#a030a4"/>
<rect x="397.0" y="94.8" width="3" height="3" fill="#9f30a5"/>
<rect x="400.0" y="94.8" width="3" height="3" fill="#9d2fa5"/>
<rect x="403.0" y="94.8" width="3" height="3" fill="#a332a3"/>
<rect x="406.0" y="94.8" width="3" height="3" fill="#9b2ea6"/>
<rect x="409.0" y="94.8" width="3" height="3" fill="#9f30a5"/>
<rect x="412.0" y="94.8" width="3" height="3" fill="#a131a4"/>
<rect x="415.0" y="94.8" width="3" height="3" fill="#ac36a1"/>
<rect x="418.0" y="94.8" width="3" height="3" fill="#a533a3"/>
<rect x="421.0" y="94.8" width="3" height="3" fill="#ac36a1"/>
<rect x="424.0" y="94.8" width="3" height="3" fill="#c1409b"/>
<rect x="427.0" y="94.8" width="3" height="3" fill="#bc3d9c"/>
<rect x="430.0" y="94.8" width="3" height="3" fill="#b83b9d"/>
<rect x="433.0" y="94.8" width="3" height="3" fill="#ae37a0"/>
<rect x="436.0" y="94.8" width="3" height="3" fill="#b43a9e"/>
<rect x="439.0" y="94.8" width="3" height="3" fill="#b53a9e"/>
<rect x="442.0" y="94.8" width="3" height="3" fill="#b73b9d"/>
<rect x="445.0" y="94.8" width="3" height="3" fill="#b93c9d"/>
<rect x="334.0" y="97.8" width="3" height="3" fill="#af37a0"/>
<rect x="337.0" y="97.8" width="3" height="3" fill="#a432a3"/>
<rect x="340.0" y="97.8" width="3" height="3" fill="#a734a2"/>
<rect x="343.0" y="97.8" width="3" height="3" fill="#ba3d9c"/>
<rect x="346.0" y="97.8" width="3" height="3" fill="#af38a0"/>
<rect x="349.0" y="97.8" width="3" height="3" fill="#aa35a1"/>
<rect x="352.0" y="97.8" width="3" height="3" fill="#b53a9e"/>
<rect x="355.0" y="97.8" width="3" height="3" fill="#a834a2"/>
<rect x="358.0" y="97.8" width="3" height="3" fill="#ae37a0"/>
<rect x="361.0" y="97.8" width="3" height="3" fill="#922ca8"/>
<rect x="364.0" y="97.8" width="3" height="3" fill="#912ca8"/>
<rect x="367.0" y="97.8" width="3" height="3" fill="#882ca8"/>
<rect x="370.0" y="97.8" width="3" height="3" fill="#842ca8"/>
<rect x="373.0" y="97.8" width="3" height="3" fill="#8f2ca8"/>
<rect x="376.0" y="97.8" width="3" height="3" fill="#852ca8"/>
<rect x="379.0" y="97.8" width="3" height="3" fill="#892ca8"/>
<rect x="382.0" y="97.8" width="3" height="3" fill="#8f2ca8"/>
<rect x="385.0" y="97.8" width="3" height="3" fill="#8a2ca8"/>
<rect x="388.0" y="97.8" width="3" height="3" fill="#952ca8"/>
<rect x="391.0" y="97.8" width="3" height="3" fill="#a432a3"/>
<rect x="394.0" y="97.8" width="3" height="3" fill="#9a2ea6"/>
<rect x="397.0" y="97.8" width="3" height="3" fill="#9e2fa5"/>
<rect x="400.0" y="97.8" width="3" height="3" fill="#9e30a5"/>
<rect x="403.0" y="97.8" width="3" height="3" fill="#a633a3"/>
<rect x="406.0" y="97.8" width="3" height="3" fill="#9e30a5"/>
<rect x="409.0" y="97.8" width="3" height="3" fill="#992da6"/>
<rect x="412.0" y="97.8" width="3" height="3" fill="#a432a3"/>
<rect x="415.0" y="97.8" width="3" height="3" fill="#9f30a5"/>
<rect x="418.0" y="97.8" width="3" height="3" fill="#b1389f"/>
<rect x="421.0" y="97.8" width="3" height="3" fill="#a834a2"/>
<rect x="424.0" y="97.8" width="3" height="3" fill="#c94398"/>
<rect x="427.0" y="97.8" width="3" height="3" fill="#c64299"/>
<rect x="430.0" y="97.8" width="3" height="3" fill="#bf3f9b"/>
<rect x="433.0" y="97.8" width="3" height="3" fill="#aa35a1"/>
<rect x="436.0" y="97.8" width="3" height="3" fill="#ae37a0"/>
<rect x="439.0" y="97.8" width="3" height="3" fill="#ac36a1"/>
<rect x="442.0" y="97.8" width="3" height="3" fill="#b2399f"/>
<rect x="445.0" y="97.8" width="3" height="3" fill="#ad36a1"/>
<rect x="334.0" y="100.8" width="3" height="3" fill="#a432a3"/>
<rect x="337.0" y="100.8" width="3" height="3" fill="#a533a3"/>
<rect x="340.0" y="100.8" width="3" height="3" fill="#a633a3"/>
<rect x="343.0" y="100.8" width="3" height="3" fill="#b83c9d"/>
<rect x="346.0" y="100.8" width="3" height="3" fill="#bd3e9c"/>
<rect x="349.0" y="100.8" width="3" height="3" fill="#b83b9d"/>
<rect x="352.0" y="100.8" width="3" height="3" fill="#b1389f"/>
<rect x="355.0" y="100.8" width="3" height="3" fill="#ad36a1"/>
<rect x="358.0" y="100.8" width="3" height="3" fill="#a834a2"/>
<rect x="361.0" y="100.8" width="3" height="3" fill="#902ca8"/>
<rect x="364.0" y="100.8" width="3" height="3" fill="#912ca8"/>
<rect x="367.0" y="100.8" width="3" height="3" fill="#8a2ca8"/>
<rect x="370.0" y="100.8" width="3" height="3" fill="#912ca8"/>
<rect x="373.0" y="100.8" width="3" height="3" fill="#8b2ca8"/>
<rect x="376.0" y="100.8" width="3" height="3" fill="#912ca8"/>
<rect x="379.0" y="100.8" width="3" height="3" fill="#8e2ca8"/>
<rect x="382.0" y="100.8" width="3" height="3" fill="#8b2ca8"/>
<rect x="385.0" y="100.8" width="3" height="3" fill="#8d2ca8"/>
<rect x="388.0" y="100.8" width="3" height="3" fill="#9b2ea6"/>
<rect x="391.0" y="100.8" width="3" height="3" fill="#a332a3"/>
<rect x="394.0" y="100.8" width="3" height="3" fill="#aa35a1"/>
<rect x="397.0" y="100.8" width="3" height="3" fill="#992da7"/>
<rect x="400.0" y="100.8" width="3" height="3" fill="#a232a4"/>
<rect x="403.0" y="100.8" width="3" height="3" fill="#a432a3"/>
<rect x="406.0" y="100.8" width="3" height="3" fill="#a131a4"/>
<rect x="409.0" y="100.8" width="3" height="3" fill="#a934a2"/>
<rect x="412.0" y="100.8" width="3" height="3" fill="#ab36a1"/>
<rect x="415.0" y="100.8" width="3" height="3" fill="#ae37a0"/>
<rect x="418.0" y="100.8" width="3" height="3" fill="#af37a0"/>
<rect x="421.0" y="100.8" width="3" height="3" fill="#a734a2"/>
<rect x="424.0" y="100.8" width="3" height="3" fill="#c2409a"/>
<rect x="427.0" y="100.8" width="3" height="3" fill="#c1409b"/>
<rect x="430.0" y="100.8" width="3" height="3" fill="#c1409a"/>
<rect x="433.0" y="100.8" width="3" height="3" fill="#ae37a0"/>
<rect x="436.0" y="100.8" width="3" height="3" fill="#b73b9d"/>
<rect x="439.0" y="100.8" width="3" height="3" fill="#aa35a1"/>
<rect x="442.0" y="100.8" width="3" height="3" fill="#b53a9e"/>
<rect x="445.0" y="100.8" width="3" height="3" fill="#ac36a1"/>
<rect x="334.0" y="103.8" width="3" height="3" fill="#b63b9e"/>
<rect x="337.0" y="103.8" width="3" height="3" fill="#ac36a1"/>
<rect x="340.0" y="103.8" width="3" height="3" fill="#aa35a1"/>
<rect x="343.0" y="103.8" width="3" height="3" fill="#be3e9b"/>
<rect x="346.0" y="103.8" width="3" height="3" fill="#ad37a0"/>
<rect x="349.0" y="103.8" width="3" height="3" fill="#b53a9e"/>
<rect x="352.0" y="103.8" width="3" height="3" fill="#a935a2"/>
<rect x="355.0" y="103.8" width="3" height="3" fill="#a934a2"/>
<rect x="358.0" y="103.8" width="3" height="3" fill="#a131a4"/>
<rect x="361.0" y="103.8" width="3" height="3" fill="#8f2ca8"/>
<rect x="364.0" y="103.8" width="3" height="3" fill="#902ca8"/>
<rect x="367.0" y="103.8" width="3" height="3" fill="#902ca8"/>
<rect x="370.0" y="103.8" width="3" height="3" fill="#892ca8"/>
<rect x="373.0" y="103.8" width="3" height="3" fill="#862ca8"/>
<rect x="376.0" y="103.8" width="3" height="3" fill="#8c2ca8"/>
<rect x="379.0" y="103.8" width="3" height="3" fill="#932ca8"/>
<rect x="382.0" y="103.8" width="3" height="3" fill="#962ca7"/>
<rect x="385.0" y="103.8" width="3" height="3" fill="#9c2ea6"/>
<rect x="388.0" y="103.8" width="3" height="3" fill="#a030a4"/>
<rect x="391.0" y="103.8" width="3" height="3" fill="#aa35a1"/>
<rect x="394.0" y="103.8" width="3" height="3" fill="#a432a3"/>
<rect x="397.0" y="103.8" width="3" height="3" fill="#a633a3"/>
<rect x="400.0" y="103.8" width="3" height="3" fill="#b2399f"/>
<rect x="403.0" y="103.8" width="3" height="3" fill="#a935a2"/>
<rect x="406.0" y="103.8" width="3" height="3" fill="#982da7"/>
<rect x="409.0" y="103.8" width="3" height="3" fill="#a030a4"/>
<rect x="412.0" y="103.8" width="3" height="3" fill="#a834a2"/>
<rect x="415.0" y="103.8" width="3" height="3" fill="#a834a2"/>
<rect x="418.0" y="103.8" width="3" height="3" fill="#ac36a1"/>
<rect x="421.0" y="103.8" width="3" height="3" fill="#b1389f"/>
<rect x="424.0" y="103.8" width="3" height="3" fill="#b93c9d"/>
<rect x="427.0" y="103.8" width="3" height="3" fill="#c1409a"/>
<rect x="430.0" y="103.8" width="3" height="3" fill="#c74399"/>
<rect x="433.0" y="103.8" width="3" height="3" fill="#c74399"/>
<rect x="436.0" y="103.8" width="3" height="3" fill="#c3419a"/>
<rect x="439.0" y="103.8" width="3" height="3" fill="#c64299"/>
<rect x="442.0" y="103.8" width="3" height="3" fill="#b1389f"/>
<rect x="445.0" y="103.8" width="3" height="3" fill="#af37a0"/>
<rect x="334.0" y="106.8" width="3" height="3" fill="#b2399f"/>
<rect x="337.0" y="106.8" width="3" height="3" fill="#ad36a1"/>
<rect x="340.0" y="106.8" width="3" height="3" fill="#ae37a0"/>
<rect x="343.0" y="106.8" width="3" height="3" fill="#ba3c9d"/>
<rect x="346.0" y="106.8" width="3" height="3" fill="#b43a9e"/>
<rect x="349.0" y="106.8" width="3" height="3" fill="#b53a9e"/>
<rect x="352.0" y="106.8" width="3" height="3" fill="#b3399f"/>
<rect x="355.0" y="106.8" width="3" height="3" fill="#b43a9e"/>
<rect x="358.0" y="106.8" width="3" height="3" fill="#a332a3"/>
<rect x="361.0" y="106.8" width="3" height="3" fill="#a030a4"/>
<rect x="364.0" y="106.8" width="3" height="3" fill="#952ca8"/>
<rect x="367.0" y="106.8" width="3" height="3" fill="#8f2ca8"/>
<rect x="370.0" y="106.8" width="3" height="3" fill="#8d2ca8"/>
<rect x="373.0" y="106.8" width="3" height="3" fill="#902ca8"/>
<rect x="376.0" y="106.8" width="3" height="3" fill="#8d2ca8"/>
<rect x="379.0" y="106.8" width="3" height="3" fill="#922ca8"/>
<rect x="382.0" y="106.8" width="3" height="3" fill="#8e2ca8"/>
<rect x="385.0" y="106.8" width="3" height="3" fill="#932ca8"/>
<rect x="388.0" y="106.8" width="3" height="3" fill="#aa35a1"/>
<rect x="391.0" y="106.8" width="3" height="3" fill="#ad36a1"/>
<rect x="394.0" y="106.8" width="3" height="3" fill="#a432a3"/>
<rect x="397.0" y="106.8" width="3" height="3" fill="#a633a3"/>
<rect x="400.0" y="106.8" width="3" height="3" fill="#b53a9e"/>
<rect x="403.0" y="106.8" width="3" height="3" fill="#ad36a1"/>
<rect x="406.0" y="106.8" width="3" height="3" fill="#a734a2"/>
<rect x="409.0" y="106.8" width="3" height="3" fill="#9c2fa6"/>
<rect x="412.0" y="106.8" width="3" height="3" fill="#9f30a5"/>
<rect x="415.0" y="106.8" width="3" height="3" fill="#b3399f"/>
<rect x="418.0" y="106.8" width="3" height="3" fill="#b83c9d"/>
<rect x="421.0" y="106.8" width="3" height="3" fill="#c2409a"/>
<rect x="424.0" y="106.8" width="3" height="3" fill="#c03f9b"/>
<rect x="427.0" y="106.8" width="3" height="3" fill="#c54299"/>
<rect x="430.0" y="106.8" width="3" height="3" fill="#c54299"/>
<rect x="433.0" y="106.8" width="3" height="3" fill="#d14796"/>
<rect x="436.0" y="106.8" width="3" height="3" fill="#cc4597"/>
<rect x="439.0" y="106.8" width="3" height="3" fill="#c84398"/>
<rect x="442.0" y="106.8" width="3" height="3" fill="#b43a9e"/>
<rect x="445.0" y="106.8" width="3" height="3" fill="#aa35a1"/>
<rect x="334.0" y="109.8" width="3" height="3" fill="#ba3d9d"/>
<rect x="337.0" y="109.8" width="3" height="3" fill="#b1389f"/>
<rect x="340.0" y="109.8" width="3" height="3" fill="#bc3d9c"/>
<rect x="343.0" y="109.8" width="3" height="3" fill="#b63b9e"/>
<rect x="346.0" y="109.8" width="3" height="3" fill="#b93c9d"/>
<rect x="349.0" y="109.8" width="3" height="3" fill="#bd3e9c"/>
<rect x="352.0" y="109.8" width="3" height="3" fill="#b2399f"/>
<rect x="355.0" y="109.8" width="3" height="3" fill="#b53a9e"/>
<rect x="358.0" y="109.8" width="3" height="3" fill="#a935a2"/>
<rect x="361.0" y="109.8" width="3" height="3" fill="#9c2ea6"/>
<rect x="364.0" y="109.8" width="3" height="3" fill="#972ca7"/>
<rect x="367.0" y="109.8" width="3" height="3" fill="#982da7"/>
<rect x="370.0" y="109.8" width="3" height="3" fill="#932ca8"/>
<rect x="373.0" y="109.8" width="3" height="3" fill="#912ca8"/>
<rect x="376.0" y="109.8" width="3" height="3" fill="#8e2ca8"/>
<rect x="379.0" y="109.8" width="3" height="3" fill="#912ca8"/>
<rect x="382.0" y="109.8" width="3" height="3" fill="#932ca8"/>
<rect x="385.0" y="109.8" width="3" height="3" fill="#942ca8"/>
<rect x="388.0" y="109.8" width="3" height="3" fill="#a834a2"/>
<rect x="391.0" y="109.8" width="3" height="3" fill="#a633a3"/>
<rect x="394.0" y="109.8" width="3" height="3" fill="#af38a0"/>
<rect x="397.0" y="109.8" width="3" height="3" fill="#b038a0"/>
<rect x="400.0" y="109.8" width="3" height="3" fill="#b83c9d"/>
<rect x="403.0" y="109.8" width="3" height="3" fill="#b43a9e"/>
<rect x="406.0" y="109.8" width="3" height="3" fill="#9e30a5"/>
<rect x="409.0" y="109.8" width="3" height="3" fill="#a633a3"/>
<rect x="412.0" y="109.8" width="3" height="3" fill="#a030a4"/>
<rect x="415.0" y="109.8" width="3" height="3" fill="#b038a0"/>
<rect x="418.0" y="109.8" width="3" height="3" fill="#b53a9e"/>
<rect x="421.0" y="109.8" width="3" height="3" fill="#bc3d9c"/>
<rect x="424.0" y="109.8" width="3" height="3" fill="#c74399"/>
<rect x="427.0" y="109.8" width="3" height="3" fill="#c2409a"/>
<rect x="430.0" y="109.8" width="3" height="3" fill="#c74399"/>
<rect x="433.0" y="109.8" width="3" height="3" fill="#c74399"/>
<rect x="436.0" y="109.8" width="3" height="3" fill="#c03f9b"/>
<rect x="439.0" y="109.8" width="3" height="3" fill="#c54299"/>
<rect x="442.0" y="109.8" width="3" height="3" fill="#b2399f"/>
<rect x="445.0" y="109.8" width="3" height="3" fill="#b93c9d"/>
<rect x="334.0" y="112.8" width="3" height="3" fill="#ae37a0"/>
<rect x="337.0" y="112.8" width="3" height="3" fill="#b0389f"/>
<rect x="340.0" y="112.8" width="3" height="3" fill="#a834a2"/>
<rect x="343.0" y="112.8" width="3" height="3" fill="#b1389f"/>
<rect x="346.0" y="112.8" width="3" height="3" fill="#b43a9e"/>
<rect x="349.0" y="112.8" width="3" height="3" fill="#b63b9e"/>
<rect x="352.0" y="112.8" width="3" height="3" fill="#b63a9e"/>
<rect x="355.0" y="112.8" width="3" height="3" fill="#b73b9d"/>
<rect x="358.0" y="112.8" width="3" height="3" fill="#a834a2"/>
<rect x="361.0" y="112.8" width="3" height="3" fill="#a935a2"/>
<rect x="364.0" y="112.8" width="3" height="3" fill="#9d2fa5"/>
<rect x="367.0" y="112.8" width="3" height="3" fill="#9f30a5"/>
<rect x="370.0" y="112.8" width="3" height="3" fill="#982da7"/>
<rect x="373.0" y="112.8" width="3" height="3" fill="#952ca8"/>
<rect x="376.0" y="112.8" width="3" height="3" fill="#972ca7"/>
<rect x="379.0" y="112.8" width="3" height="3" fill="#9e30a5"/>
<rect x="382.0" y="112.8" width="3" height="3" fill="#aa35a1"/>
<rect x="385.0" y="112.8" width="3" height="3" fill="#ab36a1"/>
<rect x="388.0" y="112.8" width="3" height="3" fill="#a935a2"/>
<rect x="391.0" y="112.8" width="3" height="3" fill="#ac36a1"/>
<rect x="394.0" y="112.8" width="3" height="3" fill="#ac36a1"/>
<rect x="397.0" y="112.8" width="3" height="3" fill="#a834a2"/>
<rect x="400.0" y="112.8" width="3" height="3" fill="#9c2fa6"/>
<rect x="403.0" y="112.8" width="3" height="3" fill="#a332a4"/>
<rect x="406.0" y="112.8" width="3" height="3" fill="#a633a3"/>
<rect x="409.0" y="112.8" width="3" height="3" fill="#aa35a1"/>
<rect x="412.0" y="112.8" width="3" height="3" fill="#b73b9d"/>
<rect x="415.0" y="112.8" width="3" height="3" fill="#b2399f"/>
<rect x="418.0" y="112.8" width="3" height="3" fill="#b038a0"/>
<rect x="421.0" y="112.8" width="3" height="3" fill="#b2399f"/>
<rect x="424.0" y="112.8" width="3" height="3" fill="#b93c9d"/>
<rect x="427.0" y="112.8" width="3" height="3" fill="#c03f9b"/>
<rect x="430.0" y="112.8" width="3" height="3" fill="#ba3d9d"/>
<rect x="433.0" y="112.8" width="3" height="3" fill="#c64299"/>
<rect x="436.0" y="112.8" width="3" height="3" fill="#c1409b"/>
<rect x="439.0" y="112.8" width="3" height="3" fill="#b93c9d"/>
<rect x="442.0" y="112.8" width="3" height="3" fill="#af38a0"/>
<rect x="445.0" y="112.8" width="3" height="3" fill="#bd3e9c"/>
<rect x="334.0" y="115.8" width="3" height="3" fill="#b2399f"/>
<rect x="337.0" y="115.8" width="3" height="3" fill="#af37a0"/>
<rect x="340.0" y="115.8" width="3" height="3" fill="#b2399f"/>
<rect x="343.0" y="115.8" width="3" height="3" fill="#b43a9e"/>
<rect x="346.0" y="115.8" width="3" height="3" fill="#b43a9e"/>
<rect x="349.0" y="115.8" width="3" height="3" fill="#b73b9e"/>
<rect x="352.0" y="115.8" width="3" height="3" fill="#b63b9e"/>
<rect x="355.0" y="115.8" width="3" height="3" fill="#b3399f"/>
<rect x="358.0" y="115.8" width="3" height="3" fill="#b83c9d"/>
<rect x="361.0" y="115.8" width="3" height="3" fill="#a332a4"/>
<rect x="364.0" y="115.8" width="3" height="3" fill="#a332a4"/>
<rect x="367.0" y="115.8" width="3" height="3" fill="#ab35a1"/>
<rect x="370.0" y="115.8" width="3" height="3" fill="#a834a2"/>
<rect x="373.0" y="115.8" width="3" height="3" fill="#a633a3"/>
<rect x="376.0" y="115.8" width="3" height="3" fill="#962ca7"/>
<rect x="379.0" y="115.8" width="3" height="3" fill="#a734a2"/>
<rect x="382.0" y="115.8" width="3" height="3" fill="#a834a2"/>
<rect x="385.0" y="115.8" width="3" height="3" fill="#af37a0"/>
<rect x="388.0" y="115.8" width="3" height="3" fill="#a935a2"/>
<rect x="391.0" y="115.8" width="3" height="3" fill="#a131a4"/>
<rect x="394.0" y="115.8" width="3" height="3" fill="#b1389f"/>
<rect x="397.0" y="115.8" width="3" height="3" fill="#9c2fa5"/>
<rect x="400.0" y="115.8" width="3" height="3" fill="#ab36a1"/>
<rect x="403.0" y="115.8" width="3" height="3" fill="#a734a2"/>
<rect x="406.0" y="115.8" width="3" height="3" fill="#b0389f"/>
<rect x="409.0" y="115.8" width="3" height="3" fill="#a432a3"/>
<rect x="412.0" y="115.8" width="3" height="3" fill="#b53a9e"/>
<rect x="415.0" y="115.8" width="3" height="3" fill="#b63b9e"/>
<rect x="418.0" y="115.8" width="3" height="3" fill="#b0389f"/>
<rect x="421.0" y="115.8" width="3" height="3" fill="#ae37a0"/>
<rect x="424.0" y="115.8" width="3" height="3" fill="#b038a0"/>
<rect x="427.0" y="115.8" width="3" height="3" fill="#b63b9e"/>
<rect x="430.0" y="115.8" width="3" height="3" fill="#b93c9d"/>
<rect x="433.0" y="115.8" width="3" height="3" fill="#b63b9e"/>
<rect x="436.0" y="115.8" width="3" height="3" fill="#b2399f"/>
<rect x="439.0" y="115.8" width="3" height="3" fill="#b038a0"/>
<rect x="442.0" y="115.8" width="3" height="3" fill="#bc3d9c"/>
<rect x="445.0" y="115.8" width="3" height="3" fill="#ae37a0"/>
<rect x="334.0" y="118.8" width="3" height="3" fill="#a935a2"/>
<rect x="337.0" y="118.8" width="3" height="3" fill="#ad36a1"/>
<rect x="340.0" y="118.8" width="3" height="3" fill="#ae37a0"/>
<rect x="343.0" y="118.8" width="3" height="3" fill="#b3399f"/>
<rect x="346.0" y="118.8" width="3" height="3" fill="#bc3d9c"/>
<rect x="349.0" y="118.8" width="3" height="3" fill="#bc3d9c"/>
<rect x="352.0" y="118.8" width="3" height="3" fill="#b2399f"/>
<rect x="355.0" y="118.8" width="3" height="3" fill="#b2399f"/>
<rect x="358.0" y="118.8" width="3" height="3" fill="#b1389f"/>
<rect x="361.0" y="118.8" width="3" height="3" fill="#aa35a1"/>
<rect x="364.0" y="118.8" width="3" height="3" fill="#b0389f"/>
<rect x="367.0" y="118.8" width="3" height="3" fill="#a432a3"/>
<rect x="370.0" y="118.8" width="3" height="3" fill="#a935a2"/>
<rect x="373.0" y="118.8" width="3" height="3" fill="#9f30a5"/>
<rect x="376.0" y="118.8" width="3" height="3" fill="#a030a4"/>
<rect x="379.0" y="118.8" width="3" height="3" fill="#a935a2"/>
<rect x="382.0" y="118.8" width="3" height="3" fill="#a734a2"/>
<rect x="385.0" y="118.8" width="3" height="3" fill="#9f30a5"/>
<rect x="388.0" y="118.8" width="3" height="3" fill="#a834a2"/>
<rect x="391.0" y="118.8" width="3" height="3" fill="#b2399f"/>
<rect x="394.0" y="118.8" width="3" height="3" fill="#a734a2"/>
<rect x="397.0" y="118.8" width="3" height="3" fill="#af38a0"/>
<rect x="400.0" y="118.8" width="3" height="3" fill="#a533a3"/>
<rect x="403.0" y="118.8" width="3" height="3" fill="#a231a4"/>
<rect x="406.0" y="118.8" width="3" height="3" fill="#b53a9e"/>
<rect x="409.0" y="118.8" width="3" height="3" fill="#a734a2"/>
<rect x="412.0" y="118.8" width="3" height="3" fill="#b63b9e"/>
<rect x="415.0" y="118.8" width="3" height="3" fill="#b73b9e"/>
<rect x="418.0" y="118.8" width="3" height="3" fill="#af37a0"/>
<rect x="421.0" y="118.8" width="3" height="3" fill="#b038a0"/>
<rect x="424.0" y="118.8" width="3" height="3" fill="#a934a2"/>
<rect x="427.0" y="118.8" width="3" height="3" fill="#af38a0"/>
<rect x="430.0" y="118.8" width="3" height="3" fill="#af37a0"/>
<rect x="433.0" y="118.8" width="3" height="3" fill="#b038a0"/>
<rect x="436.0" y="118.8" width="3" height="3" fill="#b53a9e"/>
<rect x="439.0" y="118.8" width="3" height="3" fill="#b73b9e"/>
<rect x="442.0" y="118.8" width="3" height="3" fill="#bd3e9c"/>
<rect x="445.0" y="118.8" width="3" height="3" fill="#ad36a1"/>
<rect x="334.0" y="121.8" width="3" height="3" fill="#ba3d9c"/>
<rect x="337.0" y="121.8" width="3" height="3" fill="#c94498"/>
<rect x="340.0" y="121.8" width="3" height="3" fill="#bf3f9b"/>
<rect x="343.0" y="121.8" width="3" height="3" fill="#be3e9b"/>
<rect x="346.0" y="121.8" width="3" height="3" fill="#c3419a"/>
<rect x="349.0" y="121.8" width="3" height="3" fill="#bc3e9c"/>
<rect x="352.0" y="121.8" width="3" height="3" fill="#c54299"/>
<rect x="355.0" y="121.8" width="3" height="3" fill="#b63a9e"/>
<rect x="358.0" y="121.8" width="3" height="3" fill="#c03f9b"/>
<rect x="361.0" y="121.8" width="3" height="3" fill="#b73b9e"/>
<rect x="364.0" y="121.8" width="3" height="3" fill="#a633a2"/>
<rect x="367.0" y="121.8" width="3" height="3" fill="#a633a3"/>
<rect x="370.0" y="121.8" width="3" height="3" fill="#9c2ea6"/>
<rect x="373.0" y="121.8" width="3" height="3" fill="#9b2ea6"/>
<rect x="376.0" y="121.8" width="3" height="3" fill="#9f30a5"/>
<rect x="379.0" y="121.8" width="3" height="3" fill="#a131a4"/>
<rect x="382.0" y="121.8" width="3" height="3" fill="#992da6"/>
<rect x="385.0" y="121.8" width="3" height="3" fill="#9a2ea6"/>
<rect x="388.0" y="121.8" width="3" height="3" fill="#aa35a1"/>
<rect x="391.0" y="121.8" width="3" height="3" fill="#a934a2"/>
<rect x="394.0" y="121.8" width="3" height="3" fill="#a834a2"/>
<rect x="397.0" y="121.8" width="3" height="3" fill="#b93c9d"/>
<rect x="400.0" y="121.8" width="3" height="3" fill="#b1399f"/>
<rect x="403.0" y="121.8" width="3" height="3" fill="#b2399f"/>
<rect x="406.0" y="121.8" width="3" height="3" fill="#b2399f"/>
<rect x="409.0" y="121.8" width="3" height="3" fill="#b2399f"/>
<rect x="412.0" y="121.8" width="3" height="3" fill="#b1389f"/>
<rect x="415.0" y="121.8" width="3" height="3" fill="#bc3d9c"/>
<rect x="418.0" y="121.8" width="3" height="3" fill="#ba3c9d"/>
<rect x="421.0" y="121.8" width="3" height="3" fill="#c3419a"/>
<rect x="424.0" y="121.8" width="3" height="3" fill="#b038a0"/>
<rect x="427.0" y="121.8" width="3" height="3" fill="#b83c9d"/>
<rect x="430.0" y="121.8" width="3" height="3" fill="#a934a2"/>
<rect x="433.0" y="121.8" width="3" height="3" fill="#b63a9e"/>
<rect x="436.0" y="121.8" width="3" height="3" fill="#b73b9e"/>
<rect x="439.0" y="121.8" width="3" height="3" fill="#b53a9e"/>
<rect x="442.0" y="121.8" width="3" height="3" fill="#a834a2"/>
<rect x="445.0" y="121.8" width="3" height="3" fill="#aa35a1"/>
<rect x="334.0" y="124.8" width="3" height="3" fill="#c1409b"/>
<rect x="337.0" y="124.8" width="3" height="3" fill="#bb3d9c"/>
<rect x="340.0" y="124.8" width="3" height="3" fill="#c54299"/>
<rect x="343.0" y="124.8" width="3" height="3" fill="#c64299"/>
<rect x="346.0" y="124.8" width="3" height="3" fill="#be3e9b"/>
<rect x="349.0" y="124.8" width="3" height="3" fill="#c3419a"/>
<rect x="352.0" y="124.8" width="3" height="3" fill="#c54299"/>
<rect x="355.0" y="124.8" width="3" height="3" fill="#b83b9d"/>
<rect x="358.0" y="124.8" width="3" height="3" fill="#b83c9d"/>
<rect x="361.0" y="124.8" width="3" height="3" fill="#b43a9e"/>
<rect x="364.0" y="124.8" width="3" height="3" fill="#b038a0"/>
<rect x="367.0" y="124.8" width="3" height="3" fill="#aa35a1"/>
<rect x="370.0" y="124.8" width="3" height="3" fill="#a432a3"/>
<rect x="373.0" y="124.8" width="3" height="3" fill="#9d2fa5"/>
<rect x="376.0" y="124.8" width="3" height="3" fill="#a734a2"/>
<rect x="379.0" y="124.8" width="3" height="3" fill="#ac36a1"/>
<rect x="382.0" y="124.8" width="3" height="3" fill="#a633a2"/>
<rect x="385.0" y="124.8" width="3" height="3" fill="#a734a2"/>
<rect x="388.0" y="124.8" width="3" height="3" fill="#ae37a0"/>
<rect x="391.0" y="124.8" width="3" height="3" fill="#b1389f"/>
<rect x="394.0" y="124.8" width="3" height="3" fill="#aa35a1"/>
<rect x="397.0" y="124.8" width="3" height="3" fill="#ad37a0"/>
<rect x="400.0" y="124.8" width="3" height="3" fill="#b53a9e"/>
<rect x="403.0" y="124.8" width="3" height="3" fill="#b93c9d"/>
<rect x="406.0" y="124.8" width="3" height="3" fill="#b63b9e"/>
<rect x="409.0" y="124.8" width="3" height="3" fill="#a432a3"/>
<rect x="412.0" y="124.8" width="3" height="3" fill="#a432a3"/>
<rect x="415.0" y="124.8" width="3" height="3" fill="#c2409a"/>
<rect x="418.0" y="124.8" width="3" height="3" fill="#b63a9e"/>
<rect x="421.0" y="124.8" width="3" height="3" fill="#c1409a"/>
<rect x="424.0" y="124.8" width="3" height="3" fill="#ad36a0"/>
<rect x="427.0" y="124.8" width="3" height="3" fill="#b038a0"/>
<rect x="430.0" y="124.8" width="3" height="3" fill="#b2399f"/>
<rect x="433.0" y="124.8" width="3" height="3" fill="#b93c9d"/>
<rect x="436.0" y="124.8" width="3" height="3" fill="#b43a9e"/>
<rect x="439.0" y="124.8" width="3" height="3" fill="#b43a9e"/>
<rect x="442.0" y="124.8" width="3" height="3" fill="#ac36a1"/>
<rect x="445.0" y="124.8" width="3" height="3" fill="#a432a3"/>
<rect x="334.0" y="127.8" width="3" height="3" fill="#c3419a"/>
<rect x="337.0" y="127.8" width="3" height="3" fill="#c44199"/>
<rect x="340.0" y="127.8" width="3" height="3" fill="#c84398"/>
<rect x="343.0" y="127.8" width="3" height="3" fill="#b93c9d"/>
<rect x="346.0" y="127.8" width="3" height="3" fill="#b83c9d"/>
<rect x="349.0" y="127.8" width="3" height="3" fill="#c03f9b"/>
<rect x="352.0" y="127.8" width="3" height="3" fill="#bc3d9c"/>
<rect x="355.0" y="127.8" width="3" height="3" fill="#c3419a"/>
<rect x="358.0" y="127.8" width="3" height="3" fill="#c03f9b"/>
<rect x="361.0" y="127.8" width="3" height="3" fill="#bc3d9c"/>
<rect x="364.0" y="127.8" width="3" height="3" fill="#ae37a0"/>
<rect x="367.0" y="127.8" width="3" height="3" fill="#b1389f"/>
<rect x="370.0" y="127.8" width="3" height="3" fill="#9f30a5"/>
<rect x="373.0" y="127.8" width="3" height="3" fill="#a734a2"/>
<rect x="376.0" y="127.8" width="3" height="3" fill="#a934a2"/>
<rect x="379.0" y="127.8" width="3" height="3" fill="#a131a4"/>
<rect x="382.0" y="127.8" width="3" height="3" fill="#a030a4"/>
<rect x="385.0" y="127.8" width="3" height="3" fill="#9d2fa5"/>
<rect x="388.0" y="127.8" width="3" height="3" fill="#a834a2"/>
<rect x="391.0" y="127.8" width="3" height="3" fill="#b63b9e"/>
<rect x="394.0" y="127.8" width="3" height="3" fill="#b038a0"/>
<rect x="397.0" y="127.8" width="3" height="3" fill="#b53a9e"/>
<rect x="400.0" y="127.8" width="3" height="3" fill="#c4419a"/>
<rect x="403.0" y="127.8" width="3" height="3" fill="#ba3d9c"/>
<rect x="406.0" y="127.8" width="3" height="3" fill="#b63b9e"/>
<rect x="409.0" y="127.8" width="3" height="3" fill="#b1389f"/>
<rect x="412.0" y="127.8" width="3" height="3" fill="#b3399f"/>
<rect x="415.0" y="127.8" width="3" height="3" fill="#bb3d9c"/>
<rect x="418.0" y="127.8" width="3" height="3" fill="#ba3d9d"/>
<rect x="421.0" y="127.8" width="3" height="3" fill="#be3f9b"/>
<rect x="424.0" y="127.8" width="3" height="3" fill="#a131a4"/>
<rect x="427.0" y="127.8" width="3" height="3" fill="#a432a3"/>
<rect x="430.0" y="127.8" width="3" height="3" fill="#ac36a1"/>
<rect x="433.0" y="127.8" width="3" height="3" fill="#b63a9e"/>
<rect x="436.0" y="127.8" width="3" height="3" fill="#b43a9e"/>
<rect x="439.0" y="127.8" width="3" height="3" fill="#ae37a0"/>
<rect x="442.0" y="127.8" width="3" height="3" fill="#ac36a1"/>
<rect x="445.0" y="127.8" width="3" height="3" fill="#b2399f"/>
<rect x="334.0" y="130.8" width="3" height="3" fill="#aa35a1"/>
<rect x="337.0" y="130.8" width="3" height="3" fill="#b83c9d"/>
<rect x="340.0" y="130.8" width="3" height="3" fill="#b1389f"/>
<rect x="343.0" y="130.8" width="3" height="3" fill="#c64299"/>
<rect x="346.0" y="130.8" width="3" height="3" fill="#c4419a"/>
<rect x="349.0" y="130.8" width="3" height="3" fill="#c84398"/>
<rect x="352.0" y="130.8" width="3" height="3" fill="#ba3c9d"/>
<rect x="355.0" y="130.8" width="3" height="3" fill="#b93c9d"/>
<rect x="358.0" y="130.8" width="3" height="3" fill="#bc3d9c"/>
<rect x="361.0" y="130.8" width="3" height="3" fill="#ab36a1"/>
<rect x="364.0" y="130.8" width="3" height="3" fill="#b2399f"/>
<rect x="367.0" y="130.8" width="3" height="3" fill="#bb3d9c"/>
<rect x="370.0" y="130.8" width="3" height="3" fill="#b83b9d"/>
<rect x="373.0" y="130.8" width="3" height="3" fill="#b43a9e"/>
<rect x="376.0" y="130.8" width="3" height="3" fill="#ae37a0"/>
<rect x="379.0" y="130.8" width="3" height="3" fill="#b3399f"/>
<rect x="382.0" y="130.8" width="3" height="3" fill="#b63b9e"/>
<rect x="385.0" y="130.8" width="3" height="3" fill="#b3399f"/>
<rect x="388.0" y="130.8" width="3" height="3" fill="#b1389f"/>
<rect x="391.0" y="130.8" width="3" height="3" fill="#bc3e9c"/>
<rect x="394.0" y="130.8" width="3" height="3" fill="#bb3d9c"/>
<rect x="397.0" y="130.8" width="3" height="3" fill="#b63a9e"/>
<rect x="400.0" y="130.8" width="3" height="3" fill="#bb3d9c"/>
<rect x="403.0" y="130.8" width="3" height="3" fill="#b53a9e"/>
<rect x="406.0" y="130.8" width="3" height="3" fill="#b83c9d"/>
<rect x="409.0" y="130.8" width="3" height="3" fill="#bc3d9c"/>
<rect x="412.0" y="130.8" width="3" height="3" fill="#af37a0"/>
<rect x="415.0" y="130.8" width="3" height="3" fill="#be3e9b"/>
<rect x="418.0" y="130.8" width="3" height="3" fill="#b2399f"/>
<rect x="421.0" y="130.8" width="3" height="3" fill="#b73b9d"/>
<rect x="424.0" y="130.8" width="3" height="3" fill="#bb3d9c"/>
<rect x="427.0" y="130.8" width="3" height="3" fill="#ba3c9d"/>
<rect x="430.0" y="130.8" width="3" height="3" fill="#b63b9e"/>
<rect x="433.0" y="130.8" width="3" height="3" fill="#ae37a0"/>
<rect x="436.0" y="130.8" width="3" height="3" fill="#b3399f"/>
<rect x="439.0" y="130.8" width="3" height="3" fill="#af37a0"/>
<rect x="442.0" y="130.8" width="3" height="3" fill="#a030a4"/>
<rect x="445.0" y="130.8" width="3" height="3" fill="#ad36a0"/>
<rect x="334.0" y="133.8" width="3" height="3" fill="#b1389f"/>
<rect x="337.0" y="133.8" width="3" height="3" fill="#b0389f"/>
<rect x="340.0" y="133.8" width="3" height="3" fill="#af37a0"/>
<rect x="343.0" y="133.8" width="3" height="3" fill="#b93c9d"/>
<rect x="346.0" y="133.8" width="3" height="3" fill="#c74399"/>
<rect x="349.0" y="133.8" width="3" height="3" fill="#bf3f9b"/>
<rect x="352.0" y="133.8" width="3" height="3" fill="#c3419a"/>
<rect x="355.0" y="133.8" width="3" height="3" fill="#c1409a"/>
<rect x="358.0" y="133.8" width="3" height="3" fill="#b63b9e"/>
<rect x="361.0" y="133.8" width="3" height="3" fill="#b3399f"/>
<rect x="364.0" y="133.8" width="3" height="3" fill="#bb3d9c"/>
<rect x="367.0" y="133.8" width="3" height="3" fill="#b93c9d"/>
<rect x="370.0" y="133.8" width="3" height="3" fill="#be3f9b"/>
<rect x="373.0" y="133.8" width="3" height="3" fill="#b63b9e"/>
<rect x="376.0" y="133.8" width="3" height="3" fill="#b83c9d"/>
<rect x="379.0" y="133.8" width="3" height="3" fill="#b43a9e"/>
<rect x="382.0" y="133.8" width="3" height="3" fill="#be3e9b"/>
<rect x="385.0" y="133.8" width="3" height="3" fill="#b2399f"/>
<rect x="388.0" y="133.8" width="3" height="3" fill="#b43a9e"/>
<rect x="391.0" y="133.8" width="3" height="3" fill="#bb3d9c"/>
<rect x="394.0" y="133.8" width="3" height="3" fill="#be3e9b"/>
<rect x="397.0" y="133.8" width="3" height="3" fill="#b83c9d"/>
<rect x="400.0" y="133.8" width="3" height="3" fill="#b63b9e"/>
<rect x="403.0" y="133.8" width="3" height="3" fill="#b1389f"/>
<rect x="406.0" y="133.8" width="3" height="3" fill="#bc3e9c"/>
<rect x="409.0" y="133.8" width="3" height="3" fill="#bb3d9c"/>
<rect x="412.0" y="133.8" width="3" height="3" fill="#ac36a1"/>
<rect x="415.0" y="133.8" width="3" height="3" fill="#b53a9e"/>
<rect x="418.0" y="133.8" width="3" height="3" fill="#b0389f"/>
<rect x="421.0" y="133.8" width="3" height="3" fill="#ab36a1"/>
<rect x="424.0" y="133.8" width="3" height="3" fill="#bc3d9c"/>
<rect x="427.0" y="133.8" width="3" height="3" fill="#b1389f"/>
<rect x="430.0" y="133.8" width="3" height="3" fill="#ae37a0"/>
<rect x="433.0" y="133.8" width="3" height="3" fill="#b63b9e"/>
<rect x="436.0" y="133.8" width="3" height="3" fill="#ac36a1"/>
<rect x="439.0" y="133.8" width="3" height="3" fill="#b43a9e"/>
<rect x="442.0" y="133.8" width="3" height="3" fill="#ae37a0"/>
<rect x="445.0" y="133.8" width="3" height="3" fill="#a231a4"/>
<rect x="334.0" y="136.8" width="3" height="3" fill="#b0389f"/>
<rect x="337.0" y="136.8" width="3" height="3" fill="#b63b9e"/>
<rect x="340.0" y="136.8" width="3" height="3" fill="#b1389f"/>
<rect x="343.0" y="136.8" width="3" height="3" fill="#bc3d9c"/>
<rect x="346.0" y="136.8" width="3" height="3" fill="#bf3f9b"/>
<rect x="349.0" y="136.8" width="3" height="3" fill="#c64299"/>
<rect x="352.0" y="136.8" width="3" height="3" fill="#b63b9e"/>
<rect x="355.0" y="136.8" width="3" height="3" fill="#b3399f"/>
<rect x="358.0" y="136.8" width="3" height="3" fill="#b53a9e"/>
<rect x="361.0" y="136.8" width="3" height="3" fill="#af37a0"/>
<rect x="364.0" y="136.8" width="3" height="3" fill="#b93c9d"/>
<rect x="367.0" y="136.8" width="3" height="3" fill="#ae37a0"/>
<rect x="370.0" y="136.8" width="3" height="3" fill="#be3e9b"/>
<rect x="373.0" y="136.8" width="3" height="3" fill="#c1409a"/>
<rect x="376.0" y="136.8" width="3" height="3" fill="#b3399f"/>
<rect x="379.0" y="136.8" width="3" height="3" fill="#b53a9e"/>
<rect x="382.0" y="136.8" width="3" height="3" fill="#af37a0"/>
<rect x="385.0" y="136.8" width="3" height="3" fill="#ad37a0"/>
<rect x="388.0" y="136.8" width="3" height="3" fill="#b53a9e"/>
<rect x="391.0" y="136.8" width="3" height="3" fill="#b0389f"/>
<rect x="394.0" y="136.8" width="3" height="3" fill="#b93c9d"/>
<rect x="397.0" y="136.8" width="3" height="3" fill="#b63b9e"/>
<rect x="400.0" y="136.8" width="3" height="3" fill="#ae37a0"/>
<rect x="403.0" y="136.8" width="3" height="3" fill="#ad36a0"/>
<rect x="406.0" y="136.8" width="3" height="3" fill="#b1389f"/>
<rect x="409.0" y="136.8" width="3" height="3" fill="#b63b9e"/>
<rect x="412.0" y="136.8" width="3" height="3" fill="#ac36a1"/>
<rect x="415.0" y="136.8" width="3" height="3" fill="#af38a0"/>
<rect x="418.0" y="136.8" width="3" height="3" fill="#af37a0"/>
<rect x="421.0" y="136.8" width="3" height="3" fill="#ac36a1"/>
<rect x="424.0" y="136.8" width="3" height="3" fill="#b038a0"/>
<rect x="427.0" y="136.8" width="3" height="3" fill="#b0389f"/>
<rect x="430.0" y="136.8" width="3" height="3" fill="#b038a0"/>
<rect x="433.0" y="136.8" width="3" height="3" fill="#b63b9e"/>
<rect x="436.0" y="136.8" width="3" height="3" fill="#b038a0"/>
<rect x="439.0" y="136.8" width="3" height="3" fill="#b63b9e"/>
<rect x="442.0" y="136.8" width="3" height="3" fill="#a935a2"/>
<rect x="445.0" y="136.8" width="3" height="3" fill="#aa35a1"/>
<rect x="334.0" y="139.8" width="3" height="3" fill="#ab36a1"/>
<rect x="337.0" y="139.8" width="3" height="3" fill="#af37a0"/>
<rect x="340.0" y="139.8" width="3" height="3" fill="#b1389f"/>
<rect x="343.0" y="139.8" width="3" height="3" fill="#c2409a"/>
<rect x="346.0" y="139.8" width="3" height="3" fill="#b83c9d"/>
<rect x="349.0" y="139.8" width="3" height="3" fill="#b93c9d"/>
<rect x="352.0" y="139.8" width="3" height="3" fill="#bb3d9c"/>
<rect x="355.0" y="139.8" width="3" height="3" fill="#b0389f"/>
<rect x="358.0" y="139.8" width="3" height="3" fill="#ba3c9d"/>
<rect x="361.0" y="139.8" width="3" height="3" fill="#b83c9d"/>
<rect x="364.0" y="139.8" width="3" height="3" fill="#ba3d9d"/>
<rect x="367.0" y="139.8" width="3" height="3" fill="#b63b9e"/>
<rect x="370.0" y="139.8" width="3" height="3" fill="#c74399"/>
<rect x="373.0" y="139.8" width="3" height="3" fill="#c84398"/>
<rect x="376.0" y="139.8" width="3" height="3" fill="#b73b9e"/>
<rect x="379.0" y="139.8" width="3" height="3" fill="#ba3c9d"/>
<rect x="382.0" y="139.8" width="3" height="3" fill="#af37a0"/>
<rect x="385.0" y="139.8" width="3" height="3" fill="#b43a9e"/>
<rect x="388.0" y="139.8" width="3" height="3" fill="#ac36a1"/>
<rect x="391.0" y="139.8" width="3" height="3" fill="#ae37a0"/>
<rect x="394.0" y="139.8" width="3" height="3" fill="#a231a4"/>
<rect x="397.0" y="139.8" width="3" height="3" fill="#ae37a0"/>
<rect x="400.0" y="139.8" width="3" height="3" fill="#ae37a0"/>
<rect x="403.0" y="139.8" width="3" height="3" fill="#ab36a1"/>
<rect x="406.0" y="139.8" width="3" height="3" fill="#b73b9d"/>
<rect x="409.0" y="139.8" width="3" height="3" fill="#ad36a1"/>
<rect x="412.0" y="139.8" width="3" height="3" fill="#b73b9e"/>
<rect x="415.0" y="139.8" width="3" height="3" fill="#a533a3"/>
<rect x="418.0" y="139.8" width="3" height="3" fill="#aa35a1"/>
<rect x="421.0" y="139.8" width="3" height="3" fill="#aa35a1"/>
<rect x="424.0" y="139.8" width="3" height="3" fill="#9a2ea6"/>
<rect x="427.0" y="139.8" width="3" height="3" fill="#a633a3"/>
<rect x="430.0" y="139.8" width="3" height="3" fill="#9b2ea6"/>
<rect x="433.0" y="139.8" width="3" height="3" fill="#b0389f"/>
<rect x="436.0" y="139.8" width="3" height="3" fill="#b43a9e"/>
<rect x="439.0" y="139.8" width="3" height="3" fill="#b63a9e"/>
<rect x="442.0" y="139.8" width="3" height="3" fill="#b3399f"/>
<rect x="445.0" y="139.8" width="3" height="3" fill="#b2399f"/>
</g>
<rect x="406.7" y="131.0" width="1.3" height="1.3" fill="#d7528c"/>
<rect x="436.6" y="116.1" width="1.3" height="1.3" fill="#db5a86"/>
<rect x="334.2" y="127.7" width="1.3" height="1.3" fill="#d44c91"/>
<rect x="340.4" y="139.2" width="1.3" height="1.3" fill="#da5987"/>
<rect x="375.0" y="95.5" width="1.3" height="1.3" fill="#d24995"/>
<rect x="354.3" y="137.0" width="1.3" height="1.3" fill="#db5986"/>
<rect x="353.9" y="40.4" width="1.3" height="1.3" fill="#da5788"/>
<rect x="445.6" y="49.6" width="1.3" height="1.3" fill="#dd5e82"/>
<rect x="404.6" y="118.6" width="1.3" height="1.3" fill="#d7528d"/>
<rect x="350.7" y="124.8" width="1.3" height="1.3" fill="#d7528c"/>
<rect x="420.2" y="107.9" width="1.3" height="1.3" fill="#dd5d83"/>
<rect x="406.8" y="95.7" width="1.3" height="1.3" fill="#d8548b"/>
<rect x="410.8" y="101.3" width="1.3" height="1.3" fill="#d7528c"/>
<rect x="359.3" y="37.8" width="1.3" height="1.3" fill="#d54f8f"/>
<rect x="354.3" y="53.1" width="1.3" height="1.3" fill="#d7528c"/>
<rect x="360.6" y="131.2" width="1.3" height="1.3" fill="#d6518d"/>
<rect x="427.1" y="73.0" width="1.3" height="1.3" fill="#d95689"/>
<rect x="367.2" y="123.2" width="1.3" height="1.3" fill="#dc5b85"/>
<rect x="445.8" y="109.0" width="1.3" height="1.3" fill="#dc5b85"/>
<rect x="417.1" y="128.5" width="1.3" height="1.3" fill="#d7528d"/>
<rect x="370.2" y="119.5" width="1.3" height="1.3" fill="#da5887"/>
<rect x="378.3" y="42.5" width="1.3" height="1.3" fill="#d44c91"/>
<rect x="360.3" y="84.9" width="1.3" height="1.3" fill="#dd5d83"/>
<rect x="421.3" y="77.0" width="1.3" height="1.3" fill="#d8548b"/>
<rect x="389.0" y="134.8" width="1.3" height="1.3" fill="#d44d91"/>
<rect x="339.7" y="75.5" width="1.3" height="1.3" fill="#d54d90"/>
<rect x="338.2" y="138.8" width="1.3" height="1.3" fill="#d8538b"/>
<rect x="369.0" y="46.1" width="1.3" height="1.3" fill="#d44d91"/>
<rect x="439.1" y="119.3" width="1.3" height="1.3" fill="#d54f8f"/>
<rect x="345.6" y="121.4" width="1.3" height="1.3" fill="#d24994"/>
<rect x="427.1" y="85.8" width="1.3" height="1.3" fill="#d44b92"/>
<rect x="356.3" y="119.6" width="1.3" height="1.3" fill="#da5788"/>
<rect x="365.8" y="40.4" width="1.3" height="1.3" fill="#d6508e"/>
<rect x="368.4" y="134.1" width="1.3" height="1.3" fill="#da5887"/>
<rect x="403.7" y="130.6" width="1.3" height="1.3" fill="#d95689"/>
<rect x="355.0" y="35.2" width="1.3" height="1.3" fill="#d8558a"/>
<rect x="351.5" y="42.0" width="1.3" height="1.3" fill="#d95689"/>
<rect x="419.1" y="111.2" width="1.3" height="1.3" fill="#d34a93"/>
<rect x="429.0" y="89.0" width="1.3" height="1.3" fill="#d7518d"/>
<rect x="437.1" y="135.0" width="1.3" height="1.3" fill="#d44c92"/>
<rect x="399.2" y="138.1" width="1.3" height="1.3" fill="#d8558a"/>
<rect x="340.3" y="86.9" width="1.3" height="1.3" fill="#d6508e"/>
<rect x="350.1" y="138.3" width="1.3" height="1.3" fill="#d54e90"/>
<rect x="421.8" y="113.4" width="1.3" height="1.3" fill="#db5b85"/>
<rect x="396.9" y="32.9" width="1.3" height="1.3" fill="#db5b85"/>
<rect x="389.4" y="127.7" width="1.3" height="1.3" fill="#d9558a"/>
<rect x="347.5" y="114.9" width="1.3" height="1.3" fill="#d54e90"/>
<rect x="435.0" y="83.1" width="1.3" height="1.3" fill="#d44d91"/>
<rect x="363.5" y="136.0" width="1.3" height="1.3" fill="#d34a94"/>
<rect x="428.6" y="95.9" width="1.3" height="1.3" fill="#dd5e82"/>
<rect x="380.0" y="127.6" width="1.3" height="1.3" fill="#d54e8f"/>
<rect x="434.4" y="87.6" width="1.3" height="1.3" fill="#d6518d"/>
<rect x="345.5" y="116.4" width="1.3" height="1.3" fill="#d8548b"/>
<rect x="405.0" y="133.0" width="1.3" height="1.3" fill="#db5a85"/>
<rect x="348.9" y="50.3" width="1.3" height="1.3" fill="#d7528d"/>
<rect x="403.4" y="126.2" width="1.3" height="1.3" fill="#da5888"/>
<rect x="347.7" y="115.9" width="1.3" height="1.3" fill="#d9558a"/>
<rect x="380.4" y="139.3" width="1.3" height="1.3" fill="#d95788"/>
<rect x="418.8" y="112.0" width="1.3" height="1.3" fill="#dd5d83"/>
<rect x="351.8" y="86.2" width="1.3" height="1.3" fill="#db5a86"/>
<rect x="420.4" y="124.0" width="1.3" height="1.3" fill="#d8548b"/>
<rect x="426.9" y="103.5" width="1.3" height="1.3" fill="#d95689"/>
<rect x="359.6" y="61.9" width="1.3" height="1.3" fill="#d95788"/>
<rect x="363.2" y="124.4" width="1.3" height="1.3" fill="#d24994"/>
<rect x="335.6" y="116.1" width="1.3" height="1.3" fill="#d7528c"/>
<rect x="344.0" y="56.0" width="1.3" height="1.3" fill="#d7518d"/>
<rect x="384.5" y="76.8" width="1.3" height="1.3" fill="#d7528c"/>
<rect x="381.6" y="43.4" width="1.3" height="1.3" fill="#d8548b"/>
<rect x="367.0" y="121.7" width="1.3" height="1.3" fill="#d8548b"/>
<rect x="436.6" y="101.9" width="1.3" height="1.3" fill="#d8538b"/>
<rect x="345.0" y="126.7" width="1.3" height="1.3" fill="#da5788"/>
<rect x="384.7" y="127.8" width="1.3" height="1.3" fill="#d44d91"/>
<rect x="383.9" y="112.6" width="1.3" height="1.3" fill="#d34a93"/>
<rect x="418.6" y="131.5" width="1.3" height="1.3" fill="#d24994"/>
<rect x="337.8" y="82.1" width="1.3" height="1.3" fill="#d54f8f"/>
<rect x="361.7" y="39.0" width="1.3" height="1.3" fill="#dd5f82"/>
<rect x="414.6" y="85.9" width="1.3" height="1.3" fill="#d54f8f"/>
<rect x="367.1" y="48.3" width="1.3" height="1.3" fill="#d9558a"/>
<rect x="357.1" y="133.2" width="1.3" height="1.3" fill="#d9558a"/>
<rect x="441.1" y="99.3" width="1.3" height="1.3" fill="#d8538b"/>
<rect x="414.0" y="137.1" width="1.3" height="1.3" fill="#db5a86"/>
<rect x="423.9" y="123.0" width="1.3" height="1.3" fill="#d7518d"/>
<rect x="369.5" y="136.0" width="1.3" height="1.3" fill="#dc5c84"/>
<rect x="350.5" y="35.0" width="1.3" height="1.3" fill="#d6518d"/>
<rect x="427.7" y="97.1" width="1.3" height="1.3" fill="#d44d91"/>
<rect x="438.7" y="111.8" width="1.3" height="1.3" fill="#d54e90"/>
<rect x="358.6" y="44.2" width="1.3" height="1.3" fill="#dd5e82"/>
<rect x="422.4" y="110.2" width="1.3" height="1.3" fill="#d7518d"/>
<rect x="370.8" y="59.9" width="1.3" height="1.3" fill="#d24895"/>
<rect x="358.6" y="140.7" width="1.3" height="1.3" fill="#d8558a"/>
<rect x="363.4" y="40.2" width="1.3" height="1.3" fill="#d8558a"/>
<rect x="419.1" y="95.1" width="1.3" height="1.3" fill="#dd5e82"/>
<rect x="412.0" y="61.9" width="1.3" height="1.3" fill="#d9558a"/>
<rect x="410.4" y="74.4" width="1.3" height="1.3" fill="#d44b92"/>
<rect x="381.7" y="129.7" width="1.3" height="1.3" fill="#d8548b"/>
<rect x="348.0" y="107.1" width="1.3" height="1.3" fill="#dc5b85"/>
<rect x="435.4" y="97.1" width="1.3" height="1.3" fill="#d95689"/>
<rect x="441.1" y="96.8" width="1.3" height="1.3" fill="#d44c91"/>
<rect x="404.6" y="37.1" width="1.3" height="1.3" fill="#d6508e"/>
<rect x="431.0" y="123.6" width="1.3" height="1.3" fill="#dc5c84"/>
<rect x="362.5" y="47.5" width="1.3" height="1.3" fill="#d7528d"/>
<rect x="413.2" y="79.0" width="1.3" height="1.3" fill="#d54e90"/>
<rect x="350.1" y="113.8" width="1.3" height="1.3" fill="#d44b92"/>
<rect x="361.7" y="133.4" width="1.3" height="1.3" fill="#da5788"/>
<rect x="434.2" y="104.8" width="1.3" height="1.3" fill="#d7528d"/>
<rect x="413.5" y="134.8" width="1.3" height="1.3" fill="#d34a93"/>
<rect x="404.6" y="129.6" width="1.3" height="1.3" fill="#db5a86"/>
<rect x="353.3" y="43.3" width="1.3" height="1.3" fill="#d64f8f"/>
<rect x="350.3" y="122.4" width="1.3" height="1.3" fill="#d34b93"/>
<rect x="415.2" y="110.9" width="1.3" height="1.3" fill="#d7538c"/>
<rect x="336.5" y="139.0" width="1.3" height="1.3" fill="#dc5c84"/>
<rect x="388.3" y="86.0" width="1.3" height="1.3" fill="#d34a93"/>
<rect x="355.9" y="48.4" width="1.3" height="1.3" fill="#db5a86"/>
<rect x="400.6" y="109.2" width="1.3" height="1.3" fill="#d8558a"/>
<rect x="437.1" y="35.6" width="1.3" height="1.3" fill="#d7528c"/>
<rect x="427.4" y="111.4" width="1.3" height="1.3" fill="#d44c92"/>
<rect x="359.3" y="54.8" width="1.3" height="1.3" fill="#d7528c"/>
<rect x="432.0" y="90.6" width="1.3" height="1.3" fill="#da5887"/>
<rect x="341.8" y="117.1" width="1.3" height="1.3" fill="#dc5c84"/>
<rect x="403.7" y="128.4" width="1.3" height="1.3" fill="#d54e90"/>
<rect x="337.3" y="70.4" width="1.3" height="1.3" fill="#d34b92"/>
<rect x="357.9" y="33.3" width="1.3" height="1.3" fill="#d34a93"/>
<rect x="369.0" y="112.9" width="1.3" height="1.3" fill="#dd5d83"/>
<rect x="362.9" y="117.4" width="1.3" height="1.3" fill="#d34a94"/>
<rect x="394.9" y="138.9" width="1.3" height="1.3" fill="#d44d91"/>
<rect x="355.9" y="43.5" width="1.3" height="1.3" fill="#dd5e82"/>
<rect x="362.8" y="81.7" width="1.3" height="1.3" fill="#db5a86"/>
<rect x="337.9" y="136.5" width="1.3" height="1.3" fill="#d8558a"/>
<rect x="351.2" y="114.5" width="1.3" height="1.3" fill="#db5b85"/>
<rect x="395.2" y="88.8" width="1.3" height="1.3" fill="#d44c92"/>
<rect x="424.1" y="123.4" width="1.3" height="1.3" fill="#d95689"/>
<rect x="401.7" y="131.6" width="1.3" height="1.3" fill="#dc5b84"/>
<rect x="337.9" y="79.2" width="1.3" height="1.3" fill="#d44c91"/>
<rect x="432.4" y="113.0" width="1.3" height="1.3" fill="#d95689"/>
<rect x="358.0" y="135.6" width="1.3" height="1.3" fill="#dc5d83"/>
<rect x="355.8" y="52.4" width="1.3" height="1.3" fill="#d34a93"/>
<rect x="416.4" y="78.8" width="1.3" height="1.3" fill="#d24895"/>
<rect x="338.0" y="111.7" width="1.3" height="1.3" fill="#d7528d"/>
<rect x="359.9" y="47.2" width="1.3" height="1.3" fill="#d34a93"/>
<rect x="360.3" y="117.9" width="1.3" height="1.3" fill="#d24895"/>
<rect x="435.0" y="83.9" width="1.3" height="1.3" fill="#d44c92"/>
<rect x="423.5" y="74.6" width="1.3" height="1.3" fill="#d8548b"/>
<rect x="343.0" y="141.9" width="1.3" height="1.3" fill="#dc5c84"/>
<defs><pattern id="grid" width="1.75" height="1.75" patternUnits="userSpaceOnUse"><rect width="1.75" height="1.75" fill="none"/><path d="M0,0 H1.75 M0,0 V1.75" stroke="#40207a" stroke-width="0.5" stroke-opacity="0.22"/></pattern></defs>
<rect x="334.00" y="31.80" width="114.00" height="112.10" fill="url(#grid)" stroke="none" stroke-width="1" />
<rect x="328.00" y="31.80" width="6.00" height="112.10" fill="#5a2ca0" stroke="none" stroke-width="1" />
<rect x="333.60" y="31.80" width="2.40" height="114.00" fill="#8a6ab2" stroke="none" stroke-width="1" fill-opacity="0.9"/>
<rect x="334.00" y="143.90" width="114.00" height="1.90" fill="#8a72aa" stroke="none" stroke-width="1" fill-opacity="0.6"/>
<defs><linearGradient id="pb" x1="0" y1="0" x2="1" y2="0"><stop offset="0" stop-color="#5e2ea0"/><stop offset="0.6" stop-color="#5a2e9e"/><stop offset="1" stop-color="#3c2e92"/></linearGradient></defs>
<rect x="336.00" y="145.80" width="90.00" height="5.20" fill="url(#pb)" stroke="none" stroke-width="1" opacity="0.35"/>
<rect x="440.80" y="31.80" width="7.20" height="112.10" fill="#8a72b0" stroke="none" stroke-width="1" fill-opacity="0.5"/>
<rect x="321.30" y="17.50" width="138.30" height="140.90" fill="none" stroke="#111" stroke-width="1" />
<rect x="437.50" y="30.00" width="8.50" height="13.50" fill="none" stroke="#f0b030" stroke-width="1.1" />
<rect x="441.00" y="82.50" width="8.00" height="17.00" fill="none" stroke="#f0b030" stroke-width="1.1" />
<line x1="319.30" y1="38.20" x2="321.30" y2="38.20" stroke="#222" stroke-width="0.8" />
<text x="318.2" y="41.5" font-size="9.3" fill="#222" stroke="#222" stroke-width="0.14" text-anchor="end" >70</text>
<line x1="319.30" y1="61.08" x2="321.30" y2="61.08" stroke="#222" stroke-width="0.8" />
<text x="318.2" y="64.4" font-size="9.3" fill="#222" stroke="#222" stroke-width="0.14" text-anchor="end" >60</text>
<line x1="319.30" y1="83.96" x2="321.30" y2="83.96" stroke="#222" stroke-width="0.8" />
<text x="318.2" y="87.3" font-size="9.3" fill="#222" stroke="#222" stroke-width="0.14" text-anchor="end" >50</text>
<line x1="319.30" y1="106.84" x2="321.30" y2="106.84" stroke="#222" stroke-width="0.8" />
<text x="318.2" y="110.1" font-size="9.3" fill="#222" stroke="#222" stroke-width="0.14" text-anchor="end" >40</text>
<line x1="319.30" y1="129.72" x2="321.30" y2="129.72" stroke="#222" stroke-width="0.8" />
<text x="318.2" y="133.0" font-size="9.3" fill="#222" stroke="#222" stroke-width="0.14" text-anchor="end" >30</text>
<line x1="319.30" y1="152.60" x2="321.30" y2="152.60" stroke="#222" stroke-width="0.8" />
<text x="318.2" y="155.9" font-size="9.3" fill="#222" stroke="#222" stroke-width="0.14" text-anchor="end" >20</text>
<line x1="332.40" y1="158.40" x2="332.40" y2="160.40" stroke="#222" stroke-width="0.8" />
<text x="332.4" y="169.0" font-size="9.3" fill="#222" stroke="#222" stroke-width="0.14" text-anchor="middle" >30</text>
<line x1="355.24" y1="158.40" x2="355.24" y2="160.40" stroke="#222" stroke-width="0.8" />
<text x="355.2" y="169.0" font-size="9.3" fill="#222" stroke="#222" stroke-width="0.14" text-anchor="middle" >40</text>
<line x1="378.08" y1="158.40" x2="378.08" y2="160.40" stroke="#222" stroke-width="0.8" />
<text x="378.1" y="169.0" font-size="9.3" fill="#222" stroke="#222" stroke-width="0.14" text-anchor="middle" >50</text>
<line x1="400.92" y1="158.40" x2="400.92" y2="160.40" stroke="#222" stroke-width="0.8" />
<text x="400.9" y="169.0" font-size="9.3" fill="#222" stroke="#222" stroke-width="0.14" text-anchor="middle" >60</text>
<line x1="423.76" y1="158.40" x2="423.76" y2="160.40" stroke="#222" stroke-width="0.8" />
<text x="423.8" y="169.0" font-size="9.3" fill="#222" stroke="#222" stroke-width="0.14" text-anchor="middle" >70</text>
<line x1="446.60" y1="158.40" x2="446.60" y2="160.40" stroke="#222" stroke-width="0.8" />
<text x="446.6" y="169.0" font-size="9.3" fill="#222" stroke="#222" stroke-width="0.14" text-anchor="middle" >80</text>
<text x="392.5" y="179.5" font-size="9.8" fill="#222" stroke="#222" stroke-width="0.14" text-anchor="middle" >X position [µm]</text>
<text x="303.0" y="88.6" font-size="9.8" fill="#222" stroke="#222" stroke-width="0.14" text-anchor="middle" transform="rotate(-90 303 88.6)" >Y position [µm]</text>
<defs><filter id="bl" x="-20%" y="-20%" width="140%" height="140%"><feGaussianBlur stdDeviation="1.3"/></filter><clipPath id="sp1c"><rect x="469.7" y="17.8" width="35" height="65.3"/></clipPath><clipPath id="sp2c"><rect x="469.7" y="93.8" width="35" height="64.3"/></clipPath></defs>
<rect x="469.70" y="17.80" width="35.00" height="65.30" fill="#3c2e92" stroke="none" stroke-width="1" />
<rect x="469.70" y="93.80" width="35.00" height="64.30" fill="#3c2e92" stroke="none" stroke-width="1" />
<g clip-path="url(#sp1c)"><g filter="url(#bl)">
<rect x="469.00" y="31.00" width="28.00" height="54.00" fill="#5236a2" stroke="none" stroke-width="1" />
<rect x="469.00" y="37.00" width="19.60" height="48.00" fill="#6a38a6" stroke="none" stroke-width="1" />
<rect x="471.0" y="39.0" width="6.5" height="5" fill="#a444aa" opacity="0.6"/>
<rect x="480.0" y="39.0" width="6.5" height="5" fill="#a444aa" opacity="0.6"/>
<rect x="471.0" y="46.2" width="6.5" height="5" fill="#a444aa" opacity="0.6"/>
<rect x="480.0" y="46.2" width="6.5" height="5" fill="#a444aa" opacity="0.6"/>
<rect x="471.0" y="53.4" width="6.5" height="5" fill="#a444aa" opacity="0.6"/>
<rect x="480.0" y="53.4" width="6.5" height="5" fill="#a444aa" opacity="0.6"/>
<rect x="471.0" y="60.6" width="6.5" height="5" fill="#a444aa" opacity="0.6"/>
<rect x="480.0" y="60.6" width="6.5" height="5" fill="#a444aa" opacity="0.6"/>
<rect x="471.0" y="67.8" width="6.5" height="5" fill="#a444aa" opacity="0.6"/>
<rect x="480.0" y="67.8" width="6.5" height="5" fill="#a444aa" opacity="0.6"/>
<rect x="471.0" y="75.0" width="6.5" height="5" fill="#a444aa" opacity="0.6"/>
<rect x="480.0" y="75.0" width="6.5" height="5" fill="#a444aa" opacity="0.6"/>
</g></g><g clip-path="url(#sp2c)"><g filter="url(#bl)">
<rect x="469.00" y="92.00" width="19.60" height="68.00" fill="#5e38a4" stroke="none" stroke-width="1" />
<rect x="488.60" y="92.00" width="8.40" height="68.00" fill="#4a36a0" stroke="none" stroke-width="1" />
<rect x="469.00" y="92.00" width="11.00" height="68.00" fill="#7a3aa8" stroke="none" stroke-width="1" />
<rect x="471" y="95.0" width="8" height="5" fill="#a844ac" opacity="0.6"/>
<rect x="471" y="102.2" width="8" height="5" fill="#a844ac" opacity="0.6"/>
<rect x="471" y="109.4" width="8" height="5" fill="#a844ac" opacity="0.6"/>
<rect x="471" y="116.6" width="8" height="5" fill="#a844ac" opacity="0.6"/>
<rect x="471" y="123.8" width="8" height="5" fill="#a844ac" opacity="0.6"/>
<rect x="471" y="131.0" width="8" height="5" fill="#a844ac" opacity="0.6"/>
<rect x="471" y="138.2" width="8" height="5" fill="#a844ac" opacity="0.6"/>
<rect x="471" y="145.4" width="8" height="5" fill="#a844ac" opacity="0.6"/>
<rect x="471" y="152.6" width="8" height="5" fill="#a844ac" opacity="0.6"/>
</g></g>
<rect x="469.70" y="17.80" width="35.00" height="65.30" fill="none" stroke="#2a2070" stroke-width="0.6" />
<rect x="469.70" y="93.80" width="35.00" height="64.30" fill="none" stroke="#2a2070" stroke-width="0.6" />
<defs><linearGradient id="cb" x1="0" y1="1" x2="0" y2="0"><stop offset="0" stop-color="#3a3a88"/><stop offset="0.19" stop-color="#5a3898"/><stop offset="0.38" stop-color="#8a3a9c"/><stop offset="0.57" stop-color="#c84a88"/><stop offset="0.76" stop-color="#ec8060"/><stop offset="1" stop-color="#f0e040"/></linearGradient></defs>
<rect x="512.30" y="17.50" width="7.30" height="141.50" fill="url(#cb)" stroke="none" stroke-width="1" />
<line x1="519.60" y1="158.00" x2="521.50" y2="158.00" stroke="#222" stroke-width="0.8" />
<text x="522.5" y="161.3" font-size="9.3" fill="#222" stroke="#222" stroke-width="0.14" text-anchor="start" >0</text>
<line x1="519.60" y1="131.50" x2="521.50" y2="131.50" stroke="#222" stroke-width="0.8" />
<text x="522.5" y="134.8" font-size="9.3" fill="#222" stroke="#222" stroke-width="0.14" text-anchor="start" >5</text>
<line x1="519.60" y1="105.00" x2="521.50" y2="105.00" stroke="#222" stroke-width="0.8" />
<text x="522.5" y="108.3" font-size="9.3" fill="#222" stroke="#222" stroke-width="0.14" text-anchor="start" >10</text>
<line x1="519.60" y1="78.50" x2="521.50" y2="78.50" stroke="#222" stroke-width="0.8" />
<text x="522.5" y="81.8" font-size="9.3" fill="#222" stroke="#222" stroke-width="0.14" text-anchor="start" >15</text>
<line x1="519.60" y1="52.00" x2="521.50" y2="52.00" stroke="#222" stroke-width="0.8" />
<text x="522.5" y="55.3" font-size="9.3" fill="#222" stroke="#222" stroke-width="0.14" text-anchor="start" >20</text>
<line x1="519.60" y1="25.50" x2="521.50" y2="25.50" stroke="#222" stroke-width="0.8" />
<text x="522.5" y="28.8" font-size="9.3" fill="#222" stroke="#222" stroke-width="0.14" text-anchor="start" >25</text>
<text x="543.3" y="88.8" font-size="9.9" fill="#222" stroke="#222" stroke-width="0.14" text-anchor="middle" transform="rotate(-90 543.3 88.8)" >Photoncount [kcts]</text>
<clipPath id="cp26"><rect x="26.5" y="200" width="90.8" height="143.2"/></clipPath>
<path d="M26.50,302.78 L27.23,302.56 L27.95,302.94 L28.68,302.91 L29.41,303.13 L30.13,303.97 L30.86,304.22 L31.58,303.45 L32.31,304.13 L33.04,304.13 L33.76,303.23 L34.49,303.71 L35.22,303.19 L35.94,303.44 L36.67,303.09 L37.40,303.45 L38.12,302.72 L38.85,302.25 L39.58,302.41 L40.30,301.95 L41.03,301.80 L41.75,302.24 L42.48,301.25 L43.21,301.20 L43.93,301.28 L44.66,301.33 L45.39,300.16 L46.11,300.32 L46.84,299.77 L47.57,299.30 L48.29,299.17 L49.02,298.61 L49.74,298.84 L50.47,298.03 L51.20,298.05 L51.92,297.14 L52.65,296.82 L53.38,297.29 L54.10,296.84 L54.83,296.33 L55.56,295.08 L56.28,295.21 L57.01,294.53 L57.74,294.40 L58.46,293.66 L59.19,293.26 L59.91,292.74 L60.64,291.87 L61.37,291.16 L62.09,290.05 L62.82,289.51 L63.55,288.41 L64.27,287.65 L65.00,286.64 L65.73,286.12 L66.45,285.80 L67.18,284.16 L67.90,283.19 L68.63,282.41 L69.36,281.24 L70.08,279.24 L70.81,277.95 L71.54,275.36 L72.26,273.61 L72.99,271.09 L73.72,268.13 L74.44,263.44 L75.17,257.49 L75.90,249.03 L76.62,238.42 L77.35,228.95 L78.07,220.01 L78.80,218.31 L79.53,225.52 L80.25,236.51 L80.98,246.29 L81.71,255.31 L82.43,264.66 L83.16,269.82 L83.89,273.99 L84.61,275.43 L85.34,275.85 L86.06,274.85 L86.79,271.48 L87.52,269.54 L88.24,268.63 L88.97,268.87 L89.70,271.48 L90.42,273.99 L91.15,276.71 L91.88,278.56 L92.60,281.17 L93.33,283.58 L94.06,285.05 L94.78,288.07 L95.51,289.76 L96.23,292.06 L96.96,294.49 L97.69,296.30 L98.41,298.15 L99.14,299.93 L99.87,301.85 L100.59,303.69 L101.32,305.33 L102.05,306.56 L102.77,308.45 L103.50,309.77 L104.22,310.57 L104.95,312.14 L105.68,313.08 L106.40,313.37 L107.13,314.98 L107.86,316.18 L108.58,317.93 L109.31,318.54 L110.04,319.52 L110.76,321.37 L111.49,321.99 L112.22,323.26 L112.94,325.17 L113.67,325.79 L114.39,327.15 L115.12,328.00 L115.85,329.33 L116.57,329.76 L117.30,330.37" stroke="#3a48a8" fill="none" stroke-width="0.9" clip-path="url(#cp26)" stroke-linejoin="round"/>
<path d="M26.50,337.18 L27.23,337.33 L27.95,336.89 L28.68,337.18 L29.41,337.25 L30.13,336.73 L30.86,335.96 L31.58,336.07 L32.31,336.06 L33.04,336.76 L33.76,336.28 L34.49,336.60 L35.22,336.70 L35.94,336.74 L36.67,336.55 L37.40,335.52 L38.12,335.61 L38.85,335.59 L39.58,335.56 L40.30,336.35 L41.03,336.15 L41.75,335.67 L42.48,335.49 L43.21,335.30 L43.93,335.24 L44.66,336.31 L45.39,335.58 L46.11,335.46 L46.84,335.67 L47.57,336.09 L48.29,335.65 L49.02,336.14 L49.74,334.93 L50.47,334.96 L51.20,335.33 L51.92,335.59 L52.65,334.67 L53.38,335.04 L54.10,334.52 L54.83,334.47 L55.56,334.83 L56.28,334.85 L57.01,334.48 L57.74,334.60 L58.46,334.85 L59.19,334.53 L59.91,333.72 L60.64,334.65 L61.37,334.51 L62.09,333.57 L62.82,333.91 L63.55,333.41 L64.27,333.35 L65.00,333.37 L65.73,332.32 L66.45,333.26 L67.18,332.80 L67.90,332.92 L68.63,332.16 L69.36,332.32 L70.08,331.81 L70.81,330.85 L71.54,330.96 L72.26,330.08 L72.99,328.67 L73.72,328.51 L74.44,327.24 L75.17,325.70 L75.90,323.55 L76.62,322.45 L77.35,321.64 L78.07,320.30 L78.80,320.04 L79.53,319.97 L80.25,321.45 L80.98,321.79 L81.71,323.17 L82.43,324.64 L83.16,325.85 L83.89,326.06 L84.61,327.68 L85.34,327.46 L86.06,326.54 L86.79,326.49 L87.52,326.52 L88.24,325.36 L88.97,325.67 L89.70,325.54 L90.42,326.57 L91.15,327.14 L91.88,327.28 L92.60,328.10 L93.33,328.23 L94.06,327.94 L94.78,329.32 L95.51,330.25 L96.23,330.62 L96.96,330.73 L97.69,330.16 L98.41,331.00 L99.14,331.35 L99.87,331.86 L100.59,330.88 L101.32,331.87 L102.05,332.37 L102.77,332.78 L103.50,332.97 L104.22,332.98 L104.95,332.44 L105.68,333.32 L106.40,333.62 L107.13,333.16 L107.86,333.64 L108.58,332.75 L109.31,334.07 L110.04,333.64 L110.76,333.43 L111.49,334.06 L112.22,333.39 L112.94,334.21 L113.67,334.66 L114.39,334.54 L115.12,335.16 L115.85,334.72 L116.57,335.04 L117.30,334.22" stroke="#3c8a44" fill="none" stroke-width="0.9" clip-path="url(#cp26)" stroke-linejoin="round"/>
<rect x="26.50" y="200.00" width="90.80" height="143.20" fill="none" stroke="#222" stroke-width="1" />
<line x1="26.50" y1="337.50" x2="28.50" y2="337.50" stroke="#222" stroke-width="0.8" />
<text x="25.1" y="340.8" font-size="9" fill="#222" stroke="#222" stroke-width="0.14" text-anchor="end" >0</text>
<line x1="26.50" y1="310.04" x2="28.50" y2="310.04" stroke="#222" stroke-width="0.8" />
<text x="25.1" y="313.3" font-size="9" fill="#222" stroke="#222" stroke-width="0.14" text-anchor="end" >2</text>
<line x1="26.50" y1="282.58" x2="28.50" y2="282.58" stroke="#222" stroke-width="0.8" />
<text x="25.1" y="285.9" font-size="9" fill="#222" stroke="#222" stroke-width="0.14" text-anchor="end" >4</text>
<line x1="26.50" y1="255.12" x2="28.50" y2="255.12" stroke="#222" stroke-width="0.8" />
<text x="25.1" y="258.4" font-size="9" fill="#222" stroke="#222" stroke-width="0.14" text-anchor="end" >6</text>
<line x1="26.50" y1="227.66" x2="28.50" y2="227.66" stroke="#222" stroke-width="0.8" />
<text x="25.1" y="231.0" font-size="9" fill="#222" stroke="#222" stroke-width="0.14" text-anchor="end" >8</text>
<line x1="26.50" y1="200.20" x2="28.50" y2="200.20" stroke="#222" stroke-width="0.8" />
<text x="25.1" y="203.5" font-size="9" fill="#222" stroke="#222" stroke-width="0.14" text-anchor="end" >10</text>
<line x1="26.50" y1="343.20" x2="26.50" y2="341.20" stroke="#222" stroke-width="0.8" />
<text x="26.2" y="352.2" font-size="8.2" fill="#222" stroke="#222" stroke-width="0.14" text-anchor="middle" >1450</text>
<line x1="56.77" y1="343.20" x2="56.77" y2="341.20" stroke="#222" stroke-width="0.8" />
<text x="56.5" y="352.2" font-size="8.2" fill="#222" stroke="#222" stroke-width="0.14" text-anchor="middle" >1500</text>
<line x1="87.03" y1="343.20" x2="87.03" y2="341.20" stroke="#222" stroke-width="0.8" />
<text x="86.7" y="352.2" font-size="8.2" fill="#222" stroke="#222" stroke-width="0.14" text-anchor="middle" >1550</text>
<line x1="117.30" y1="343.20" x2="117.30" y2="341.20" stroke="#222" stroke-width="0.8" />
<text x="117.0" y="352.2" font-size="8.2" fill="#222" stroke="#222" stroke-width="0.14" text-anchor="middle" >1600</text>
<text x="73.7" y="363.6" font-size="9.9" fill="#222" stroke="#222" stroke-width="0.14" text-anchor="middle" >Wavelength [nm]</text>
<text x="13.0" y="273.5" font-size="11" fill="#222" stroke="#222" stroke-width="0.14" text-anchor="middle" transform="rotate(-90 13.0 273.5)" >Photoncount [kcts]</text>
<text x="16.0" y="191.8" font-size="12.8" fill="#111" stroke="#111" stroke-width="0.14" text-anchor="start" >(d-i)</text>
<rect x="27.70" y="200.80" width="49.00" height="19.90" fill="#fff" stroke="#e6e6e6" stroke-width="0.6" />
<line x1="30.10" y1="205.40" x2="37.70" y2="205.40" stroke="#3a48a8" stroke-width="1" />
<text x="40.5" y="207.8" font-size="6.9" fill="#222" stroke="#222" stroke-width="0.06" text-anchor="start" textLength="34" lengthAdjust="spacingAndGlyphs">Nanod. (RT)</text>
<line x1="30.10" y1="214.60" x2="37.70" y2="214.60" stroke="#3c8a44" stroke-width="1" />
<text x="40.5" y="217.0" font-size="6.9" fill="#222" stroke="#222" stroke-width="0.06" text-anchor="start" textLength="34" lengthAdjust="spacingAndGlyphs">Unfabr. (RT)</text>
<clipPath id="cp143"><rect x="143.6" y="200.4" width="91.0" height="143.1"/></clipPath>
<path d="M143.60,327.75 L144.33,327.40 L145.06,327.09 L145.78,326.64 L146.51,326.55 L147.24,326.01 L147.97,326.62 L148.70,325.75 L149.42,324.82 L150.15,324.72 L150.88,324.00 L151.61,324.41 L152.34,323.55 L153.06,323.32 L153.79,322.52 L154.52,322.00 L155.25,322.13 L155.98,321.42 L156.70,320.88 L157.43,319.67 L158.16,319.32 L158.89,319.45 L159.62,318.21 L160.34,318.38 L161.07,317.30 L161.80,317.26 L162.53,316.82 L163.26,315.28 L163.98,315.41 L164.71,314.80 L165.44,313.35 L166.17,312.85 L166.90,312.87 L167.62,311.50 L168.35,311.32 L169.08,310.53 L169.81,310.30 L170.54,308.68 L171.26,308.14 L171.99,307.01 L172.72,306.26 L173.45,306.06 L174.18,305.13 L174.90,304.47 L175.63,303.60 L176.36,302.78 L177.09,301.58 L177.82,300.29 L178.54,299.96 L179.27,298.21 L180.00,297.36 L180.73,296.14 L181.46,294.32 L182.18,293.42 L182.91,292.29 L183.64,290.75 L184.37,289.09 L185.10,288.31 L185.82,285.73 L186.55,285.11 L187.28,282.53 L188.01,279.30 L188.74,275.90 L189.46,270.39 L190.19,265.86 L190.92,260.28 L191.65,254.92 L192.38,246.06 L193.10,236.21 L193.83,226.18 L194.56,219.76 L195.29,208.95 L196.02,206.23 L196.74,212.18 L197.47,223.35 L198.20,235.42 L198.93,245.09 L199.66,254.98 L200.38,266.11 L201.11,274.20 L201.84,279.51 L202.57,280.20 L203.30,279.74 L204.02,276.04 L204.75,273.72 L205.48,270.43 L206.21,268.14 L206.94,267.66 L207.66,270.44 L208.39,273.50 L209.12,278.34 L209.85,282.59 L210.58,284.81 L211.30,287.38 L212.03,290.04 L212.76,292.58 L213.49,294.60 L214.22,296.81 L214.94,300.15 L215.67,302.50 L216.40,303.06 L217.13,304.96 L217.86,306.44 L218.58,307.89 L219.31,308.72 L220.04,309.65 L220.77,311.23 L221.50,312.43 L222.22,314.01 L222.95,314.27 L223.68,316.47 L224.41,317.09 L225.14,317.78 L225.86,319.68 L226.59,320.17 L227.32,321.11 L228.05,322.65 L228.78,323.65 L229.50,325.56 L230.23,326.32 L230.96,327.69 L231.69,327.93 L232.42,329.45 L233.14,330.09 L233.87,330.20 L234.60,330.93" stroke="#3a48a8" fill="none" stroke-width="0.9" clip-path="url(#cp143)" stroke-linejoin="round"/>
<path d="M143.60,336.41 L144.33,336.31 L145.06,336.71 L145.78,336.95 L146.51,337.24 L147.24,336.26 L147.97,336.44 L148.70,335.97 L149.42,336.41 L150.15,335.78 L150.88,336.38 L151.61,335.56 L152.34,335.56 L153.06,335.89 L153.79,335.62 L154.52,335.31 L155.25,335.88 L155.98,335.27 L156.70,334.81 L157.43,335.43 L158.16,334.57 L158.89,334.60 L159.62,334.26 L160.34,334.82 L161.07,335.02 L161.80,333.91 L162.53,333.76 L163.26,334.11 L163.98,334.45 L164.71,334.15 L165.44,333.40 L166.17,333.71 L166.90,332.65 L167.62,332.98 L168.35,333.35 L169.08,332.55 L169.81,332.72 L170.54,331.64 L171.26,331.37 L171.99,331.59 L172.72,331.07 L173.45,330.66 L174.18,330.15 L174.90,329.55 L175.63,330.48 L176.36,329.65 L177.09,328.93 L177.82,328.95 L178.54,328.17 L179.27,328.46 L180.00,326.97 L180.73,327.07 L181.46,327.23 L182.18,326.09 L182.91,326.18 L183.64,325.95 L184.37,325.17 L185.10,325.28 L185.82,324.50 L186.55,322.61 L187.28,321.83 L188.01,321.76 L188.74,319.70 L189.46,319.76 L190.19,318.37 L190.92,316.66 L191.65,316.11 L192.38,315.06 L193.10,313.40 L193.83,311.98 L194.56,311.32 L195.29,309.74 L196.02,311.75 L196.74,313.25 L197.47,315.39 L198.20,318.30 L198.93,319.23 L199.66,321.85 L200.38,322.31 L201.11,323.53 L201.84,324.36 L202.57,323.76 L203.30,323.42 L204.02,321.70 L204.75,320.67 L205.48,320.46 L206.21,320.63 L206.94,320.71 L207.66,321.72 L208.39,322.93 L209.12,322.89 L209.85,324.47 L210.58,325.09 L211.30,325.54 L212.03,327.06 L212.76,327.63 L213.49,327.87 L214.22,327.61 L214.94,328.31 L215.67,328.85 L216.40,328.97 L217.13,328.70 L217.86,330.01 L218.58,330.18 L219.31,329.91 L220.04,330.64 L220.77,331.47 L221.50,331.53 L222.22,331.86 L222.95,332.63 L223.68,332.61 L224.41,333.01 L225.14,332.63 L225.86,333.59 L226.59,333.42 L227.32,333.26 L228.05,333.59 L228.78,334.59 L229.50,334.51 L230.23,335.12 L230.96,335.21 L231.69,335.28 L232.42,335.03 L233.14,334.99 L233.87,336.02 L234.60,336.53" stroke="#3c8a44" fill="none" stroke-width="0.9" clip-path="url(#cp143)" stroke-linejoin="round"/>
<rect x="143.60" y="200.40" width="91.00" height="143.10" fill="none" stroke="#222" stroke-width="1" />
<line x1="143.60" y1="337.50" x2="145.60" y2="337.50" stroke="#222" stroke-width="0.8" />
<text x="142.2" y="340.8" font-size="9" fill="#222" stroke="#222" stroke-width="0.14" text-anchor="end" >0</text>
<line x1="143.60" y1="310.04" x2="145.60" y2="310.04" stroke="#222" stroke-width="0.8" />
<text x="142.2" y="313.3" font-size="9" fill="#222" stroke="#222" stroke-width="0.14" text-anchor="end" >2</text>
<line x1="143.60" y1="282.58" x2="145.60" y2="282.58" stroke="#222" stroke-width="0.8" />
<text x="142.2" y="285.9" font-size="9" fill="#222" stroke="#222" stroke-width="0.14" text-anchor="end" >4</text>
<line x1="143.60" y1="255.12" x2="145.60" y2="255.12" stroke="#222" stroke-width="0.8" />
<text x="142.2" y="258.4" font-size="9" fill="#222" stroke="#222" stroke-width="0.14" text-anchor="end" >6</text>
<line x1="143.60" y1="227.66" x2="145.60" y2="227.66" stroke="#222" stroke-width="0.8" />
<text x="142.2" y="231.0" font-size="9" fill="#222" stroke="#222" stroke-width="0.14" text-anchor="end" >8</text>
<line x1="143.60" y1="200.20" x2="145.60" y2="200.20" stroke="#222" stroke-width="0.8" />
<text x="142.2" y="203.5" font-size="9" fill="#222" stroke="#222" stroke-width="0.14" text-anchor="end" >10</text>
<line x1="143.60" y1="343.50" x2="143.60" y2="341.50" stroke="#222" stroke-width="0.8" />
<text x="143.3" y="352.2" font-size="8.2" fill="#222" stroke="#222" stroke-width="0.14" text-anchor="middle" >1450</text>
<line x1="173.93" y1="343.50" x2="173.93" y2="341.50" stroke="#222" stroke-width="0.8" />
<text x="173.6" y="352.2" font-size="8.2" fill="#222" stroke="#222" stroke-width="0.14" text-anchor="middle" >1500</text>
<line x1="204.27" y1="343.50" x2="204.27" y2="341.50" stroke="#222" stroke-width="0.8" />
<text x="204.0" y="352.2" font-size="8.2" fill="#222" stroke="#222" stroke-width="0.14" text-anchor="middle" >1550</text>
<line x1="234.60" y1="343.50" x2="234.60" y2="341.50" stroke="#222" stroke-width="0.8" />
<text x="234.3" y="352.2" font-size="8.2" fill="#222" stroke="#222" stroke-width="0.14" text-anchor="middle" >1600</text>
<text x="190.9" y="363.6" font-size="9.9" fill="#222" stroke="#222" stroke-width="0.14" text-anchor="middle" >Wavelength [nm]</text>
<text x="130.1" y="273.5" font-size="11" fill="#222" stroke="#222" stroke-width="0.14" text-anchor="middle" transform="rotate(-90 130.1 273.5)" >Photoncount [kcts]</text>
<text x="131.5" y="191.8" font-size="12.8" fill="#111" stroke="#111" stroke-width="0.14" text-anchor="start" >(d-ii)</text>
<rect x="144.80" y="204.60" width="49.00" height="18.90" fill="#fff" stroke="#e6e6e6" stroke-width="0.6" />
<line x1="147.20" y1="209.20" x2="154.80" y2="209.20" stroke="#3a48a8" stroke-width="1" />
<text x="157.6" y="211.6" font-size="6.9" fill="#222" stroke="#222" stroke-width="0.06" text-anchor="start" textLength="34" lengthAdjust="spacingAndGlyphs">Nanod. (RT)</text>
<line x1="147.20" y1="217.90" x2="154.80" y2="217.90" stroke="#3c8a44" stroke-width="1" />
<text x="157.6" y="220.3" font-size="6.9" fill="#222" stroke="#222" stroke-width="0.06" text-anchor="start" textLength="34" lengthAdjust="spacingAndGlyphs">Unfabr. (RT)</text>
<clipPath id="cp262"><rect x="262" y="200" width="90" height="143.5"/></clipPath>
<path d="M262.00,332.75 L262.72,332.77 L263.44,332.02 L264.16,332.45 L264.88,331.71 L265.60,331.65 L266.32,331.72 L267.04,330.95 L267.76,331.17 L268.48,330.43 L269.20,330.51 L269.92,330.16 L270.64,329.45 L271.36,328.66 L272.08,329.07 L272.80,328.58 L273.52,327.76 L274.24,327.02 L274.96,327.04 L275.68,326.83 L276.40,325.79 L277.12,326.41 L277.84,325.10 L278.56,325.31 L279.28,325.05 L280.00,324.64 L280.72,323.97 L281.44,322.95 L282.16,323.18 L282.88,322.27 L283.60,321.72 L284.32,321.53 L285.04,320.84 L285.76,320.86 L286.48,320.35 L287.20,319.66 L287.92,318.61 L288.64,318.34 L289.36,317.91 L290.08,317.04 L290.80,316.61 L291.52,316.19 L292.24,315.04 L292.96,314.53 L293.68,314.40 L294.40,313.40 L295.12,312.79 L295.84,311.60 L296.56,310.68 L297.28,310.05 L298.00,308.16 L298.72,307.95 L299.44,306.44 L300.16,304.85 L300.88,304.26 L301.60,302.61 L302.32,301.78 L303.04,299.72 L303.76,298.21 L304.48,296.96 L305.20,295.13 L305.92,293.77 L306.64,289.01 L307.36,284.47 L308.08,279.57 L308.80,274.57 L309.52,268.86 L310.24,259.29 L310.96,248.17 L311.68,237.26 L312.40,224.95 L313.12,215.18 L313.84,218.15 L314.56,226.52 L315.28,237.70 L316.00,247.54 L316.72,256.36 L317.44,265.50 L318.16,274.48 L318.88,279.38 L319.60,280.68 L320.32,278.60 L321.04,274.94 L321.76,270.33 L322.48,268.54 L323.20,268.57 L323.92,270.55 L324.64,273.39 L325.36,278.33 L326.08,282.17 L326.80,285.96 L327.52,287.57 L328.24,289.71 L328.96,291.80 L329.68,294.61 L330.40,296.63 L331.12,298.84 L331.84,300.34 L332.56,302.25 L333.28,305.00 L334.00,306.69 L334.72,308.06 L335.44,309.35 L336.16,310.27 L336.88,311.27 L337.60,312.67 L338.32,313.97 L339.04,314.51 L339.76,315.58 L340.48,316.40 L341.20,317.08 L341.92,318.50 L342.64,319.67 L343.36,320.61 L344.08,321.64 L344.80,323.46 L345.52,323.68 L346.24,324.97 L346.96,326.00 L347.68,327.19 L348.40,328.70 L349.12,329.68 L349.84,330.92 L350.56,331.15 L351.28,332.47 L352.00,333.03" stroke="#5a62b8" fill="none" stroke-width="0.9" clip-path="url(#cp262)" stroke-linejoin="round"/>
<path d="M262.00,339.75 L262.72,338.08 L263.44,339.85 L264.16,338.52 L264.88,339.81 L265.60,339.38 L266.32,337.65 L267.04,339.31 L267.76,338.28 L268.48,338.59 L269.20,338.52 L269.92,338.33 L270.64,338.90 L271.36,337.41 L272.08,338.93 L272.80,338.51 L273.52,338.88 L274.24,338.23 L274.96,337.81 L275.68,336.61 L276.40,337.65 L277.12,338.12 L277.84,337.68 L278.56,335.95 L279.28,337.87 L280.00,336.53 L280.72,336.94 L281.44,336.19 L282.16,336.78 L282.88,335.88 L283.60,336.18 L284.32,335.72 L285.04,335.04 L285.76,335.61 L286.48,336.45 L287.20,336.49 L287.92,334.43 L288.64,335.30 L289.36,335.82 L290.08,334.04 L290.80,334.72 L291.52,334.27 L292.24,333.81 L292.96,334.99 L293.68,334.71 L294.40,333.44 L295.12,334.95 L295.84,333.35 L296.56,334.42 L297.28,332.72 L298.00,332.29 L298.72,331.34 L299.44,331.16 L300.16,331.49 L300.88,331.73 L301.60,331.40 L302.32,330.13 L303.04,329.72 L303.76,330.22 L304.48,327.91 L305.20,328.29 L305.92,327.26 L306.64,327.16 L307.36,325.85 L308.08,325.06 L308.80,323.02 L309.52,321.92 L310.24,320.38 L310.96,318.90 L311.68,315.70 L312.40,313.68 L313.12,314.23 L313.84,314.28 L314.56,316.81 L315.28,318.14 L316.00,319.13 L316.72,322.16 L317.44,322.22 L318.16,324.29 L318.88,325.49 L319.60,323.71 L320.32,323.91 L321.04,323.29 L321.76,321.76 L322.48,321.64 L323.20,321.31 L323.92,321.67 L324.64,322.42 L325.36,322.90 L326.08,324.52 L326.80,325.92 L327.52,326.87 L328.24,327.53 L328.96,327.05 L329.68,327.84 L330.40,327.29 L331.12,328.38 L331.84,328.37 L332.56,328.20 L333.28,330.65 L334.00,331.19 L334.72,331.36 L335.44,331.27 L336.16,331.31 L336.88,331.39 L337.60,332.57 L338.32,331.53 L339.04,333.95 L339.76,332.45 L340.48,334.16 L341.20,333.04 L341.92,335.23 L342.64,333.53 L343.36,334.33 L344.08,334.17 L344.80,335.40 L345.52,336.62 L346.24,335.20 L346.96,336.67 L347.68,337.75 L348.40,336.89 L349.12,337.38 L349.84,337.68 L350.56,338.59 L351.28,338.85 L352.00,338.01" stroke="#f8e8c0" fill="none" stroke-width="2.0" clip-path="url(#cp262)" stroke-linejoin="round"/>
<path d="M262.00,339.59 L262.72,338.87 L263.44,339.26 L264.16,339.38 L264.88,338.91 L265.60,338.83 L266.32,338.78 L267.04,338.73 L267.76,338.91 L268.48,338.84 L269.20,338.15 L269.92,338.56 L270.64,337.99 L271.36,337.74 L272.08,337.53 L272.80,337.32 L273.52,338.19 L274.24,338.08 L274.96,337.29 L275.68,337.39 L276.40,337.79 L277.12,337.02 L277.84,336.64 L278.56,336.57 L279.28,337.30 L280.00,337.07 L280.72,337.35 L281.44,335.89 L282.16,336.81 L282.88,335.99 L283.60,336.12 L284.32,335.92 L285.04,335.88 L285.76,335.34 L286.48,335.52 L287.20,335.80 L287.92,335.93 L288.64,335.31 L289.36,334.57 L290.08,335.51 L290.80,334.64 L291.52,334.59 L292.24,335.11 L292.96,334.92 L293.68,334.14 L294.40,334.36 L295.12,334.28 L295.84,333.96 L296.56,334.08 L297.28,332.86 L298.00,332.61 L298.72,332.28 L299.44,332.13 L300.16,331.07 L300.88,330.62 L301.60,330.57 L302.32,330.76 L303.04,330.22 L303.76,329.75 L304.48,329.38 L305.20,328.10 L305.92,327.65 L306.64,326.95 L307.36,324.73 L308.08,323.81 L308.80,322.28 L309.52,320.97 L310.24,319.96 L310.96,318.59 L311.68,315.77 L312.40,315.04 L313.12,313.26 L313.84,313.53 L314.56,316.10 L315.28,318.06 L316.00,320.61 L316.72,321.62 L317.44,323.12 L318.16,323.99 L318.88,324.14 L319.60,324.78 L320.32,323.79 L321.04,322.09 L321.76,321.90 L322.48,321.57 L323.20,320.44 L323.92,321.49 L324.64,322.90 L325.36,323.00 L326.08,324.54 L326.80,325.50 L327.52,325.64 L328.24,326.45 L328.96,327.20 L329.68,327.51 L330.40,327.88 L331.12,328.45 L331.84,329.37 L332.56,328.89 L333.28,329.32 L334.00,330.23 L334.72,330.70 L335.44,330.86 L336.16,331.51 L336.88,332.05 L337.60,331.73 L338.32,331.99 L339.04,333.34 L339.76,333.64 L340.48,333.13 L341.20,333.23 L341.92,333.89 L342.64,334.83 L343.36,335.51 L344.08,334.79 L344.80,334.99 L345.52,335.56 L346.24,335.91 L346.96,335.89 L347.68,336.81 L348.40,336.53 L349.12,337.70 L349.84,338.20 L350.56,337.37 L351.28,337.75 L352.00,337.78" stroke="#e8c460" fill="none" stroke-width="0.8" clip-path="url(#cp262)" stroke-linejoin="round"/>
<path d="M262.00,336.72 L262.72,336.75 L263.44,336.93 L264.16,336.06 L264.88,336.92 L265.60,336.29 L266.32,335.77 L267.04,336.58 L267.76,335.96 L268.48,335.79 L269.20,336.32 L269.92,335.84 L270.64,335.38 L271.36,335.54 L272.08,335.13 L272.80,335.63 L273.52,335.42 L274.24,335.43 L274.96,334.87 L275.68,334.28 L276.40,334.52 L277.12,334.18 L277.84,334.47 L278.56,333.94 L279.28,334.51 L280.00,334.16 L280.72,333.59 L281.44,333.39 L282.16,333.58 L282.88,333.79 L283.60,333.45 L284.32,333.36 L285.04,333.13 L285.76,332.40 L286.48,332.92 L287.20,332.01 L287.92,331.86 L288.64,332.61 L289.36,332.10 L290.08,331.82 L290.80,332.18 L291.52,331.59 L292.24,330.90 L292.96,331.62 L293.68,330.94 L294.40,331.30 L295.12,330.65 L295.84,330.03 L296.56,330.29 L297.28,329.98 L298.00,329.37 L298.72,328.33 L299.44,328.36 L300.16,327.72 L300.88,326.70 L301.60,325.66 L302.32,325.62 L303.04,325.04 L303.76,324.17 L304.48,324.15 L305.20,322.98 L305.92,322.66 L306.64,320.74 L307.36,318.84 L308.08,318.26 L308.80,316.12 L309.52,314.50 L310.24,313.49 L310.96,311.24 L311.68,307.31 L312.40,304.51 L313.12,303.94 L313.84,304.08 L314.56,306.76 L315.28,311.04 L316.00,312.96 L316.72,315.33 L317.44,316.62 L318.16,317.58 L318.88,318.40 L319.60,318.06 L320.32,317.91 L321.04,316.38 L321.76,314.65 L322.48,314.31 L323.20,314.65 L323.92,315.41 L324.64,315.84 L325.36,317.59 L326.08,319.62 L326.80,320.18 L327.52,321.99 L328.24,322.79 L328.96,323.57 L329.68,323.83 L330.40,324.45 L331.12,325.18 L331.84,325.05 L332.56,326.08 L333.28,325.78 L334.00,327.07 L334.72,326.70 L335.44,327.14 L336.16,327.98 L336.88,328.26 L337.60,329.13 L338.32,328.94 L339.04,329.64 L339.76,330.23 L340.48,329.82 L341.20,330.84 L341.92,331.27 L342.64,331.15 L343.36,332.09 L344.08,332.17 L344.80,333.12 L345.52,332.77 L346.24,333.80 L346.96,334.39 L347.68,333.73 L348.40,334.94 L349.12,334.40 L349.84,334.64 L350.56,335.32 L351.28,336.20 L352.00,336.33" stroke="#a85030" fill="none" stroke-width="1.0" clip-path="url(#cp262)" stroke-linejoin="round"/>
<path d="M262.00,337.42 L262.72,337.51 L263.44,337.27 L264.16,337.60 L264.88,336.85 L265.60,336.75 L266.32,336.85 L267.04,337.29 L267.76,336.80 L268.48,336.91 L269.20,336.88 L269.92,336.00 L270.64,335.84 L271.36,336.77 L272.08,335.75 L272.80,335.91 L273.52,336.02 L274.24,336.00 L274.96,335.44 L275.68,335.54 L276.40,335.15 L277.12,335.04 L277.84,335.48 L278.56,334.64 L279.28,334.26 L280.00,334.12 L280.72,334.37 L281.44,334.84 L282.16,334.73 L282.88,334.44 L283.60,333.40 L284.32,333.95 L285.04,333.72 L285.76,332.98 L286.48,333.47 L287.20,333.05 L287.92,333.02 L288.64,333.27 L289.36,332.55 L290.08,332.11 L290.80,332.71 L291.52,332.48 L292.24,332.12 L292.96,332.38 L293.68,331.72 L294.40,331.22 L295.12,331.25 L295.84,331.12 L296.56,330.28 L297.28,330.56 L298.00,329.61 L298.72,329.32 L299.44,328.56 L300.16,328.58 L300.88,327.33 L301.60,327.54 L302.32,326.92 L303.04,325.66 L303.76,324.94 L304.48,324.93 L305.20,324.36 L305.92,323.83 L306.64,322.44 L307.36,320.62 L308.08,319.61 L308.80,318.17 L309.52,316.32 L310.24,315.21 L310.96,312.70 L311.68,309.62 L312.40,307.09 L313.12,306.01 L313.84,306.88 L314.56,309.50 L315.28,313.20 L316.00,314.58 L316.72,316.62 L317.44,318.17 L318.16,319.65 L318.88,319.93 L319.60,319.67 L320.32,319.07 L321.04,317.41 L321.76,316.57 L322.48,316.47 L323.20,316.34 L323.92,316.59 L324.64,318.02 L325.36,319.15 L326.08,321.06 L326.80,321.91 L327.52,323.14 L328.24,324.05 L328.96,324.52 L329.68,324.81 L330.40,325.30 L331.12,325.77 L331.84,326.54 L332.56,326.64 L333.28,326.46 L334.00,327.48 L334.72,328.31 L335.44,328.78 L336.16,328.66 L336.88,329.67 L337.60,329.97 L338.32,330.28 L339.04,330.26 L339.76,330.03 L340.48,330.97 L341.20,331.39 L341.92,331.81 L342.64,332.14 L343.36,332.60 L344.08,332.69 L344.80,332.90 L345.52,333.51 L346.24,334.19 L346.96,334.31 L347.68,334.37 L348.40,335.53 L349.12,335.74 L349.84,335.60 L350.56,335.78 L351.28,336.06 L352.00,336.30" stroke="#3a4a30" fill="none" stroke-width="1.0" clip-path="url(#cp262)" stroke-linejoin="round"/>
<rect x="262.00" y="200.00" width="90.00" height="143.50" fill="none" stroke="#222" stroke-width="1" />
<line x1="262.00" y1="337.50" x2="264.00" y2="337.50" stroke="#222" stroke-width="0.8" />
<text x="260.6" y="340.8" font-size="9" fill="#222" stroke="#222" stroke-width="0.14" text-anchor="end" >0</text>
<line x1="262.00" y1="310.04" x2="264.00" y2="310.04" stroke="#222" stroke-width="0.8" />
<text x="260.6" y="313.3" font-size="9" fill="#222" stroke="#222" stroke-width="0.14" text-anchor="end" >2</text>
<line x1="262.00" y1="282.58" x2="264.00" y2="282.58" stroke="#222" stroke-width="0.8" />
<text x="260.6" y="285.9" font-size="9" fill="#222" stroke="#222" stroke-width="0.14" text-anchor="end" >4</text>
<line x1="262.00" y1="255.12" x2="264.00" y2="255.12" stroke="#222" stroke-width="0.8" />
<text x="260.6" y="258.4" font-size="9" fill="#222" stroke="#222" stroke-width="0.14" text-anchor="end" >6</text>
<line x1="262.00" y1="227.66" x2="264.00" y2="227.66" stroke="#222" stroke-width="0.8" />
<text x="260.6" y="231.0" font-size="9" fill="#222" stroke="#222" stroke-width="0.14" text-anchor="end" >8</text>
<line x1="262.00" y1="200.20" x2="264.00" y2="200.20" stroke="#222" stroke-width="0.8" />
<text x="260.6" y="203.5" font-size="9" fill="#222" stroke="#222" stroke-width="0.14" text-anchor="end" >10</text>
<line x1="262.00" y1="343.50" x2="262.00" y2="341.50" stroke="#222" stroke-width="0.8" />
<text x="261.7" y="352.2" font-size="8.2" fill="#222" stroke="#222" stroke-width="0.14" text-anchor="middle" >1450</text>
<line x1="292.00" y1="343.50" x2="292.00" y2="341.50" stroke="#222" stroke-width="0.8" />
<text x="291.7" y="352.2" font-size="8.2" fill="#222" stroke="#222" stroke-width="0.14" text-anchor="middle" >1500</text>
<line x1="322.00" y1="343.50" x2="322.00" y2="341.50" stroke="#222" stroke-width="0.8" />
<text x="321.7" y="352.2" font-size="8.2" fill="#222" stroke="#222" stroke-width="0.14" text-anchor="middle" >1550</text>
<line x1="352.00" y1="343.50" x2="352.00" y2="341.50" stroke="#222" stroke-width="0.8" />
<text x="351.7" y="352.2" font-size="8.2" fill="#222" stroke="#222" stroke-width="0.14" text-anchor="middle" >1600</text>
<text x="308.8" y="363.6" font-size="9.9" fill="#222" stroke="#222" stroke-width="0.14" text-anchor="middle" >Wavelength [nm]</text>
<text x="248.5" y="273.5" font-size="11" fill="#222" stroke="#222" stroke-width="0.14" text-anchor="middle" transform="rotate(-90 248.5 273.5)" >Photoncount [kcts]</text>
<text x="250.0" y="191.8" font-size="12.8" fill="#111" stroke="#111" stroke-width="0.14" text-anchor="start" >(e)</text>
<rect x="263.20" y="201.10" width="49.00" height="37.50" fill="#fff" stroke="#e6e6e6" stroke-width="0.6" />
<line x1="265.60" y1="205.70" x2="273.20" y2="205.70" stroke="#3a48a8" stroke-width="1" />
<text x="276.0" y="208.1" font-size="6.9" fill="#222" stroke="#222" stroke-width="0.06" text-anchor="start" textLength="34" lengthAdjust="spacingAndGlyphs">Nanod. (RT)</text>
<line x1="265.60" y1="214.70" x2="273.20" y2="214.70" stroke="#b05030" stroke-width="1" />
<text x="276.0" y="217.1" font-size="6.9" fill="#222" stroke="#222" stroke-width="0.06" text-anchor="start" textLength="34" lengthAdjust="spacingAndGlyphs">Nanod. (5K)</text>
<line x1="265.60" y1="223.70" x2="273.20" y2="223.70" stroke="#3a6a3a" stroke-width="1" />
<text x="276.0" y="226.1" font-size="6.9" fill="#222" stroke="#222" stroke-width="0.06" text-anchor="start" textLength="34" lengthAdjust="spacingAndGlyphs">Unfabr. (RT)</text>
<line x1="265.60" y1="232.70" x2="273.20" y2="232.70" stroke="#e8c050" stroke-width="1" />
<text x="276.0" y="235.1" font-size="6.9" fill="#222" stroke="#222" stroke-width="0.06" text-anchor="start" textLength="34" lengthAdjust="spacingAndGlyphs">Unfabr. (5K)</text>
<rect x="378.50" y="199.20" width="164.80" height="146.10" fill="none" stroke="#222" stroke-width="1" />
<path d="M387.04,330.73 L409.50,331.49 L434.46,330.73 L459.42,330.73 L484.38,322.39 L509.34,321.63 L534.30,320.12" stroke="#5aa060" fill="none" stroke-width="0.85" />
<line x1="387.04" y1="323.15" x2="387.04" y2="338.31" stroke="#3a7a40" stroke-width="0.85" />
<line x1="385.84" y1="323.15" x2="388.24" y2="323.15" stroke="#3a7a40" stroke-width="0.8" />
<line x1="385.84" y1="338.31" x2="388.24" y2="338.31" stroke="#3a7a40" stroke-width="0.8" />
<circle cx="387.04" cy="330.73" r="1.9" fill="#1e5a24"/>
<line x1="409.50" y1="323.91" x2="409.50" y2="339.07" stroke="#3a7a40" stroke-width="0.85" />
<line x1="408.30" y1="323.91" x2="410.70" y2="323.91" stroke="#3a7a40" stroke-width="0.8" />
<line x1="408.30" y1="339.07" x2="410.70" y2="339.07" stroke="#3a7a40" stroke-width="0.8" />
<circle cx="409.50" cy="331.49" r="1.9" fill="#1e5a24"/>
<line x1="434.46" y1="323.91" x2="434.46" y2="337.55" stroke="#3a7a40" stroke-width="0.85" />
<line x1="433.26" y1="323.91" x2="435.66" y2="323.91" stroke="#3a7a40" stroke-width="0.8" />
<line x1="433.26" y1="337.55" x2="435.66" y2="337.55" stroke="#3a7a40" stroke-width="0.8" />
<circle cx="434.46" cy="330.73" r="1.9" fill="#1e5a24"/>
<line x1="459.42" y1="323.91" x2="459.42" y2="337.55" stroke="#3a7a40" stroke-width="0.85" />
<line x1="458.22" y1="323.91" x2="460.62" y2="323.91" stroke="#3a7a40" stroke-width="0.8" />
<line x1="458.22" y1="337.55" x2="460.62" y2="337.55" stroke="#3a7a40" stroke-width="0.8" />
<circle cx="459.42" cy="330.73" r="1.9" fill="#1e5a24"/>
<line x1="484.38" y1="314.05" x2="484.38" y2="330.73" stroke="#3a7a40" stroke-width="0.85" />
<line x1="483.18" y1="314.05" x2="485.58" y2="314.05" stroke="#3a7a40" stroke-width="0.8" />
<line x1="483.18" y1="330.73" x2="485.58" y2="330.73" stroke="#3a7a40" stroke-width="0.8" />
<circle cx="484.38" cy="322.39" r="1.9" fill="#1e5a24"/>
<line x1="509.34" y1="313.29" x2="509.34" y2="329.97" stroke="#3a7a40" stroke-width="0.85" />
<line x1="508.14" y1="313.29" x2="510.54" y2="313.29" stroke="#3a7a40" stroke-width="0.8" />
<line x1="508.14" y1="329.97" x2="510.54" y2="329.97" stroke="#3a7a40" stroke-width="0.8" />
<circle cx="509.34" cy="321.63" r="1.9" fill="#1e5a24"/>
<line x1="534.30" y1="311.78" x2="534.30" y2="328.45" stroke="#3a7a40" stroke-width="0.85" />
<line x1="533.10" y1="311.78" x2="535.50" y2="311.78" stroke="#3a7a40" stroke-width="0.8" />
<line x1="533.10" y1="328.45" x2="535.50" y2="328.45" stroke="#3a7a40" stroke-width="0.8" />
<circle cx="534.30" cy="320.12" r="1.9" fill="#1e5a24"/>
<path d="M387.04,318.60 L409.50,257.20 L434.46,255.69 L459.42,246.59 L484.38,235.98 L509.34,235.98 L534.30,221.58" stroke="#5563bd" fill="none" stroke-width="0.85" />
<line x1="387.04" y1="311.02" x2="387.04" y2="326.18" stroke="#3f4ca8" stroke-width="0.85" />
<line x1="385.84" y1="311.02" x2="388.24" y2="311.02" stroke="#3f4ca8" stroke-width="0.8" />
<line x1="385.84" y1="326.18" x2="388.24" y2="326.18" stroke="#3f4ca8" stroke-width="0.8" />
<circle cx="387.04" cy="318.60" r="1.9" fill="#263290"/>
<line x1="409.50" y1="243.56" x2="409.50" y2="270.85" stroke="#3f4ca8" stroke-width="0.85" />
<line x1="408.30" y1="243.56" x2="410.70" y2="243.56" stroke="#3f4ca8" stroke-width="0.8" />
<line x1="408.30" y1="270.85" x2="410.70" y2="270.85" stroke="#3f4ca8" stroke-width="0.8" />
<circle cx="409.50" cy="257.20" r="1.9" fill="#263290"/>
<line x1="434.46" y1="242.04" x2="434.46" y2="269.33" stroke="#3f4ca8" stroke-width="0.85" />
<line x1="433.26" y1="242.04" x2="435.66" y2="242.04" stroke="#3f4ca8" stroke-width="0.8" />
<line x1="433.26" y1="269.33" x2="435.66" y2="269.33" stroke="#3f4ca8" stroke-width="0.8" />
<circle cx="434.46" cy="255.69" r="1.9" fill="#263290"/>
<line x1="459.42" y1="232.19" x2="459.42" y2="260.99" stroke="#3f4ca8" stroke-width="0.85" />
<line x1="458.22" y1="232.19" x2="460.62" y2="232.19" stroke="#3f4ca8" stroke-width="0.8" />
<line x1="458.22" y1="260.99" x2="460.62" y2="260.99" stroke="#3f4ca8" stroke-width="0.8" />
<circle cx="459.42" cy="246.59" r="1.9" fill="#263290"/>
<line x1="484.38" y1="220.82" x2="484.38" y2="251.14" stroke="#3f4ca8" stroke-width="0.85" />
<line x1="483.18" y1="220.82" x2="485.58" y2="220.82" stroke="#3f4ca8" stroke-width="0.8" />
<line x1="483.18" y1="251.14" x2="485.58" y2="251.14" stroke="#3f4ca8" stroke-width="0.8" />
<circle cx="484.38" cy="235.98" r="1.9" fill="#263290"/>
<line x1="509.34" y1="220.82" x2="509.34" y2="251.14" stroke="#3f4ca8" stroke-width="0.85" />
<line x1="508.14" y1="220.82" x2="510.54" y2="220.82" stroke="#3f4ca8" stroke-width="0.8" />
<line x1="508.14" y1="251.14" x2="510.54" y2="251.14" stroke="#3f4ca8" stroke-width="0.8" />
<circle cx="509.34" cy="235.98" r="1.9" fill="#263290"/>
<line x1="534.30" y1="205.66" x2="534.30" y2="237.49" stroke="#3f4ca8" stroke-width="0.85" />
<line x1="533.10" y1="205.66" x2="535.50" y2="205.66" stroke="#3f4ca8" stroke-width="0.8" />
<line x1="533.10" y1="237.49" x2="535.50" y2="237.49" stroke="#3f4ca8" stroke-width="0.8" />
<circle cx="534.30" cy="221.58" r="1.9" fill="#263290"/>
<line x1="378.50" y1="318.60" x2="380.50" y2="318.60" stroke="#222" stroke-width="0.8" />
<text x="376.5" y="321.6" font-size="8.5" fill="#222" stroke="#222" stroke-width="0.14" text-anchor="end" >5</text>
<line x1="378.50" y1="280.70" x2="380.50" y2="280.70" stroke="#222" stroke-width="0.8" />
<text x="376.5" y="283.7" font-size="8.5" fill="#222" stroke="#222" stroke-width="0.14" text-anchor="end" >10</text>
<line x1="378.50" y1="242.80" x2="380.50" y2="242.80" stroke="#222" stroke-width="0.8" />
<text x="376.5" y="245.8" font-size="8.5" fill="#222" stroke="#222" stroke-width="0.14" text-anchor="end" >15</text>
<line x1="378.50" y1="204.90" x2="380.50" y2="204.90" stroke="#222" stroke-width="0.8" />
<text x="376.5" y="207.9" font-size="8.5" fill="#222" stroke="#222" stroke-width="0.14" text-anchor="end" >20</text>
<line x1="387.04" y1="345.30" x2="387.04" y2="343.30" stroke="#222" stroke-width="0.8" />
<text x="387.0" y="353.2" font-size="8.5" fill="#222" stroke="#222" stroke-width="0.14" text-anchor="middle" >5</text>
<line x1="409.50" y1="345.30" x2="409.50" y2="343.30" stroke="#222" stroke-width="0.8" />
<text x="409.5" y="353.2" font-size="8.5" fill="#222" stroke="#222" stroke-width="0.14" text-anchor="middle" >50</text>
<line x1="434.46" y1="345.30" x2="434.46" y2="343.30" stroke="#222" stroke-width="0.8" />
<text x="434.5" y="353.2" font-size="8.5" fill="#222" stroke="#222" stroke-width="0.14" text-anchor="middle" >100</text>
<line x1="459.42" y1="345.30" x2="459.42" y2="343.30" stroke="#222" stroke-width="0.8" />
<text x="459.4" y="353.2" font-size="8.5" fill="#222" stroke="#222" stroke-width="0.14" text-anchor="middle" >150</text>
<line x1="484.38" y1="345.30" x2="484.38" y2="343.30" stroke="#222" stroke-width="0.8" />
<text x="484.4" y="353.2" font-size="8.5" fill="#222" stroke="#222" stroke-width="0.14" text-anchor="middle" >200</text>
<line x1="509.34" y1="345.30" x2="509.34" y2="343.30" stroke="#222" stroke-width="0.8" />
<text x="509.3" y="353.2" font-size="8.5" fill="#222" stroke="#222" stroke-width="0.14" text-anchor="middle" >250</text>
<line x1="534.30" y1="345.30" x2="534.30" y2="343.30" stroke="#222" stroke-width="0.8" />
<text x="534.3" y="353.2" font-size="8.5" fill="#222" stroke="#222" stroke-width="0.14" text-anchor="middle" >RT</text>
<text x="459.4" y="363.3" font-size="10" fill="#222" stroke="#222" stroke-width="0.14" text-anchor="middle" >Temperature [K]</text>
<text x="365.8" y="269.5" font-size="10.3" fill="#222" stroke="#222" stroke-width="0.14" text-anchor="middle" transform="rotate(-90 365.8 269.5)" >Photoncount [kcts]</text>
<text x="367.0" y="193.5" font-size="12" fill="#111" stroke="#111" stroke-width="0.14" text-anchor="start" >(f)</text>
<rect x="380.40" y="200.80" width="51.40" height="19.00" fill="#fff" stroke="#ddd" stroke-width="0.5" />
<line x1="383.50" y1="205.50" x2="391.50" y2="205.50" stroke="#2a3590" stroke-width="1" />
<circle cx="387.5" cy="205.5" r="1.5" fill="#2a3590"/>
<text x="393.8" y="207.7" font-size="6.5" fill="#222" stroke="#222" stroke-width="0.06" text-anchor="start" >Nanodisk</text>
<line x1="383.50" y1="214.80" x2="391.50" y2="214.80" stroke="#2a6a30" stroke-width="1" />
<circle cx="387.5" cy="214.8" r="1.5" fill="#2a6a30"/>
<text x="393.8" y="217.0" font-size="6.5" fill="#222" stroke="#222" stroke-width="0.06" text-anchor="start" >Unfabricated</text></svg></body></html>
